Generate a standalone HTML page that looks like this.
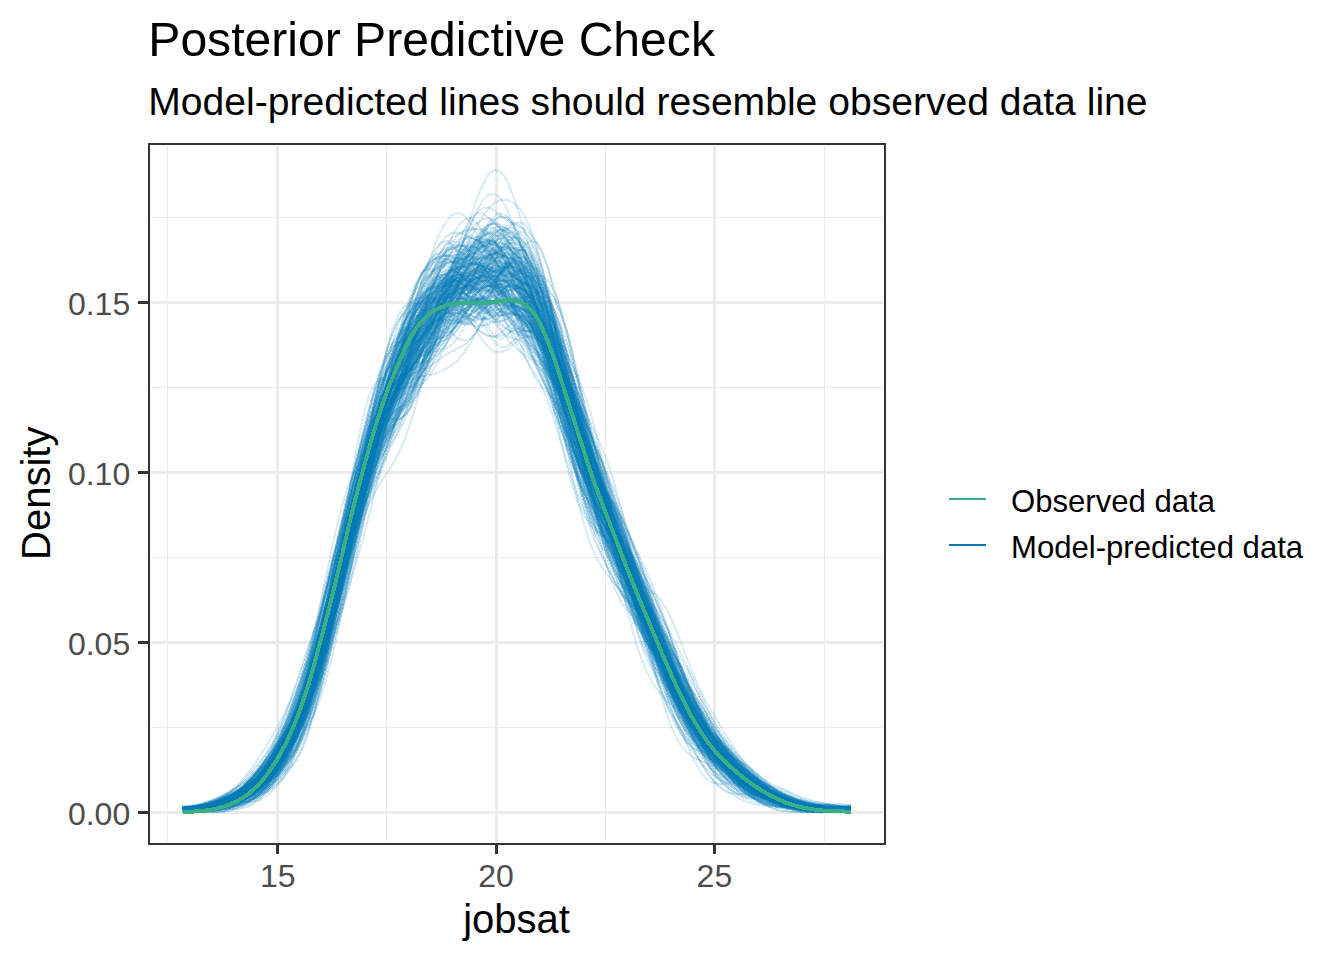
<!DOCTYPE html>
<html lang="en">
<head>
<meta charset="utf-8">
<title>Posterior Predictive Check</title>
<style>
html,body{margin:0;padding:0;background:#ffffff;}
body{width:1344px;height:960px;overflow:hidden;font-family:"Liberation Sans",sans-serif;}
svg{display:block;}
</style>
</head>
<body>
<svg width="1344" height="960" viewBox="0 0 1344 960">
<rect x="0" y="0" width="1344" height="960" fill="#ffffff"/>
<clipPath id="pc"><rect x="150" y="145" width="734" height="698"/></clipPath>
<g fill="#ebebeb" shape-rendering="crispEdges">
<rect x="167" y="146" width="1" height="696"/>
<rect x="386" y="146" width="1" height="696"/>
<rect x="605" y="146" width="1" height="696"/>
<rect x="824" y="146" width="1" height="696"/>
<rect x="151" y="217" width="732" height="1"/>
<rect x="151" y="387" width="732" height="1"/>
<rect x="151" y="557" width="732" height="1"/>
<rect x="151" y="727" width="732" height="1"/>
<rect x="276" y="146" width="3" height="696"/>
<rect x="495" y="146" width="3" height="696"/>
<rect x="713" y="146" width="3" height="696"/>
<rect x="151" y="301" width="732" height="3"/>
<rect x="151" y="471" width="732" height="3"/>
<rect x="151" y="641" width="732" height="3"/>
<rect x="151" y="811" width="732" height="3"/>
</g>
<g clip-path="url(#pc)" shape-rendering="crispEdges">
<g stroke="#0077b5" stroke-opacity="0.15" stroke-width="2" fill="none" stroke-linejoin="round" stroke-linecap="butt">
<path d="M182.5 810.6l6-.2 6-.4 6-.6 6-.8 6-1.2 6-1.5 6-2.1 6-2.6 6-3.3 6-4 6-4.8 6-5.7 6-6.7 6-7.6 6-8.4 6-9.2 6-9.9 6-10.6 6-11.3 6-12.5 6-14.5 6-17.5 6-20 6-22.3 6-25 6-27.8 6-30 6-30.9 6-29.8 6-26.4 6-21.2 6-15.5 6-10.6 6-8 6-8.4 6-10.7 6-13.2 6-14 6-13 6-10.5 6-8 6-6.2 6-5.1 6-4.6 6-4.2 6-3.4 6-1.8 6 .4 6 2.6 6 3.7 6 3.3 6 1.5 6-.6 6-1.6 6-.9 6 1.9 6 6.3 6 11.2 6 15.8 6 19 6 20.6 6 20.7 6 19.5 6 18 6 16.9 6 15.8 6 14.2 6 11.9 6 9.4 6 7.6 6 7 6 7.4 6 8.4 6 9.6 6 11.2 6 13.1 6 15.6 6 18.1 6 19.6 6 19.5 6 18 6 15.4 6 12.6 6 10.4 6 9 6 8.1 6 7.6 6 7.4 6 7.1 6 6.6 6 6 6 5.6 6 5.2 6 4.7 6 4.3 6 4 6 3.6 6 3.4 6 3.2 6 3 6 2.6 6 2.4 6 1.9 6 1.5 6 1.1 6 .8 6 .7 6 .6 6 .6 6 .5 6 .2 2.3 0"/>
<path d="M182.5 811.5l6-.2 6-.4 6-.7 6-1.1 6-1.5 6-2 6-2.2 6-2.4 6-2.4 6-2.8 6-3.5 6-4.7 6-6.3 6-7.8 6-9.2 6-10.2 6-11.5 6-12.9 6-14.8 6-17 6-19.1 6-20.9 6-21.2 6-19.9 6-18.6 6-18.6 6-20 6-22.5 6-25.7 6-28.2 6-29.3 6-28.7 6-26.5 6-23.7 6-21.3 6-20.2 6-19.4 6-17.8 6-14.6 6-9.6 6-3.5 6 2.8 6 8 6 11.2 6 11.8 6 9.3 6 4.6 6-.9 6-6 6-9.2 6-10.5 6-9.6 6-7.7 6-4.9 6-2 6 1.2 6 5 6 9.7 6 15 6 20.6 6 25.3 6 28.2 6 28.4 6 26 6 22.5 6 18.6 6 15.2 6 12.6 6 11.1 6 10.5 6 11.1 6 12.1 6 13 6 14.1 6 14.8 6 15.3 6 15.4 6 14.9 6 14 6 13 6 12.2 6 11.8 6 11.7 6 11.2 6 10.3 6 9.1 6 7.8 6 6.9 6 6.5 6 6.4 6 6.2 6 5.9 6 5.6 6 5.1 6 4.8 6 4.9 6 5.1 6 5.3 6 5.3 6 5 6 4.2 6 3.3 6 2.4 6 1.5 6 0 6 0 6 0 6 0 6 0 6 0 6 0 2.3 0"/>
<path d="M182.5 811.6l6 0 6 0 6-.4 6-.6 6-.4 6-.5 6-.8 6-1.2 6-1.8 6-2.5 6-3.3 6-4.3 6-5.5 6-6.5 6-7.6 6-8.1 6-8.6 6-9.4 6-11.1 6-13.4 6-16.3 6-19.4 6-22.6 6-24.3 6-24.7 6-24.9 6-25.7 6-26.7 6-27.4 6-27.5 6-26.4 6-23.3 6-18.8 6-13 6-7.7 6-4.9 6-5.4 6-8.7 6-12.9 6-16.3 6-17.7 6-17 6-14.5 6-10.9 6-7.2 6-4.2 6-2.3 6-1.3 6-.7 6-.5 6-.5 6-.9 6-1.8 6-3.5 6-5.6 6-7.2 6-7.4 6-4.5 6 1.2 6 9.5 6 18.2 6 25.3 6 29.2 6 29.5 6 27.8 6 25.3 6 23.4 6 22.3 6 21.9 6 22 6 21.7 6 20.4 6 18.2 6 15.9 6 14 6 13 6 12.8 6 12.6 6 12.3 6 11.8 6 11.3 6 11 6 10.8 6 10.6 6 10.4 6 10 6 9.6 6 9.2 6 8.9 6 8.3 6 7.9 6 7.5 6 7.1 6 6.5 6 5.9 6 5.3 6 4.6 6 4 6 3.6 6 3 6 2.4 6 2 6 1.5 6 .9 6 0 6 0 6-.2 6-.6 6-.7 6-.5 6-.3 2.3-.1"/>
<path d="M182.5 811.5l6 0 6-.5 6-.7 6-1 6-1.2 6-1.5 6-1.8 6-2.1 6-2.4 6-2.9 6-3.8 6-4.8 6-6.1 6-7.4 6-8.4 6-8.8 6-8.9 6-9 6-9.8 6-11.8 6-15.2 6-20.1 6-25 6-28.4 6-30.1 6-30.9 6-30.6 6-29.3 6-27.2 6-24.6 6-21.2 6-17.2 6-12.5 6-8 6-5.3 6-5.1 6-6.7 6-9.4 6-11.8 6-13.6 6-14.4 6-13.8 6-11.6 6-8.2 6-4.4 6-1.8 6-1.1 6-2.2 6-3.9 6-5.2 6-5.3 6-4.2 6-2.1 6 .1 6 1.5 6 2.2 6 2.6 6 3.2 6 4.7 6 7.1 6 9.8 6 12.2 6 14.2 6 15.9 6 18.2 6 21.4 6 24.7 6 27.3 6 28.3 6 27.5 6 25.1 6 21.7 6 18 6 15.4 6 14.6 6 15.6 6 17.6 6 19.5 6 20.2 6 19.4 6 17.6 6 15.2 6 13 6 10.9 6 9.1 6 7.4 6 6 6 4.8 6 4.1 6 4.1 6 4.3 6 4.4 6 4.4 6 4.1 6 3.8 6 3.3 6 3.2 6 2.9 6 2.5 6 2.2 6 1.7 6 1.2 6 .7 6 .4 6 .3 6 .1 6 .1 6 .2 6 .3 6 .3 6 .2 2.3 0"/>
<path d="M182.5 808.3l6-.7 6-.9 6-.8 6-.8 6-.6 6-.7 6-.9 6-1.4 6-2.1 6-3.3 6-4.8 6-6.5 6-8 6-9 6-9.4 6-9.1 6-8.2 6-7.6 6-7.7 6-9 6-11.5 6-15.5 6-19.7 6-22.8 6-24.7 6-26.2 6-26.6 6-26 6-24.5 6-22.7 6-21.2 6-20.3 6-19.9 6-20.1 6-20.3 6-20.3 6-19.4 6-16.7 6-13.3 6-9.9 6-8 6-7.4 6-7.9 6-8.4 6-8.6 6-8.5 6-8.1 6-6.8 6-4.6 6-1.5 6 1.7 6 4 6 5.3 6 5.4 6 5 6 4.7 6 5 6 6.2 6 8.1 6 10.9 6 14.5 6 18.3 6 21.6 6 23.8 6 24.4 6 23.4 6 20.9 6 17.6 6 14.6 6 13.3 6 13.7 6 15.6 6 17.5 6 19.1 6 19.4 6 18.8 6 17.6 6 15.8 6 13.8 6 11.9 6 10.6 6 9.7 6 9.5 6 9.5 6 9.5 6 9.5 6 9.2 6 9.1 6 9.1 6 9 6 8.9 6 8.7 6 8.3 6 7.4 6 6.3 6 5.1 6 3.9 6 2.7 6 1.8 6 1.2 6 .7 6 .5 6 .3 6 .3 6 .3 6 .4 6 .6 6 .7 6 .6 6 .5 6 .2 2.3 0"/>
<path d="M182.5 810.1l6-.8 6-1 6-1.3 6-1.7 6-2 6-2.3 6-2.5 6-2.9 6-3.6 6-4.6 6-5.7 6-7 6-8.2 6-8.7 6-9.4 6-10.2 6-11.6 6-13.4 6-15.9 6-18.7 6-21.2 6-22.7 6-23.4 6-24.4 6-25.6 6-26.3 6-26.2 6-25 6-22.6 6-19.2 6-14.9 6-9.9 6-5 6-1.6 6-.5 6-1.6 6-3.4 6-5.4 6-7.1 6-9 6-11.6 6-15 6-17.9 6-19.4 6-18.8 6-16.4 6-12.6 6-7.7 6-2.3 6 3.3 6 8.5 6 12.3 6 14.1 6 13.9 6 11.6 6 8.6 6 6.1 6 4.9 6 5.4 6 7.2 6 10.1 6 13.5 6 16.8 6 19.1 6 20.2 6 19.4 6 17.2 6 14 6 10.9 6 8.8 6 8.6 6 10.3 6 13.1 6 15.6 6 17.3 6 17.5 6 16.4 6 15.1 6 13.7 6 12.9 6 12 6 11.6 6 11.3 6 11.2 6 11.3 6 11.1 6 10.5 6 9.2 6 7.6 6 5.8 6 4.4 6 3.5 6 3.5 6 3.7 6 4.4 6 4.9 6 5.4 6 5.5 6 5.4 6 4.9 6 4 6 3.1 6 2.1 6 1.3 6 .9 6 .7 6 .6 6 .5 6 .4 6 .1 6 0 2.3 0"/>
<path d="M182.5 809.6l6 .4 6 .1 6-.3 6-.7 6-1.2 6-1.6 6-2 6-2.3 6-2.7 6-3.1 6-4 6-4.9 6-6.2 6-7.3 6-8.6 6-9.4 6-10.2 6-11.1 6-11.9 6-12.6 6-13.3 6-14.2 6-15.1 6-15.4 6-16.4 6-18.7 6-21.9 6-24.8 6-27.1 6-27.8 6-26.5 6-23.2 6-17.9 6-12 6-7.5 6-6 6-7.5 6-10.9 6-14.6 6-17.5 6-19.6 6-20.3 6-20.2 6-18.6 6-15.5 6-11.7 6-7.1 6-2.4 6 2.4 6 6.3 6 8.8 6 9 6 7.6 6 5 6 2.5 6 1 6 .8 6 2 6 4.1 6 7 6 10.2 6 13.6 6 16.9 6 19.5 6 21.4 6 22.1 6 21.3 6 19.5 6 17.3 6 16 6 16.6 6 18.5 6 20.4 6 21 6 19.7 6 17 6 14 6 11.9 6 11.3 6 12 6 13.3 6 14.5 6 15 6 14.7 6 13.5 6 11.9 6 9.9 6 7.9 6 5.6 6 3.9 6 2.6 6 2 6 2.2 6 3 6 4 6 4.7 6 5.1 6 4.9 6 4.4 6 3.6 6 2.8 6 2.1 6 1.5 6 1.1 6 .7 6 .4 6 .2 6 .2 6 .2 6 .2 6 .1 2.3 0"/>
<path d="M182.5 807.7l6-.8 6-1.1 6-1.5 6-1.7 6-2 6-2.1 6-1.9 6-1.6 6-1.3 6-1.3 6-1.5 6-2.2 6-3 6-4.1 6-5.2 6-6.3 6-8.1 6-10.8 6-13.7 6-16.7 6-19.8 6-22.3 6-23.4 6-23 6-22.9 6-23.7 6-24.9 6-26.5 6-27.8 6-28.4 6-27.6 6-25.5 6-21.9 6-17.5 6-13.5 6-10.4 6-8.3 6-6.8 6-6.1 6-6 6-6.5 6-7 6-7.3 6-7 6-6.4 6-6.4 6-7.2 6-8.1 6-8.5 6-7.9 6-5.8 6-3 6 .2 6 2.7 6 4 6 4.3 6 4.2 6 5 6 7.3 6 10.7 6 14.4 6 17.5 6 18.8 6 18.2 6 17 6 16 6 15.8 6 16.5 6 17.4 6 18.3 6 18.5 6 17.8 6 16.2 6 14.6 6 13.8 6 14.3 6 16.3 6 19.1 6 21.5 6 22.5 6 21.8 6 19.5 6 16.2 6 12.4 6 9 6 6.4 6 4.8 6 4.4 6 5.1 6 5.9 6 6.6 6 7.3 6 7.5 6 7.6 6 7.2 6 6.5 6 5.6 6 4.4 6 3.3 6 2.4 6 1.7 6 1.2 6 .9 6 .8 6 .8 6 .8 6 .7 6 .4 6 .2 6-.1 6-.3 2.3-.1"/>
<path d="M182.5 810.6l6-.2 6-.7 6-1.3 6-1.8 6-2.5 6-3.1 6-3.4 6-3.5 6-3.1 6-2.5 6-2.3 6-2.4 6-3.2 6-4.9 6-6.9 6-8.9 6-10.8 6-12.4 6-13.7 6-15 6-16.6 6-19.2 6-21.4 6-22.8 6-24 6-25.3 6-26.4 6-27 6-27 6-26.4 6-24.6 6-21.6 6-17.4 6-12.5 6-8.8 6-6.7 6-6.2 6-6.6 6-7.6 6-9 6-10.4 6-11.6 6-12.2 6-11.5 6-9.8 6-8 6-6.3 6-4.8 6-3.2 6-1.7 6-.3 6 .9 6 1.8 6 2.9 6 4.3 6 6.3 6 8.6 6 10.4 6 11.4 6 11.6 6 12 6 13 6 14.6 6 16.9 6 19 6 20.8 6 21.5 6 21.4 6 21 6 20.8 6 21 6 20.8 6 20.2 6 18.9 6 17 6 14.9 6 12.9 6 11.1 6 9.7 6 9.2 6 9.5 6 10.2 6 11 6 11.4 6 11.5 6 11 6 10.4 6 9.5 6 8.5 6 7.5 6 6.3 6 5.2 6 4.1 6 3.3 6 2.7 6 2.4 6 2.5 6 2.5 6 2.5 6 2.5 6 2.2 6 1.9 6 1.7 6 1.3 6 1 6 .7 6 .5 6 .2 6-.1 6-.3 6-.5 2.3-.2"/>
<path d="M182.5 809.9l6-.2 6-.3 6-.4 6-.6 6-1 6-1.6 6-2.4 6-3.2 6-3.8 6-4.5 6-5.3 6-6 6-7 6-8.3 6-9.7 6-10.9 6-11.9 6-11.8 6-11.7 6-11.8 6-12.9 6-15.6 6-18.7 6-21.2 6-23 6-24.1 6-24.2 6-23.8 6-23.7 6-24.3 6-25.2 6-25.7 6-24.8 6-22.4 6-18.9 6-15.4 6-12.3 6-9.9 6-8.6 6-8.7 6-9.6 6-10.5 6-10.5 6-8.7 6-5.5 6-1.4 6 2 6 3.9 6 4.1 6 2.6 6 .6 6-.7 6-.5 6 .8 6 3 6 6 6 9.6 6 14.1 6 19.1 6 23.2 6 25.4 6 25.4 6 23.1 6 19.7 6 16.7 6 14.5 6 13.3 6 12.4 6 11.3 6 10.5 6 10.1 6 9.9 6 10.1 6 10.7 6 11.6 6 12.9 6 14 6 15 6 15.2 6 14.8 6 13.8 6 12.8 6 11.6 6 10.5 6 9.4 6 8.3 6 7.4 6 7 6 7.2 6 7.4 6 7.8 6 7.9 6 7.6 6 6.9 6 5.8 6 4.6 6 3.6 6 2.7 6 2.3 6 1.9 6 1.9 6 1.9 6 1.8 6 1.7 6 1.4 6 1.1 6 .8 6 .5 6 .2 6 .1 6-.1 2.3-.1"/>
<path d="M182.5 811.2l6-.2 6-.4 6-.7 6-1.2 6-1.7 6-2.3 6-2.6 6-2.8 6-2.6 6-2.2 6-2 6-2.2 6-3.1 6-4.6 6-6.8 6-9 6-11 6-12.8 6-14.3 6-16 6-18.4 6-21.4 6-24.1 6-24.7 6-23.5 6-21.9 6-20.2 6-19.1 6-19.4 6-20.7 6-22.5 6-24 6-24.4 6-23.3 6-21.9 6-20.5 6-19.3 6-18.1 6-16.6 6-15.2 6-13.9 6-12.3 6-10.1 6-6.7 6-2.6 6 .6 6 1.9 6 .8 6-1.9 6-5 6-6.7 6-5.9 6-2.4 6 2.8 6 8.4 6 13.1 6 16.3 6 18.4 6 19.2 6 19.1 6 18.2 6 16.9 6 15.7 6 15.3 6 16.4 6 18.1 6 19.7 6 19.9 6 19 6 17.6 6 16.7 6 16.6 6 16.8 6 17.3 6 17.1 6 16.3 6 15.3 6 14 6 12.8 6 12 6 11.7 6 12 6 12.6 6 13.5 6 13.9 6 13.7 6 12.8 6 11 6 8.5 6 6.2 6 4.2 6 2.8 6 2.2 6 2.2 6 2.3 6 2.8 6 3.1 6 3 6 2.7 6 2.4 6 1.8 6 1.3 6 1.1 6 .8 6 .7 6 .7 6 .6 6 .6 6 .3 6 0 6-.4 2.3-.1"/>
<path d="M182.5 809.8l6-.7 6-.8 6-.9 6-1 6-1.2 6-1.6 6-2 6-2.7 6-3.5 6-4.4 6-5.4 6-6.5 6-7.6 6-8.5 6-8.9 6-9 6-8.8 6-8.7 6-9.5 6-11 6-13.7 6-17 6-19.7 6-21.1 6-22.3 6-23.5 6-24.4 6-24.7 6-24.8 6-24.3 6-23.7 6-22.8 6-21.6 6-20.2 6-19.2 6-18.4 6-17 6-14.8 6-11.6 6-8 6-4.7 6-2.3 6-1.1 6-.8 6-1.5 6-2.8 6-4.6 6-6.2 6-7.6 6-8.3 6-8.1 6-6.5 6-3.3 6 .9 6 5.7 6 9.7 6 12.7 6 14.5 6 15.6 6 16.2 6 16.8 6 17.5 6 17.8 6 17.8 6 18.1 6 18.7 6 19.3 6 19.4 6 18.6 6 17.3 6 15.9 6 14.3 6 13 6 12.1 6 11.6 6 11.6 6 12.1 6 13.3 6 14.6 6 16.1 6 17.4 6 17.7 6 17.2 6 15.3 6 12.8 6 10 6 7.6 6 5.8 6 4.6 6 4.4 6 4.4 6 4.6 6 4.7 6 4.8 6 4.4 6 4.1 6 3.8 6 3.4 6 2.9 6 2.4 6 1.8 6 1.4 6 1.1 6 1 6 .8 6 .6 6 .5 6 .3 6 .3 6 .3 6 .4 2.3 .2"/>
<path d="M182.5 809.5l6-.1 6-.4 6-.6 6-.8 6-1 6-1.4 6-1.7 6-2.1 6-2.5 6-2.7 6-3 6-3.4 6-4.1 6-5.2 6-6.7 6-8.3 6-10 6-11.7 6-13.7 6-15.9 6-18.4 6-21.6 6-24.4 6-25.8 6-26.2 6-26.8 6-27.3 6-27.1 6-26.3 6-24.7 6-22.6 6-20.7 6-18.8 6-16.6 6-14.3 6-11.7 6-8.8 6-5.9 6-4.4 6-5.3 6-8.8 6-13.4 6-17 6-17.5 6-14.7 6-10.2 6-6.4 6-4.1 6-3.8 6-4.3 6-4.6 6-3.8 6-1.5 6 1.5 6 4.9 6 8 6 10.4 6 12.1 6 13.6 6 15.1 6 16.8 6 18.8 6 20.8 6 22.5 6 23.6 6 23.9 6 23.5 6 22.1 6 20.3 6 19.2 6 18.8 6 18.5 6 17.9 6 16.4 6 14.4 6 12.8 6 12.1 6 12.8 6 14.1 6 15.4 6 16.1 6 15.8 6 14.8 6 13.1 6 11.4 6 9.7 6 7.9 6 6.3 6 5 6 4.3 6 4 6 4.3 6 4.7 6 5 6 4.9 6 4.4 6 3.8 6 3.2 6 2.6 6 2.2 6 2 6 1.9 6 1.9 6 1.7 6 1.4 6 1.1 6 .6 6 .1 6-.3 6-.6 6-.6 2.3-.1"/>
<path d="M182.5 811l6-.5 6-.4 6-.3 6-.3 6-.5 6-1 6-1.7 6-2.6 6-3.5 6-4.3 6-5.1 6-5.9 6-6.6 6-7.7 6-8.9 6-10.4 6-12.1 6-13.5 6-14.8 6-15.6 6-16 6-16.8 6-17.6 6-17.8 6-18 6-19.1 6-20.6 6-21.8 6-22.2 6-21.7 6-20.4 6-18.8 6-16.9 6-14.7 6-12.5 6-10.7 6-9.3 6-8.5 6-8.9 6-10.3 6-12.7 6-15.2 6-16.8 6-16.9 6-15.6 6-13.7 6-11.8 6-10 6-7.8 6-5.3 6-2.5 6 .2 6 2.5 6 4.3 6 5.6 6 6.5 6 7.5 6 8.7 6 10.6 6 13.6 6 17.2 6 21.3 6 24.3 6 26 6 26.1 6 25.1 6 23.3 6 20.6 6 17.6 6 15.1 6 13.4 6 13 6 13.3 6 13.9 6 14.6 6 15.1 6 15.8 6 16.7 6 17.6 6 17.8 6 17.1 6 15.5 6 13.1 6 10.5 6 8 6 5.8 6 4.4 6 3.2 6 2.8 6 3.1 6 3.9 6 4.9 6 5.7 6 6.2 6 5.8 6 5.1 6 4.2 6 3.2 6 2.5 6 1.9 6 1.7 6 1.5 6 1.4 6 1.5 6 1.4 6 1.2 6 1 6 .9 6 .8 6 .7 6 .6 2.3 .3"/>
<path d="M182.5 808.9l6-.3 6-.4 6-.5 6-.7 6-1 6-1.3 6-1.8 6-2.6 6-3.6 6-4.7 6-5.8 6-7 6-8 6-9 6-10 6-10.7 6-11.4 6-11.8 6-12.5 6-13.8 6-15.5 6-16.8 6-18.2 6-20.3 6-22.8 6-24.9 6-26.5 6-26.8 6-25.5 6-22.5 6-18.4 6-13.7 6-9.8 6-7.7 6-8.1 6-10.2 6-12.9 6-15.1 6-16.1 6-15.5 6-13.7 6-11.1 6-8.3 6-5.8 6-3.9 6-2.5 6-1.6 6-.7 6 .6 6 1.7 6 2.2 6 2 6 1.2 6 .6 6 1.1 6 3 6 6.2 6 10.1 6 13.4 6 15.6 6 15.8 6 14.5 6 12.2 6 9.6 6 7.9 6 7.3 6 8.1 6 9.5 6 10.9 6 12 6 13.2 6 14.7 6 16.6 6 18.3 6 19.8 6 20.4 6 20.4 6 19.5 6 18.3 6 17 6 15.5 6 13.9 6 12.4 6 11 6 10.1 6 9.4 6 8.7 6 8.1 6 7.4 6 6.8 6 6.3 6 6.1 6 5.9 6 5.8 6 5.3 6 4.8 6 4.3 6 3.7 6 3.4 6 3.2 6 3.1 6 3 6 2.7 6 2.3 6 1.7 6 1.3 6 .8 6 .7 6 .5 6 .5 6 .4 2.3 .2"/>
<path d="M182.5 809.2l6 .4 6 .4 6 .1 6-.2 6-.6 6-1.1 6-1.7 6-2.4 6-3.2 6-3.9 6-4.9 6-6 6-7.2 6-8.6 6-10.2 6-11.5 6-12.7 6-13.2 6-13.8 6-14.1 6-14.4 6-15 6-16.4 6-17.6 6-19.1 6-21.9 6-25.4 6-28.4 6-30.1 6-30 6-28.2 6-24.7 6-20.2 6-15.3 6-11.4 6-9.8 6-10.6 6-12.5 6-14.3 6-15 6-14.3 6-12.5 6-9.9 6-6.7 6-3.6 6-1 6 .6 6 1.3 6 1.9 6 2.7 6 3.7 6 4.7 6 4.9 6 3.6 6 .8 6-2.3 6-4.6 6-5 6-3.1 6 .4 6 5 6 10.4 6 15.9 6 21.3 6 26.2 6 29.2 6 29.3 6 26.7 6 23 6 20 6 19.1 6 20 6 22 6 23.8 6 24.5 6 24.1 6 22.2 6 19.5 6 16.4 6 13.4 6 11.2 6 9.7 6 8.8 6 8.1 6 7.3 6 6.9 6 6.9 6 7.1 6 7.6 6 7.8 6 7.5 6 6.9 6 5.7 6 4.7 6 3.8 6 3.1 6 2.5 6 1.8 6 1.2 6 .5 6 .2 6 0 6 .1 6 .3 6 .3 6 .5 6 .6 6 .5 6 .5 6 .4 6 .1 2.3 0"/>
<path d="M182.5 810l6 .4 6 0 6-.7 6-1.4 6-2.3 6-3 6-3.5 6-3.6 6-3.8 6-4.1 6-4.7 6-5.5 6-6.6 6-7.4 6-8 6-8.5 6-8.9 6-10.1 6-12 6-15.5 6-19.7 6-23.4 6-25.7 6-27.1 6-27.9 6-27.9 6-27.2 6-26.3 6-24.8 6-22.7 6-19.8 6-15.7 6-10.9 6-7 6-4.9 6-5.6 6-8.2 6-11.5 6-14 6-15.1 6-14.2 6-12.3 6-10.3 6-9.1 6-8.9 6-9.8 6-10.5 6-9.9 6-7.2 6-2.9 6 2.2 6 7.4 6 11.8 6 15.3 6 17.8 6 19.3 6 19.3 6 17.9 6 15.6 6 13.1 6 11.2 6 10.5 6 10.7 6 11.7 6 13.3 6 15.2 6 16.8 6 17.2 6 15.9 6 13.3 6 10.6 6 8.7 6 7.9 6 8.3 6 9.3 6 10.7 6 12.1 6 13.7 6 15 6 15.7 6 15.8 6 15.2 6 14.1 6 12.8 6 11.6 6 10.5 6 9.7 6 9 6 8.3 6 7.8 6 7.3 6 7 6 6.7 6 6.3 6 5.8 6 5.1 6 4.3 6 3.6 6 3.2 6 2.9 6 2.8 6 2.7 6 2.5 6 2.1 6 1.6 6 1 6 .4 6 0 6-.4 6-.6 6-.4 2.3 0"/>
<path d="M182.5 809.4l6-.3 6-.4 6-.5 6-.7 6-.9 6-1.3 6-1.9 6-2.5 6-3.3 6-4.1 6-4.8 6-5.6 6-6.2 6-7 6-7.7 6-8.7 6-9.9 6-11.4 6-13.2 6-15.3 6-17.9 6-20.6 6-21.8 6-21.5 6-20.7 6-20 6-19.4 6-19.5 6-20.5 6-22.1 6-23.6 6-24.7 6-24.8 6-24.3 6-24.1 6-24.4 6-24.2 6-22.7 6-19.5 6-14.7 6-9.2 6-4.3 6-.7 6 1.1 6 1.5 6 1.1 6 1.1 6 2.2 6 3.9 6 5.6 6 6.5 6 6.7 6 6.7 6 6.7 6 7.1 6 7.8 6 9.1 6 10.6 6 12.4 6 13.5 6 13.3 6 11.8 6 9.1 6 6.4 6 5 6 5.8 6 8.6 6 12.6 6 16.9 6 20.5 6 23.5 6 25 6 24.4 6 22.1 6 18.1 6 13.5 6 9.6 6 7.5 6 7.4 6 8.8 6 10.9 6 12.8 6 14.1 6 14.2 6 13.3 6 12 6 10.3 6 9.1 6 8.4 6 8.1 6 8.2 6 8.3 6 8.5 6 8.2 6 7.4 6 6.2 6 4.8 6 3.5 6 2.2 6 1.4 6 .8 6 .5 6 .3 6 .3 6 .4 6 .3 6 .4 6 .3 6 .2 6 .2 6 .3 2.3 .1"/>
<path d="M182.5 808.6l6 0 6 0 6-.2 6-.2 6-.6 6-.8 6-1.1 6-1.5 6-2.1 6-3.1 6-4.5 6-6.2 6-8 6-9.8 6-11.5 6-13 6-14.3 6-15.3 6-15.9 6-16.5 6-17.5 6-18.1 6-18 6-18.3 6-19.9 6-22.4 6-24.9 6-26.8 6-27.4 6-25.8 6-22.7 6-18.1 6-13.1 6-9.1 6-7.1 6-7.2 6-8.7 6-10.7 6-12.9 6-14.7 6-15.7 6-15.6 6-14.1 6-10.5 6-5.8 6-.9 6 3.4 6 6.4 6 7.9 6 8.4 6 7.9 6 7 6 5.9 6 4.3 6 2.2 6 .2 6-.8 6 .1 6 3.1 6 7.8 6 12.8 6 16.6 6 18.4 6 18 6 16.8 6 15.4 6 14.4 6 13.9 6 13.8 6 14.4 6 15.4 6 16.3 6 16.8 6 16.9 6 16.8 6 16.9 6 17.2 6 17.5 6 17.1 6 15.9 6 14.1 6 11.9 6 10.2 6 8.9 6 8.1 6 7.6 6 7.5 6 7.6 6 7.6 6 7.4 6 6.8 6 6.1 6 5.4 6 4.9 6 4.4 6 4.1 6 3.9 6 3.6 6 3.2 6 2.8 6 2.4 6 2.1 6 1.8 6 1.5 6 1.3 6 .9 6 .6 6 .2 6-.1 6-.2 6-.2 2.3 0"/>
<path d="M182.5 810.7l6 .5 6 .2 6-.1 6-.6 6-1.1 6-1.7 6-2.1 6-2.4 6-2.4 6-2.4 6-2.7 6-3.2 6-4.4 6-5.7 6-7.7 6-9.5 6-11.6 6-13.9 6-15.6 6-16.8 6-17 6-17.1 6-17.1 6-16.6 6-16.8 6-18.7 6-21.2 6-23.3 6-24.3 6-23.9 6-22.6 6-20.7 6-18.6 6-16.3 6-14.7 6-14.3 6-15.1 6-16.4 6-18 6-19.2 6-19.4 6-17.8 6-14.4 6-9.8 6-5 6-1.8 6-.8 6-1.2 6-2.2 6-2.8 6-2.6 6-2 6-1 6-.3 6 .5 6 2.1 6 4.8 6 9.2 6 15 6 20.7 6 25 6 26.8 6 25.4 6 21.5 6 16.8 6 12.7 6 10.2 6 9.5 6 10.4 6 12.5 6 14.9 6 16.5 6 16.7 6 16.1 6 15.2 6 14.9 6 15.7 6 17.5 6 19.1 6 20 6 19.8 6 18.3 6 15.8 6 12.7 6 9.4 6 6.2 6 4.1 6 3.1 6 3.8 6 5.2 6 6.9 6 8.3 6 8.7 6 8.3 6 7.5 6 6.4 6 5.4 6 4.6 6 3.8 6 2.9 6 2.1 6 1.4 6 .8 6 .3 6 .1 6-.1 6 .1 6 .1 6 .2 6 .1 6 0 2.3 0"/>
<path d="M182.5 811.5l6-.3 6-.7 6-1 6-1.2 6-1.2 6-1.4 6-1.4 6-1.7 6-2 6-2.7 6-3.6 6-4.6 6-5.6 6-6.5 6-7.2 6-7.4 6-7.5 6-8.1 6-9.3 6-11.1 6-13.5 6-16.6 6-19.4 6-21.1 6-22.5 6-25 6-27.9 6-30.5 6-32.3 6-32.4 6-30.6 6-27.4 6-23.3 6-19.2 6-16.1 6-14.1 6-12.6 6-10.3 6-7.5 6-4.6 6-3.1 6-3.6 6-6.4 6-9.7 6-12.6 6-13.9 6-12.8 6-9.6 6-5.3 6-1 6 1.8 6 2.9 6 2.5 6 1.8 6 1.8 6 3.5 6 7.2 6 12.3 6 18.3 6 23.8 6 27.9 6 29.8 6 29.6 6 27.6 6 24.6 6 21.7 6 18.4 6 14.7 6 10.5 6 6.8 6 4.6 6 3.8 6 4.5 6 5.9 6 7.7 6 9.2 6 10.9 6 12.5 6 14.1 6 15.3 6 16.3 6 17.1 6 17.4 6 17.4 6 16.6 6 15.1 6 12.9 6 10.3 6 7.8 6 5.9 6 4.9 6 4.9 6 5.7 6 6.5 6 6.8 6 6.6 6 5.7 6 4.5 6 3 6 2.1 6 1.2 6 .7 6 .5 6 .3 6 .2 6 0 6-.1 6-.1 6-.1 6-.1 6 .1 2.3 0"/>
<path d="M182.5 811.1l6-1.2 6-1.5 6-1.8 6-1.9 6-1.9 6-2.1 6-2.2 6-2.5 6-2.7 6-3 6-3.4 6-4.1 6-5.1 6-6.6 6-8.4 6-10.2 6-12 6-13.4 6-14.8 6-15.5 6-15.8 6-16.2 6-16.1 6-15.4 6-15.1 6-16.4 6-18.8 6-21.6 6-24 6-25.5 6-26.1 6-25.7 6-24.4 6-22.4 6-20.2 6-18.2 6-16.2 6-13.6 6-10.8 6-8.1 6-6 6-5.1 6-5.4 6-6 6-6.9 6-7.6 6-7.9 6-7.4 6-6.2 6-4.5 6-3 6-2.2 6-1.9 6-1.9 6-1 6 .9 6 4.3 6 8 6 11.5 6 14.2 6 16.1 6 17.4 6 18.3 6 18.9 6 19.7 6 20.7 6 21.4 6 21.6 6 21.1 6 20.3 6 19.3 6 18.2 6 16.7 6 15.3 6 14.2 6 13.8 6 14.4 6 15.6 6 16.9 6 17.3 6 16.6 6 14.9 6 12.8 6 10.8 6 9.4 6 8.8 6 8.7 6 8.7 6 8.4 6 7.5 6 6.4 6 5.3 6 4.4 6 3.8 6 3.7 6 3.5 6 3.7 6 3.6 6 3.5 6 3.4 6 3 6 2.8 6 2.3 6 1.8 6 1.3 6 .6 6 .1 6-.2 6-.3 6-.2 6 .1 2.3 .1"/>
<path d="M182.5 809.4l6-.1 6-.4 6-.4 6-.5 6-.6 6-.8 6-1.4 6-1.8 6-2.5 6-3.1 6-4.1 6-5 6-5.9 6-6.8 6-7.3 6-7.5 6-7.7 6-8.2 6-9.1 6-10.7 6-13 6-16.8 6-21 6-24.6 6-27.2 6-29.1 6-29.6 6-28.4 6-25.8 6-22.6 6-19.3 6-16.6 6-14.4 6-12.9 6-12 6-12.2 6-13 6-13.8 6-14.1 6-13.9 6-13.4 6-12.4 6-10.8 6-8.6 6-5.9 6-3.7 6-2.7 6-2.6 6-2.6 6-2 6 0 6 3.2 6 7.7 6 12.2 6 15.9 6 17.6 6 17.2 6 14.7 6 11 6 7.8 6 5.9 6 6.2 6 7.9 6 10.1 6 12.1 6 13.7 6 14.7 6 15.5 6 16.5 6 18.2 6 20.7 6 22.6 6 22.6 6 20.3 6 16 6 11.6 6 8.5 6 8.1 6 9.9 6 12.4 6 14.4 6 14.7 6 13.3 6 10.7 6 8.1 6 6.1 6 5.1 6 4.9 6 5.7 6 6.6 6 7.4 6 7.9 6 7.8 6 7.2 6 6.2 6 5.1 6 4.1 6 3.2 6 2.5 6 1.9 6 1.5 6 1.2 6 .9 6 .9 6 .6 6 .5 6 .4 6 .2 6 0 6 0 6 0 2.3 0"/>
<path d="M182.5 806.8l6-.5 6-.5 6-.4 6-.3 6-.4 6-.8 6-1.3 6-2 6-2.6 6-3.4 6-4.3 6-5.2 6-6 6-6.9 6-7.5 6-8.5 6-9.9 6-12.3 6-15.3 6-18.6 6-21.9 6-24.6 6-25.2 6-23.9 6-22.2 6-21.1 6-20.9 6-21.6 6-23.1 6-24.4 6-24.5 6-23 6-20 6-16.2 6-13.3 6-12.3 6-12.8 6-13.8 6-14.4 6-13.7 6-11.8 6-8.8 6-5.5 6-2 6 .7 6 2.1 6 1.6 6-.2 6-2.4 6-4.1 6-4.9 6-4 6-1.9 6 1.1 6 4.7 6 8 6 11.1 6 13.7 6 16.1 6 18.3 6 19.9 6 20.7 6 19.9 6 17.6 6 14.6 6 12.2 6 11 6 11.5 6 13.1 6 15.4 6 17.8 6 19.3 6 19 6 17.1 6 14.1 6 11.3 6 9.6 6 9.5 6 10.8 6 12.8 6 15.1 6 17 6 18 6 18.2 6 17.1 6 14.6 6 11.5 6 8.2 6 5.3 6 3.9 6 3.7 6 4.4 6 5.2 6 5.9 6 5.8 6 5.2 6 4.1 6 3.1 6 1.9 6 1 6 .4 6 .1 6-.1 6 0 6 .2 6 .2 6 .4 6 .5 6 .4 6 .5 6 .5 2.3 .1"/>
<path d="M182.5 809.3l6 .2 6-.1 6-.5 6-.9 6-1.6 6-2.2 6-2.7 6-3.2 6-4 6-5 6-6.1 6-7.3 6-8.8 6-9.9 6-10.7 6-11.7 6-12.6 6-13.2 6-14.1 6-15.4 6-17.1 6-18.9 6-19.8 6-20.6 6-21.7 6-22.7 6-23.1 6-23.1 6-22.7 6-21.9 6-20.3 6-18.1 6-14.8 6-11 6-7.8 6-5.6 6-4.4 6-4.7 6-6.2 6-9.1 6-13 6-17.1 6-19.7 6-19.6 6-16.5 6-10.7 6-4 6 2 6 5.5 6 5.5 6 2.5 6-1.7 6-5.1 6-6.3 6-4.8 6-1 6 4.1 6 9.8 6 15.2 6 20.6 6 25.3 6 29 6 30.9 6 30.6 6 28.6 6 25.6 6 22.5 6 19.7 6 17.4 6 15.4 6 13.6 6 11.8 6 9.8 6 8.1 6 6.5 6 5.5 6 5.2 6 5.7 6 6.7 6 7.8 6 8.7 6 9.5 6 10.5 6 11.5 6 12.6 6 13.4 6 13.7 6 13.1 6 12 6 10.3 6 8.6 6 7.2 6 6.2 6 5.4 6 4.6 6 4 6 3.4 6 3.1 6 2.8 6 2.4 6 2 6 1.5 6 1.1 6 .6 6 .5 6 .5 6 .3 6 .4 6 .4 6 .3 6 .3 2.3 .1"/>
<path d="M182.5 810.5l6 .4 6 .2 6-.1 6-.4 6-.9 6-1.5 6-2.3 6-3 6-3.8 6-4.8 6-5.7 6-6.6 6-7.5 6-8.2 6-8.6 6-8.7 6-8.8 6-8.8 6-9.7 6-11.5 6-14.8 6-19.2 6-23.3 6-26 6-27.1 6-27 6-25.5 6-22.8 6-19.9 6-17.1 6-14.6 6-12.3 6-10 6-7.9 6-7.4 6-8.7 6-11.5 6-14.8 6-18.1 6-20.6 6-22 6-21.4 6-18.6 6-13.4 6-6.2 6 .7 6 5.9 6 8.3 6 8 6 5.1 6 1.1 6-3.3 6-6.9 6-9.1 6-9.5 6-7.7 6-4 6 1.5 6 8 6 14.7 6 20.6 6 25.2 6 27.5 6 27.4 6 25.3 6 22 6 18.1 6 14.4 6 11 6 8.8 6 8.3 6 9.4 6 11.4 6 13.5 6 15.4 6 16.8 6 18.1 6 19.1 6 19.7 6 19.1 6 17 6 13.9 6 10.8 6 8.4 6 7.4 6 7.7 6 8.4 6 9.1 6 9.3 6 8.6 6 7.6 6 6.5 6 5.9 6 5.4 6 5.1 6 5 6 4.8 6 4.7 6 4.4 6 4.1 6 3.6 6 2.8 6 2.1 6 1.4 6 .8 6 .3 6-.1 6-.3 6-.4 6-.4 6-.2 2.3 0"/>
<path d="M182.5 809.5l6 0 6 0 6-.1 6-.2 6-.5 6-.9 6-1.2 6-1.6 6-2.2 6-3 6-4 6-5.3 6-6.9 6-8.6 6-10.4 6-12.4 6-14.3 6-16.3 6-17.6 6-18.7 6-19.7 6-19.5 6-18 6-16.4 6-15.9 6-16.3 6-17.9 6-20.3 6-22.9 6-25.3 6-26.6 6-26.3 6-24 6-20.3 6-15.6 6-11 6-6.6 6-3.3 6-1.6 6-1.6 6-2.8 6-4.4 6-5.8 6-6.5 6-6.7 6-7.2 6-7.7 6-8 6-7.8 6-7 6-5.6 6-3.8 6-1.7 6 .4 6 2.1 6 3.3 6 3.6 6 3.7 6 4.3 6 6.1 6 9.5 6 14.1 6 18.8 6 22.4 6 24.7 6 25.4 6 24.8 6 23 6 20.8 6 18.6 6 17.3 6 16.6 6 16.2 6 16 6 16.2 6 16.8 6 17.9 6 19.1 6 19.3 6 17.8 6 14.5 6 10.3 6 6.5 6 4.2 6 3.6 6 4.7 6 6.1 6 7.4 6 8.1 6 7.9 6 7.5 6 6.9 6 6.4 6 5.7 6 4.8 6 3.9 6 3 6 2.5 6 2.1 6 2 6 2.1 6 2 6 1.9 6 1.7 6 1.5 6 1.1 6 .8 6 .4 6 .1 6 .1 6 0 2.3 0"/>
<path d="M182.5 809.9l6 0 6-.3 6-.7 6-1.2 6-1.7 6-2.1 6-2.5 6-2.8 6-3.2 6-3.5 6-4.3 6-5.3 6-6.5 6-7.7 6-8.6 6-8.9 6-8.6 6-8.3 6-8.4 6-9.3 6-11 6-14 6-17.3 6-20.3 6-23.1 6-26.4 6-29.6 6-31.8 6-32.8 6-32.2 6-29.9 6-26.2 6-21.5 6-16.5 6-12.5 6-10.2 6-9.1 6-8.2 6-7.3 6-6 6-4.8 6-3.5 6-2.1 6-.3 6 1.2 6 1.6 6 .6 6-1.4 6-4.1 6-7 6-9.7 6-11.9 6-13 6-12.4 6-9.5 6-4.4 6 2.1 6 8.9 6 14.6 6 18.2 6 19.6 6 19.4 6 18.5 6 17.8 6 18.4 6 20.1 6 21.8 6 22.5 6 21.7 6 20.2 6 18.7 6 17.8 6 17.5 6 17.6 6 17.5 6 16.9 6 16.1 6 15.1 6 14.4 6 13.9 6 13.6 6 13.2 6 12.4 6 11.1 6 9.5 6 8.2 6 7 6 6.4 6 6.1 6 6 6 6.2 6 6.4 6 6.7 6 6.5 6 6.1 6 5.4 6 4.6 6 3.8 6 3.1 6 2.7 6 2.2 6 1.6 6 1.3 6 .8 6 .3 6-.1 6-.2 6-.4 6-.3 6-.1 6-.1 2.3 .1"/>
<path d="M182.5 810l6-.6 6-.6 6-.8 6-.8 6-1.1 6-1.6 6-2.3 6-2.8 6-3.2 6-3.6 6-3.7 6-3.9 6-4.3 6-4.8 6-5.4 6-6.2 6-7.2 6-9 6-10.9 6-13 6-15.9 6-19.3 6-22.6 6-25.1 6-27.4 6-29.5 6-30.1 6-28.8 6-25.9 6-22 6-18 6-14.6 6-12.3 6-10.9 6-11.4 6-13.3 6-15.9 6-18.2 6-19.6 6-20 6-19.7 6-18.8 6-17.3 6-14.6 6-11.2 6-7.6 6-4.2 6-1.6 6 .6 6 2.3 6 4.1 6 6.5 6 9 6 11.6 6 13.2 6 14.1 6 14 6 13.4 6 12.3 6 11 6 9.8 6 8.9 6 8.8 6 10 6 12.6 6 15.7 6 18.4 6 19.5 6 19.7 6 19.1 6 18.5 6 17.3 6 15.8 6 14.2 6 12.8 6 12.3 6 13.1 6 14.8 6 16.8 6 18.3 6 18.8 6 18.3 6 16.7 6 14.7 6 12.4 6 10.2 6 8.4 6 7.5 6 7.5 6 7.7 6 7.9 6 7.8 6 7 6 5.6 6 4.3 6 3.2 6 2.5 6 2.1 6 1.9 6 1.9 6 1.8 6 1.6 6 1.3 6 1 6 .6 6 .5 6 .4 6 .4 6 .3 6 .1 6 0 2.3-.1"/>
<path d="M182.5 810.3l6 0 6 0 6-.1 6-.5 6-.9 6-1.5 6-2.1 6-2.6 6-3.1 6-3.8 6-4.5 6-5.1 6-6 6-6.6 6-7.1 6-7.6 6-8 6-9.2 6-11 6-13.5 6-17 6-20.7 6-23.1 6-24.2 6-24.9 6-25.4 6-25.3 6-24.4 6-22.7 6-20 6-16.7 6-13.2 6-10.2 6-9 6-10.3 6-13.5 6-17.1 6-19.8 6-20.6 6-20 6-18.4 6-15.9 6-12.5 6-7.8 6-2.6 6 1.4 6 3.3 6 2.5 6-.1 6-3.2 6-5.5 6-6 6-4.8 6-2.1 6 1.3 6 5.3 6 8.9 6 12.2 6 15 6 17.5 6 19.7 6 21.6 6 22.6 6 22.9 6 22.3 6 20.9 6 18.7 6 15.7 6 12.6 6 10.5 6 9.7 6 10.1 6 11.1 6 12.5 6 13.8 6 15 6 15.8 6 16.3 6 16.1 6 15.1 6 13.7 6 12.6 6 11.7 6 11.5 6 11.2 6 10.9 6 10.2 6 9.1 6 7.8 6 6.4 6 5.6 6 5.2 6 5.4 6 5.8 6 6 6 5.8 6 5.4 6 4.4 6 3.4 6 2.5 6 1.8 6 1.2 6 .8 6 .5 6 .1 6-.1 6-.4 6-.6 6-.5 6-.4 6-.1 2.3 0"/>
<path d="M182.5 809.5l6 .1 6-.4 6-.8 6-1.2 6-1.6 6-1.9 6-2 6-2.1 6-2.4 6-2.7 6-3.5 6-4.2 6-5.1 6-5.7 6-6.3 6-6.9 6-8 6-9.7 6-11.6 6-13.6 6-15.8 6-18.2 6-20 6-21.1 6-22.6 6-24.7 6-26.2 6-26.6 6-25.8 6-24 6-21.7 6-19.9 6-18.7 6-18 6-17.9 6-17.3 6-15.7 6-13.1 6-9.9 6-7.3 6-5.9 6-5.6 6-5.6 6-4.9 6-3.1 6-.5 6 2 6 3.4 6 3.1 6 .7 6-3.4 6-7.8 6-10.8 6-11.4 6-9.3 6-5 6 .3 6 5.7 6 10.3 6 14.4 6 18.4 6 22 6 25 6 26.5 6 26.2 6 24.1 6 20.8 6 16.9 6 13.5 6 11.6 6 11.4 6 12.1 6 12.9 6 13.5 6 13.5 6 13.8 6 14.4 6 15.5 6 16.9 6 17.7 6 17.8 6 17.1 6 15.5 6 13.3 6 11 6 8.9 6 7.4 6 6.6 6 6.3 6 6.2 6 5.9 6 5.6 6 5 6 4.5 6 4 6 3.8 6 3.8 6 3.9 6 3.8 6 3.6 6 3 6 2.4 6 1.5 6 .8 6 .2 6-.2 6-.4 6-.4 6-.3 6-.1 6-.1 2.3-.1"/>
<path d="M182.5 808.6l6 .1 6-.2 6-.5 6-.7 6-1.2 6-1.7 6-2.4 6-3.1 6-3.9 6-4.5 6-5.5 6-6.6 6-7.9 6-9.3 6-10.7 6-11.7 6-12.3 6-12.4 6-12.6 6-13.2 6-14.3 6-16.3 6-18.1 6-18.8 6-19.2 6-19.6 6-19.9 6-19.8 6-19.3 6-18.9 6-18.5 6-18.1 6-17.6 6-17.2 6-17.4 6-18.4 6-19.3 6-19.5 6-18.6 6-16.6 6-14.1 6-11.2 6-8 6-4.8 6-2.2 6-1.2 6-1 6-1.5 6-1.7 6-.9 6 .8 6 3.5 6 6.8 6 9.5 6 10.7 6 9.3 6 5.9 6 1.9 6-.7 6-.7 6 2.8 6 8.7 6 15.4 6 21.6 6 25.9 6 27.4 6 26 6 21.9 6 17.2 6 13.4 6 11.8 6 11.9 6 13.5 6 15.5 6 17 6 18.1 6 19 6 19.3 6 19.3 6 18.5 6 17.1 6 15.3 6 13.2 6 11.1 6 9.5 6 8.1 6 7.1 6 6.2 6 5.4 6 5 6 4.6 6 4.6 6 4.6 6 4.4 6 4.1 6 3.7 6 3 6 2.3 6 1.7 6 1.3 6 1 6 1 6 1.1 6 1.2 6 1.2 6 1.1 6 1.1 6 .9 6 .8 6 .6 6 .3 2.3 .1"/>
<path d="M182.5 810.7l6-.6 6-.9 6-1.2 6-1.5 6-1.9 6-2.4 6-2.8 6-3.2 6-3.8 6-4.6 6-5.8 6-6.9 6-7.8 6-8.3 6-8.5 6-8.6 6-9.1 6-9.9 6-11.4 6-13.9 6-16.9 6-19.7 6-21.6 6-23.1 6-24.2 6-24.4 6-23.6 6-21.8 6-20.1 6-18.4 6-17.3 6-16.4 6-15.5 6-14.5 6-13.9 6-13.4 6-12.4 6-11.1 6-9.5 6-8.3 6-7.9 6-7.8 6-7.6 6-6.7 6-5.5 6-4.2 6-3.4 6-3.1 6-3.1 6-2.7 6-2.2 6-1.9 6-1.8 6-2.4 6-3.2 6-3.2 6-1.9 6 1.3 6 5.5 6 10.2 6 14.3 6 17.7 6 20.5 6 22.6 6 24 6 24.5 6 23.5 6 21.4 6 18.3 6 15.2 6 13 6 12.1 6 12.2 6 12.6 6 13.1 6 13.3 6 13.3 6 13.6 6 14.1 6 14.4 6 14.4 6 14.1 6 13.7 6 13.5 6 13.5 6 13.6 6 13.4 6 12.5 6 10.7 6 8.4 6 6 6 4.2 6 3.1 6 2.9 6 3.2 6 3.5 6 3.6 6 3.4 6 3 6 2.4 6 1.8 6 1.1 6 .8 6 .6 6 .6 6 .9 6 1 6 1.2 6 1.1 6 .8 6 .6 2.3 .2"/>
<path d="M182.5 809l6 .5 6 .8 6 .8 6 .5 6 0 6 0 6 0 6-.8 6-1.7 6-2 6-2.4 6-3.1 6-4.3 6-6 6-8 6-10.3 6-12.4 6-14.6 6-16.5 6-17.8 6-18.8 6-19.9 6-21.4 6-22.1 6-21.9 6-21.8 6-21.9 6-21.9 6-21.7 6-21.4 6-21 6-20.4 6-19.6 6-18.6 6-18.1 6-18.6 6-18.8 6-17.9 6-14.9 6-10.5 6-5.7 6-2 6-.2 6 .1 6-.8 6-2.9 6-6 6-9.2 6-11.4 6-12 6-10.6 6-7.6 6-3.7 6-.2 6 3 6 6.1 6 9.3 6 13.2 6 17 6 20.5 6 22.6 6 23.3 6 22.1 6 19.6 6 16.8 6 14.9 6 14.4 6 15.3 6 17.6 6 20.8 6 23.7 6 25 6 24.1 6 21.3 6 17.2 6 12.9 6 9.5 6 7.6 6 7.1 6 7.8 6 9.5 6 11.5 6 13.1 6 14 6 13.5 6 12 6 9.4 6 6.7 6 4.6 6 3.4 6 3.3 6 3.7 6 4.2 6 4.6 6 4.8 6 4.9 6 4.8 6 4.5 6 4.1 6 3.6 6 2.9 6 2.3 6 1.9 6 1.5 6 1 6 .7 6 .1 6 0 6 0 6 0 6-.7 2.3-.3"/>
<path d="M182.5 810.4l6 .2 6 .1 6 0 6 0 6-.2 6-.5 6-.9 6-1.8 6-2.6 6-3.3 6-3.8 6-4.2 6-4.8 6-5.6 6-7.2 6-9.6 6-12.5 6-15.3 6-17.9 6-19.4 6-20 6-20.3 6-21.1 6-21.7 6-21.6 6-21.5 6-22.4 6-23.7 6-25.9 6-28.7 6-31.4 6-32.8 6-31.8 6-27.6 6-21.3 6-14.6 6-8.6 6-3.3 6 1.4 6 5.3 6 7.6 6 7.8 6 5.8 6 2.3 6-2.1 6-6.4 6-10.5 6-13 6-13.8 6-12.8 6-10.9 6-8.6 6-6.6 6-4.2 6-1.3 6 2.1 6 5.9 6 9.1 6 11.8 6 14.2 6 16.8 6 19.9 6 22.8 6 24.9 6 25.3 6 23.2 6 19.2 6 14.3 6 10.6 6 9.7 6 11.5 6 14.9 6 18.6 6 21.2 6 22 6 21 6 19 6 16.5 6 14.4 6 13.3 6 13 6 13.3 6 13.7 6 13.9 6 13.6 6 12.8 6 11.7 6 10.4 6 9.1 6 7.7 6 6.6 6 5.6 6 4.7 6 4 6 3.6 6 3.4 6 3.2 6 2.8 6 2.3 6 1.8 6 1.4 6 1.2 6 .9 6 .9 6 .7 6 .8 6 .7 6 .6 6 .5 6 .3 6 .2 2.3 0"/>
<path d="M182.5 808l6-.2 6-.1 6-.1 6-.2 6-.6 6-1 6-1.8 6-2.5 6-3.3 6-4.2 6-5.2 6-6.3 6-7.5 6-8.7 6-9.6 6-10 6-10.2 6-9.7 6-9.6 6-9.8 6-11 6-13.5 6-16 6-18.2 6-20.9 6-24.2 6-27.6 6-30.5 6-32.4 6-32.6 6-30.4 6-26.3 6-20.6 6-14.8 6-9.9 6-6.7 6-4.6 6-2.7 6-1.3 6-.7 6-1.3 6-3.4 6-6 6-7.9 6-8.3 6-7.6 6-6.5 6-5.7 6-5.6 6-6.2 6-6.8 6-7.5 6-7.5 6-6.8 6-4.8 6-1.6 6 2.6 6 7.4 6 11.8 6 15.5 6 17.9 6 19.6 6 20.7 6 21.6 6 22.8 6 24.3 6 25.4 6 25.1 6 22.9 6 19.2 6 15.3 6 12.2 6 10.7 6 10.5 6 11.8 6 13.2 6 14.6 6 15.5 6 15.3 6 14.2 6 12.4 6 10.7 6 9.4 6 8.6 6 8.5 6 8.5 6 8.7 6 8.7 6 8.6 6 8.1 6 7.5 6 7 6 6.6 6 6.1 6 5.6 6 5 6 4.3 6 3.6 6 2.8 6 2.2 6 1.7 6 1.3 6 1 6 .7 6 .6 6 .2 6 .1 6-.2 6-.2 6-.2 6-.1 2.3 0"/>
<path d="M182.5 811l6 .3 6 .3 6 0 6 0 6 0 6 0 6 0 6-1.4 6-2.2 6-2.9 6-3.4 6-4 6-4.6 6-5.2 6-6.2 6-7.3 6-8.3 6-9.6 6-10.7 6-11.6 6-13 6-15.1 6-18.6 6-22.6 6-25.9 6-28.6 6-30.7 6-31.3 6-29.7 6-27 6-23.6 6-20.4 6-18.1 6-16.4 6-15.4 6-15.4 6-15.9 6-16.8 6-17.3 6-17.6 6-17.5 6-16.4 6-14.1 6-10.1 6-5 6-.4 6 2.4 6 3.2 6 2.2 6 .5 6-.8 6-1.1 6 .2 6 2.7 6 5.5 6 8.2 6 10.3 6 11.6 6 12.5 6 13 6 13.6 6 14.2 6 14.9 6 15.6 6 16.5 6 17.5 6 18.3 6 18.5 6 18.6 6 19.3 6 20.2 6 21.1 6 20.8 6 19.6 6 17.8 6 16.3 6 15.9 6 16.4 6 16.8 6 16.5 6 15 6 12.7 6 10.2 6 8 6 6.8 6 6.4 6 6.7 6 7.1 6 7.4 6 7.3 6 6.9 6 6.1 6 5.4 6 4.6 6 4.1 6 3.7 6 3.4 6 3.3 6 3 6 2.8 6 2.5 6 2.1 6 1.6 6 1 6 .4 6-.2 6-.6 6-.7 6-.8 6-.7 6-.3 2.3 0"/>
<path d="M182.5 808.4l6-1 6-1.3 6-1.5 6-1.4 6-1.5 6-1.6 6-1.9 6-2.3 6-2.8 6-3.3 6-4 6-4.7 6-5.3 6-6.2 6-6.9 6-7.6 6-8.4 6-9.5 6-11 6-12.8 6-15.2 6-17.8 6-19.4 6-19.6 6-19.8 6-20.5 6-21.2 6-22.3 6-23.6 6-24.8 6-25.7 6-26.2 6-25.6 6-24 6-21.9 6-19.2 6-15.9 6-12.7 6-10.3 6-9 6-9 6-9.3 6-8.9 6-7.2 6-4.4 6-1.8 6 .1 6 .6 6-.1 6-2.1 6-4.4 6-6.3 6-7 6-6.2 6-3.7 6 .7 6 6.6 6 13.3 6 19.1 6 22.9 6 23.9 6 22.5 6 19.8 6 17.9 6 17.6 6 18.6 6 20.1 6 21 6 21.2 6 21 6 20 6 18.3 6 15.7 6 13 6 10.7 6 9.5 6 9.7 6 10.7 6 11.9 6 13.1 6 13.8 6 14.1 6 14 6 13.5 6 12.5 6 11.3 6 9.9 6 8.6 6 7.5 6 6.6 6 5.8 6 5 6 4.3 6 3.7 6 3.6 6 3.7 6 4.2 6 4.5 6 4.3 6 3.8 6 2.9 6 2 6 1 6 .5 6 .2 6 0 6 0 6 .1 6 .2 6 .1 6 .2 2.3 0"/>
<path d="M182.5 809.9l6-.3 6-.6 6-.8 6-.9 6-1.1 6-1.3 6-1.6 6-1.8 6-2.2 6-2.6 6-3.2 6-4 6-4.9 6-6.4 6-7.9 6-9.6 6-11 6-12.4 6-13.4 6-14.5 6-16.9 6-20.2 6-23.4 6-25.8 6-27.5 6-28.5 6-28.3 6-26.8 6-24.7 6-22.2 6-19.7 6-17.7 6-16.1 6-15.6 6-16.6 6-18.2 6-19 6-17.7 6-14 6-8.6 6-3.3 6 .2 6 1.5 6 .9 6-1.1 6-3.6 6-5.9 6-6.9 6-6.2 6-3.7 6-.1 6 4.2 6 8.1 6 10.7 6 11.9 6 11.5 6 10.7 6 10.1 6 10 6 10.7 6 11.3 6 11.8 6 11.7 6 11.6 6 12.3 6 13.7 6 15.6 6 16.8 6 17 6 16.7 6 16 6 15.4 6 14.8 6 14.2 6 13.4 6 12.7 6 12.5 6 12.8 6 13.4 6 14.2 6 14.8 6 15.2 6 15 6 14.6 6 13.7 6 12.2 6 10.6 6 9 6 7.6 6 6.6 6 6.1 6 6 6 5.9 6 5.5 6 4.9 6 4.1 6 3.5 6 2.8 6 2.3 6 1.9 6 1.7 6 1.3 6 1 6 .9 6 .7 6 .7 6 .5 6 .6 6 .5 6 .4 6 .3 2.3 0"/>
<path d="M182.5 807.9l6 .1 6-.1 6-.1 6-.2 6-.6 6-1.2 6-1.9 6-2.7 6-3.7 6-4.5 6-5.5 6-6.4 6-7.5 6-8.9 6-10.4 6-12.1 6-13.8 6-14.7 6-15.4 6-15.8 6-16.5 6-17.7 6-18.2 6-18.1 6-18 6-18.7 6-19.6 6-20.6 6-21.8 6-22.4 6-22.1 6-20.9 6-18.6 6-15.7 6-13.5 6-12.2 6-11.5 6-10.5 6-9.1 6-7.2 6-5.2 6-3.3 6-2.6 6-2.9 6-4.7 6-7.2 6-9.1 6-8.7 6-5.7 6-1.2 6 2.9 6 5 6 4.3 6 1.7 6-.7 6-1.6 6-.3 6 2.9 6 6.8 6 10.3 6 12.6 6 13.4 6 12.7 6 11.3 6 10.5 6 11.4 6 13.8 6 17 6 19.8 6 22 6 23.5 6 24.6 6 24.9 6 24.3 6 22.8 6 20.2 6 17.3 6 14.8 6 12.9 6 11.9 6 11.7 6 11.9 6 12.1 6 11.9 6 11.4 6 10.3 6 9 6 7.4 6 5.6 6 4.3 6 3.3 6 2.7 6 2.5 6 2.7 6 3 6 3.5 6 4 6 4.1 6 4 6 3.5 6 2.8 6 2.2 6 1.6 6 1.1 6 .9 6 .5 6 .3 6 .2 6 .2 6 .2 6 .1 2.3 .1"/>
<path d="M182.5 809.8l6-.6 6-1 6-1.1 6-1.3 6-1.6 6-1.9 6-2.2 6-2.6 6-3.1 6-3.6 6-4.5 6-5.6 6-7.1 6-8.6 6-9.8 6-10.4 6-10.9 6-10.9 6-11.9 6-13.4 6-15.9 6-18.8 6-20.9 6-21 6-20.1 6-19.1 6-18.3 6-17.6 6-17.4 6-18.1 6-19.2 6-20.7 6-21.6 6-21 6-19.8 6-17.9 6-16 6-13.9 6-12.6 6-12.1 6-12.5 6-13.2 6-13.8 6-13.7 6-12.7 6-11 6-8.1 6-4 6 .9 6 5.7 6 9.2 6 11.2 6 11.1 6 10 6 8.2 6 7.2 6 7.2 6 8.3 6 10.2 6 12.1 6 13.4 6 14 6 14.2 6 14.6 6 15.7 6 17.3 6 18.9 6 19.7 6 19.5 6 18.7 6 17.7 6 16.2 6 14.7 6 13.4 6 12.8 6 12.8 6 13.8 6 14.9 6 15.6 6 15.6 6 14.7 6 13.2 6 11.2 6 9 6 7.2 6 5.8 6 5.2 6 5.3 6 5.9 6 6.3 6 6.6 6 6.5 6 6.2 6 5.8 6 5.4 6 4.9 6 4.7 6 4.6 6 4.2 6 4 6 3.5 6 2.9 6 2.5 6 2 6 1.4 6 1 6 .1 6 0 6 0 6 0 6-.3 2.3-.2"/>
<path d="M182.5 808.7l6-.6 6-.8 6-1.1 6-1.2 6-1.4 6-1.7 6-2 6-2.4 6-2.7 6-3.2 6-4 6-5.1 6-6.3 6-7.9 6-9.3 6-10.6 6-12.2 6-13.4 6-15.1 6-16.5 6-17.8 6-18.9 6-19.4 6-18.6 6-17.5 6-17.4 6-18 6-19.2 6-20.8 6-22.2 6-22.3 6-21.1 6-18.2 6-14.8 6-12.3 6-11.8 6-12.2 6-12.6 6-11.6 6-9.6 6-7.3 6-5.5 6-5 6-5.4 6-6.4 6-7.7 6-9 6-9.6 6-9.3 6-8.1 6-6.2 6-3.9 6-1.7 6 .5 6 2.9 6 5.7 6 9 6 12.7 6 16.4 6 20.2 6 23.8 6 27 6 29.1 6 29.9 6 29.2 6 26.9 6 23.1 6 18.2 6 13.6 6 10.1 6 8.3 6 7.6 6 7.4 6 7.4 6 7.5 6 7.7 6 8.4 6 9.2 6 9.9 6 10.4 6 10.6 6 10.4 6 10.3 6 10 6 10 6 10.1 6 10.1 6 10.2 6 10.2 6 9.8 6 9.1 6 8.3 6 7.1 6 5.8 6 4.5 6 3.3 6 2.5 6 2 6 1.5 6 1.4 6 1.2 6 1.2 6 1.2 6 1.3 6 1.3 6 1 6 .9 6 .5 6 .2 6 .1 6-.1 2.3-.1"/>
<path d="M182.5 809.1l6-.2 6-.4 6-.4 6-.6 6-1 6-1.3 6-1.6 6-2 6-2.4 6-3.1 6-4.2 6-5.6 6-7.3 6-9 6-10.4 6-11.3 6-11.8 6-11.7 6-11.8 6-12.8 6-15.1 6-17.5 6-19.3 6-20.8 6-22 6-22.5 6-22.2 6-21.5 6-20.4 6-19.2 6-18 6-16.9 6-16.2 6-16.3 6-17.9 6-20.2 6-22.4 6-23.3 6-22.4 6-19.1 6-14.3 6-8.6 6-2.9 6 1.6 6 4.1 6 4.4 6 3.2 6 1.9 6 1.4 6 1.6 6 2.6 6 3.5 6 4.3 6 5.3 6 6.5 6 8.2 6 10.2 6 11.9 6 13.1 6 13.3 6 13.1 6 13 6 13.4 6 14.4 6 15.8 6 17.1 6 17.3 6 16 6 13.6 6 11.3 6 10.2 6 10.6 6 12.1 6 13.7 6 14.7 6 15 6 14.9 6 14.8 6 14.8 6 14.8 6 14.7 6 14.3 6 13.7 6 13.2 6 12.5 6 11.4 6 9.8 6 8 6 5.7 6 4.1 6 3 6 2.5 6 2.5 6 2.9 6 3.3 6 3.6 6 4 6 4.1 6 4.1 6 3.6 6 3 6 2.2 6 1.4 6 .8 6 .4 6 .2 6 .2 6 .1 6 .2 6 .2 6 .1 2.3 0"/>
<path d="M182.5 808.7l6-.4 6-.8 6-1.1 6-1.6 6-2 6-2.4 6-2.4 6-2.3 6-1.9 6-1.6 6-1.7 6-2 6-3.2 6-4.4 6-5.8 6-7.5 6-9.2 6-11.5 6-13.3 6-15.1 6-17 6-18.2 6-18.3 6-17.9 6-18.2 6-18.9 6-20.3 6-21.8 6-23.5 6-24.8 6-25.4 6-24.5 6-21.5 6-16.9 6-11.8 6-7.4 6-4.6 6-4.6 6-7.4 6-12 6-17 6-20.6 6-22 6-20.5 6-17.5 6-13.6 6-9.2 6-4.3 6 1.1 6 6.8 6 11.6 6 14.9 6 15.9 6 15.1 6 13 6 10.7 6 9.2 6 9 6 10 6 12.2 6 14.9 6 17.7 6 19.5 6 20.2 6 19.3 6 17.3 6 14.3 6 10.8 6 7.4 6 4.7 6 3.6 6 3.9 6 5.3 6 7.3 6 9.8 6 12.2 6 14.8 6 17.3 6 19.3 6 20.3 6 20.3 6 19.3 6 17.6 6 15.7 6 13.9 6 12.5 6 11.2 6 9.6 6 7.1 6 5.1 6 3.2 6 1.7 6 1.3 6 1.5 6 2 6 2.6 6 2.8 6 3 6 2.6 6 2.3 6 1.9 6 1.4 6 1.1 6 .9 6 .7 6 .5 6 .3 6 .2 6-.1 6-.1 6 0 2.3-.1"/>
<path d="M182.5 808.7l6-.6 6-.8 6-.8 6-.8 6-.7 6-.8 6-.9 6-1 6-1.4 6-2.2 6-3.4 6-4.8 6-6.5 6-8.1 6-9.6 6-10.8 6-11.5 6-11.8 6-11.8 6-12 6-12.8 6-15 6-17.4 6-19.7 6-22.4 6-25.1 6-27.2 6-28.5 6-29.2 6-28.9 6-27.2 6-24.1 6-19.2 6-14 6-10 6-8.4 6-9.1 6-10.6 6-11.8 6-12.3 6-11.8 6-10.6 6-9.2 6-7.3 6-4.9 6-1.7 6 2 6 6.3 6 10.1 6 12.3 6 12.1 6 9.2 6 4.8 6-.3 6-4.6 6-7.1 6-7.2 6-4.3 6 .9 6 7.5 6 13.7 6 18.3 6 20.2 6 19.6 6 18.1 6 16.9 6 16.9 6 17.8 6 18.6 6 18.5 6 17.9 6 17.1 6 15.9 6 14.7 6 13.8 6 13 6 12.4 6 12.1 6 12 6 11.6 6 11.1 6 10.5 6 9.9 6 9.4 6 9.2 6 9 6 9 6 8.8 6 8.7 6 8.5 6 8.3 6 8.3 6 7.9 6 7.3 6 6.1 6 4.8 6 3.6 6 2.8 6 2.5 6 2.4 6 2.6 6 2.6 6 2.3 6 1.8 6 1.4 6 .8 6 .4 6 .1 6-.2 6-.2 6-.3 2.3 0"/>
<path d="M182.5 811.6l6-.4 6-.5 6-.9 6-1.2 6-1.6 6-2.2 6-2.5 6-2.9 6-3.2 6-3.6 6-4.2 6-5.5 6-7.1 6-9.4 6-11.7 6-14 6-15.7 6-16.4 6-16.4 6-16.6 6-17 6-17.3 6-17.6 6-18.9 6-21.6 6-24.6 6-26.6 6-27 6-25.1 6-21.1 6-16.5 6-12 6-8.8 6-7 6-6.7 6-6.9 6-7.5 6-8.3 6-9.8 6-11.7 6-13.3 6-13.7 6-11.8 6-8.2 6-3.6 6 .6 6 3.5 6 5.1 6 5.7 6 4.9 6 3.1 6 .2 6-2.9 6-5.2 6-5.7 6-3.9 6 .2 6 5.4 6 10.3 6 13.4 6 14.8 6 14.4 6 13.2 6 12.1 6 11.9 6 13.4 6 16.1 6 18.8 6 20 6 19 6 16.4 6 13.6 6 11.9 6 11.5 6 12.4 6 13.5 6 13.9 6 13.4 6 12.5 6 11.7 6 11.4 6 11.7 6 12.4 6 13.1 6 13.8 6 13.9 6 13.1 6 11.9 6 10 6 7.8 6 6.1 6 4.6 6 4 6 3.9 6 4.1 6 4.4 6 4.5 6 4.3 6 3.9 6 3.6 6 3.3 6 3 6 2.6 6 1.9 6 1.2 6 .7 6 .2 6 0 6-.1 6 0 6 0 2.3 0"/>
<path d="M182.5 810.9l6 .2 6 .3 6 .2 6 0 6 0 6 0 6-.8 6-2.2 6-3.3 6-3.9 6-4.3 6-4.3 6-4.1 6-4.2 6-5 6-6.2 6-8.1 6-11.1 6-13.8 6-16.5 6-19 6-22 6-24.5 6-25.6 6-25.6 6-25.7 6-25.8 6-25.7 6-25.3 6-24.6 6-23.3 6-21.3 6-18.3 6-14 6-9.6 6-6.3 6-4.7 6-4.9 6-6.8 6-9.6 6-12.6 6-14.6 6-15 6-13.8 6-11.6 6-9.8 6-9.2 6-9.2 6-9.5 6-8.7 6-7 6-4.1 6-.3 6 3.6 6 7.4 6 10.8 6 13.5 6 15.2 6 16.1 6 16.2 6 16.3 6 16.6 6 16.7 6 16.4 6 15.9 6 15.1 6 14.6 6 14.8 6 16.5 6 19.5 6 22.6 6 24.6 6 24.7 6 23.1 6 20.3 6 17.4 6 15.2 6 13.9 6 13.1 6 12.7 6 12.4 6 12.1 6 11.8 6 11 6 10.1 6 9 6 8 6 6.9 6 6.2 6 5.7 6 5.4 6 5.2 6 5 6 4.7 6 4.4 6 3.9 6 3.5 6 2.9 6 2.5 6 2 6 1.5 6 1.4 6 1.1 6 .9 6 .7 6 .5 6 .3 6 .1 6 0 6-.2 6-.3 2.3 0"/>
<path d="M182.5 811.3l6-.7 6-1.1 6-1.6 6-1.9 6-2.3 6-2.5 6-2.5 6-2.4 6-2.4 6-2.7 6-3.4 6-4.5 6-5.6 6-6.6 6-7.6 6-8.7 6-10.5 6-13.5 6-17 6-21 6-24.8 6-26.6 6-25.8 6-23.5 6-20.8 6-18.4 6-16.7 6-16.3 6-16.8 6-17.8 6-18.8 6-18.7 6-17.5 6-15.8 6-14.5 6-13.7 6-13.4 6-13.1 6-12.8 6-12.4 6-12.2 6-12 6-11.9 6-11.1 6-9.9 6-7.9 6-5.2 6-2 6 1.3 6 3.8 6 4.8 6 4.2 6 2.9 6 2.1 6 2.8 6 5.6 6 9.4 6 12.9 6 14.6 6 14.4 6 12.5 6 10.9 6 10.3 6 11.1 6 13.5 6 16.2 6 18.3 6 18.8 6 17.9 6 16.3 6 15.4 6 15.2 6 15.7 6 16.6 6 17.6 6 18.4 6 19.2 6 19.9 6 20.3 6 19.6 6 17.8 6 14.7 6 11 6 7.6 6 4.8 6 3.4 6 3.4 6 4.6 6 6.3 6 7.9 6 8.5 6 8.5 6 7.7 6 6.6 6 5.4 6 4.2 6 3.4 6 2.8 6 2.4 6 2.1 6 1.9 6 1.8 6 1.7 6 1.5 6 1.2 6 .8 6 .4 6 0 6-.1 6 0 6 .2 2.3 .1"/>
<path d="M182.5 808.4l6-.1 6 0 6 .1 6-.1 6-.2 6-.6 6-.9 6-1.7 6-2.5 6-3.4 6-4.5 6-5.5 6-6.8 6-8.1 6-9.4 6-10.6 6-11.4 6-11.1 6-10.9 6-10.2 6-9.7 6-9.8 6-11.6 6-14.7 6-17.9 6-21.2 6-25.2 6-28.4 6-30.4 6-30.8 6-29.7 6-27.5 6-24.3 6-20.2 6-15.7 6-12.2 6-10 6-9.5 6-9.7 6-10.8 6-12.5 6-14.6 6-16.6 6-18 6-18.2 6-17.3 6-14.9 6-10.8 6-5.3 6 .3 6 4.2 6 5.6 6 5 6 3.8 6 3.4 6 4.6 6 6.7 6 9.1 6 11.3 6 13.7 6 16.4 6 19.4 6 22 6 23.8 6 24.9 6 25 6 24.2 6 22.7 6 21.2 6 20 6 18.8 6 17.5 6 16 6 14.9 6 14.5 6 15.2 6 16.3 6 16.8 6 16.7 6 15.7 6 14.7 6 13.9 6 13.8 6 14 6 14 6 13.4 6 11.9 6 10 6 7.9 6 6.3 6 5.2 6 4.5 6 3.6 6 3 6 2.3 6 1.7 6 1.2 6 .9 6 .7 6 .7 6 .9 6 1 6 1.1 6 1.1 6 .9 6 .2 6 0 6 0 6 0 6 0 6 0 2.3 0"/>
<path d="M182.5 807.8l6-.3 6-.3 6-.6 6-1 6-1.5 6-1.8 6-2.1 6-2.1 6-1.8 6-1.8 6-2.1 6-2.9 6-4.6 6-7 6-9.5 6-11.9 6-13.6 6-14.3 6-14.4 6-14.4 6-15.3 6-17 6-18.9 6-20.9 6-23.6 6-26.3 6-28.1 6-28.5 6-27.3 6-24.3 6-20.2 6-16.2 6-13.1 6-11.9 6-12.3 6-13.5 6-14 6-13 6-11 6-9 6-7.5 6-6.4 6-5.2 6-3.3 6-.7 6 1.5 6 2.8 6 2.6 6 1.1 6-.7 6-2.4 6-3.3 6-3.1 6-2.5 6-1.3 6 .4 6 2.5 6 5.5 6 8.7 6 11.4 6 13.2 6 13.9 6 13.7 6 13.4 6 13.8 6 15.6 6 17.9 6 20.3 6 21.7 6 22.2 6 22.1 6 21.7 6 20.8 6 19 6 16.4 6 12.8 6 9.1 6 6.6 6 5.5 6 6.1 6 8 6 10.2 6 12.3 6 13.4 6 13.7 6 13.3 6 12.6 6 11.7 6 10.6 6 9.3 6 8 6 6.8 6 5.6 6 4.9 6 4.4 6 3.9 6 3.6 6 3.1 6 2.6 6 2.1 6 1.5 6 1.2 6 .8 6 .8 6 .7 6 .9 6 .9 6 .7 6 .5 6 .3 6 0 2.3-.1"/>
<path d="M182.5 811.1l6-.6 6-.9 6-1.2 6-1.6 6-1.8 6-2 6-2.2 6-2.2 6-2.4 6-2.7 6-3.6 6-4.9 6-6.7 6-8.6 6-10.3 6-11.3 6-11.9 6-12.1 6-12.9 6-14.4 6-16.6 6-19.4 6-21.8 6-22.9 6-22.9 6-22.7 6-22.5 6-21.4 6-19.9 6-17.8 6-15.9 6-14.5 6-14.1 6-14.7 6-16.3 6-19.1 6-22 6-23.6 6-23.7 6-21.8 6-18.7 6-14.1 6-8.6 6-2.4 6 3.2 6 7 6 8.3 6 7.2 6 4.9 6 2.5 6 .8 6 .1 6 .9 6 2.6 6 4.6 6 6.1 6 6.8 6 7.2 6 7.6 6 9 6 11.2 6 14 6 16.2 6 17.5 6 18 6 18.4 6 18.2 6 17.7 6 16.4 6 14.8 6 13.5 6 12.8 6 12.7 6 13.4 6 14.1 6 14.6 6 14.6 6 14.4 6 14.1 6 13.8 6 14 6 14.5 6 15.2 6 15.7 6 15.3 6 14.1 6 11.8 6 9.2 6 6.5 6 4.8 6 3.8 6 3.9 6 4.4 6 4.9 6 5.2 6 5.2 6 4.9 6 4.1 6 3.4 6 2.5 6 1.8 6 1 6 .8 6 .5 6 .6 6 .7 6 .6 6 .6 6 .4 6 .4 6 .1 2.3 0"/>
<path d="M182.5 809.5l6-.4 6-.3 6-.4 6-.4 6-.8 6-1.1 6-1.7 6-2.4 6-3.4 6-4.5 6-5.5 6-6.4 6-7.2 6-7.5 6-7.7 6-8.2 6-9 6-10.7 6-13 6-16 6-19.5 6-22 6-23.2 6-23.5 6-23.8 6-23.7 6-23.4 6-23.2 6-23.1 6-23.2 6-23.5 6-23.4 6-22.3 6-20.5 6-18.1 6-15.2 6-12.4 6-9.9 6-8.7 6-8.8 6-9.6 6-10.1 6-9.3 6-7 6-4.5 6-3.1 6-3.5 6-5.2 6-6.8 6-7 6-4.4 6 .9 6 7.6 6 13.6 6 17.2 6 17.6 6 15.8 6 13.4 6 12.5 6 13.8 6 17.1 6 20.9 6 23.8 6 24.4 6 23.2 6 20.4 6 16.9 6 13.5 6 10.5 6 8.7 6 8.6 6 9.6 6 11.4 6 12.8 6 13.4 6 12.6 6 10.9 6 9.1 6 7.7 6 7.4 6 8.2 6 9.8 6 11.6 6 13.2 6 14.4 6 14.8 6 14.3 6 13.4 6 12.1 6 10.6 6 9.3 6 8.3 6 7.6 6 6.6 6 5.4 6 4.2 6 2.9 6 1.9 6 1.2 6 .6 6 .2 6-.1 6-.4 6-.5 6-.6 6-.6 6-.4 6-.3 6 0 6 .4 6 .6 2.3 .2"/>
<path d="M182.5 811.6l6-.2 6-.9 6-1.2 6-1.4 6-1.9 6-2.2 6-2.4 6-2.6 6-2.5 6-2.7 6-3.1 6-3.6 6-4.6 6-5.4 6-6.1 6-6.8 6-7.8 6-9.7 6-11.6 6-13.9 6-16.5 6-19 6-20.5 6-21.3 6-22.6 6-24.7 6-27.2 6-29.8 6-32.1 6-33.2 6-32.3 6-28.9 6-23.1 6-16.3 6-10.6 6-6.8 6-5.4 6-6.1 6-8.3 6-10.9 6-13.2 6-14.1 6-13.3 6-10.6 6-7.5 6-4.9 6-3.5 6-3.3 6-3.6 6-3.6 6-3.1 6-1.6 6 .3 6 2.5 6 5.1 6 8.3 6 12.4 6 16.8 6 20.3 6 22.2 6 22.1 6 20.7 6 18.5 6 17.4 6 17.7 6 19.1 6 20.5 6 20.9 6 20.3 6 19.6 6 19 6 18.6 6 17.9 6 16.4 6 14.4 6 11.9 6 9.7 6 8.1 6 7.2 6 6.9 6 7.6 6 9 6 10.8 6 12.2 6 12.8 6 11.9 6 10.2 6 8 6 6.3 6 5.3 6 5.3 6 5.6 6 6.1 6 5.9 6 5.4 6 4.7 6 4.1 6 3.7 6 3.7 6 3.6 6 3.5 6 2.8 6 2.2 6 1.4 6 .8 6 .1 6-.1 6-.2 6-.2 6-.1 6 0 2.3 0"/>
<path d="M182.5 811.2l6-.1 6-.1 6-.2 6-.4 6-.6 6-.9 6-1.3 6-1.7 6-2.4 6-3.5 6-4.9 6-6.2 6-7.5 6-8.2 6-8.5 6-8.6 6-8.8 6-9.7 6-11.6 6-14.3 6-17.8 6-21.6 6-24.6 6-25.9 6-26.9 6-27.1 6-26.1 6-24 6-21.2 6-18.2 6-16.1 6-15 6-14.7 6-15.3 6-16.6 6-17.9 6-18.6 6-18.2 6-17.3 6-16.1 6-15.7 6-15.7 6-16.1 6-15.4 6-13.7 6-10.6 6-6.2 6-.8 6 4.2 6 8.3 6 10.5 6 11 6 9.9 6 8 6 6 6 4.2 6 3.4 6 3.7 6 5.3 6 8 6 10.9 6 13.3 6 14.2 6 13.7 6 12.8 6 13.1 6 15 6 18.5 6 22.6 6 26.5 6 29 6 29.6 6 28.6 6 26.7 6 24.4 6 21.8 6 19.2 6 16.3 6 13.1 6 10 6 7.6 6 6.4 6 6 6 6.4 6 6.9 6 7.3 6 7.3 6 7 6 6.7 6 6.1 6 5.8 6 5.8 6 6 6 6.2 6 6.3 6 6.1 6 5.8 6 5.3 6 4.5 6 3.6 6 2.7 6 1.8 6 1.1 6 .4 6 0 6-.2 6-.3 6-.3 6-.3 6-.3 6-.3 2.3 0"/>
<path d="M182.5 810.2l6-.4 6-.8 6-1.1 6-1.1 6-1.3 6-1.2 6-1.3 6-1.1 6-1.2 6-1.4 6-2.2 6-3.6 6-5.7 6-8.2 6-10.8 6-12.8 6-14.4 6-15.1 6-15.2 6-15.4 6-16.4 6-17.8 6-18.8 6-19.4 6-20.4 6-22.2 6-24.4 6-26.8 6-29.4 6-31 6-30.6 6-28 6-22.7 6-16.6 6-11.6 6-9.2 6-8.7 6-9.2 6-9.4 6-8.4 6-5.8 6-2.5 6 1.2 6 4.2 6 5.8 6 5 6 2.2 6-1.9 6-6.4 6-10.1 6-12 6-11.7 6-9.5 6-6.4 6-3.6 6-1.5 6 .3 6 2.8 6 6.9 6 12.6 6 19.2 6 25.5 6 29.7 6 31.2 6 29.8 6 26.2 6 21.3 6 16.3 6 12.4 6 10.3 6 10.3 6 11.5 6 12.9 6 14 6 14.6 6 14.4 6 13.8 6 13 6 12.4 6 12.2 6 12.7 6 13.9 6 15.2 6 16.2 6 15.9 6 14.5 6 12 6 8.9 6 6.4 6 4.7 6 4.1 6 4.3 6 4.7 6 5.2 6 5.2 6 5.1 6 4.9 6 4.5 6 4 6 3.5 6 2.9 6 2.3 6 1.7 6 1.3 6 .8 6 .4 6 .2 6 0 6-.1 6-.1 6-.1 2.3-.1"/>
<path d="M182.5 808.9l6-1 6-1.3 6-1.6 6-1.9 6-2.1 6-2.5 6-3.1 6-4 6-5.2 6-6.4 6-7.5 6-8.3 6-9 6-9.3 6-10 6-10.7 6-11.8 6-13.1 6-15.1 6-17.4 6-18.9 6-19.2 6-19.4 6-19.8 6-20.4 6-20.7 6-20.5 6-19.5 6-17.7 6-15.9 6-14.8 6-14.4 6-15.2 6-16.7 6-17.8 6-17.4 6-15.3 6-12.3 6-9.5 6-8.2 6-8.4 6-9.4 6-10 6-9 6-6.7 6-3.3 6 .2 6 3.2 6 5 6 5.3 6 4.7 6 3.3 6 2.3 6 1.7 6 1.3 6 .9 6 .6 6 .7 6 1.9 6 4.8 6 8.9 6 13.6 6 17.8 6 20.3 6 21.3 6 20.8 6 19.4 6 17.6 6 15.6 6 14.1 6 13.3 6 13.4 6 13.5 6 13.3 6 12.8 6 12.3 6 12.3 6 12.9 6 13.8 6 14.7 6 14.8 6 14.2 6 13 6 12 6 11.2 6 10.6 6 10 6 9.5 6 8.9 6 8 6 7.3 6 6.8 6 6.5 6 6.5 6 6.3 6 6.1 6 5.5 6 4.8 6 3.9 6 3.3 6 2.7 6 2.2 6 1.9 6 1.8 6 1.6 6 1.4 6 1.3 6 1.1 6 .9 6 .6 6 .5 2.3 .1"/>
<path d="M182.5 809.4l6-.8 6-1 6-1.1 6-1.3 6-1.4 6-1.8 6-2 6-2.5 6-2.9 6-3.6 6-4.3 6-5.1 6-5.8 6-6.5 6-6.9 6-7.3 6-7.8 6-9.2 6-11.6 6-15 6-19.5 6-24.7 6-28.4 6-29.7 6-28.6 6-26.4 6-23.4 6-20.2 6-17.7 6-16 6-14.9 6-14.3 6-13.7 6-12.9 6-12.4 6-12.2 6-12.3 6-12.2 6-11.6 6-11 6-9.8 6-8.4 6-6.4 6-4 6-1.3 6 .9 6 2.1 6 2.1 6 1.5 6 .3 6-1.5 6-3.2 6-4.9 6-6 6-6.3 6-5.2 6-2.6 6 1.3 6 5.8 6 10.4 6 14.3 6 17.9 6 20.6 6 22.4 6 23.7 6 24.4 6 24 6 22.6 6 19.7 6 16.2 6 13.4 6 11.9 6 11.6 6 12.4 6 13.6 6 14.6 6 15.3 6 15.6 6 15.8 6 15.7 6 15.5 6 14.9 6 14.2 6 13 6 11.6 6 10.1 6 8.6 6 7.2 6 5.8 6 4.9 6 4.1 6 3.7 6 3.4 6 3.4 6 3.4 6 3.4 6 3.2 6 3.2 6 3 6 2.8 6 2.6 6 2.4 6 2 6 1.8 6 1.4 6 1.1 6 .7 6 .3 6 0 6-.1 6-.4 2.3-.2"/>
<path d="M182.5 811.2l6 0 6-.6 6-1.1 6-1.5 6-1.8 6-2.1 6-2.2 6-2.5 6-2.5 6-2.6 6-2.9 6-3.5 6-4.2 6-4.9 6-5.8 6-6.6 6-7.6 6-9 6-10.7 6-12.7 6-15 6-18.3 6-21.8 6-24.7 6-27.3 6-30.1 6-32.7 6-33.6 6-33 6-30.5 6-26.8 6-23.1 6-19.5 6-16.6 6-15 6-14 6-13.2 6-11.6 6-10 6-9 6-8.9 6-9.8 6-10.9 6-10.8 6-9.4 6-7.2 6-4.3 6-1.2 6 1.8 6 4.4 6 6.7 6 8.7 6 10.3 6 11 6 10.4 6 9 6 7.3 6 6.2 6 6.4 6 7.9 6 10.3 6 13.1 6 15.9 6 18.7 6 21.5 6 23.1 6 23.2 6 21.3 6 18.5 6 16 6 14 6 13 6 13.2 6 14.2 6 15.9 6 18.2 6 20.3 6 21.8 6 22.1 6 21.1 6 19 6 15.9 6 12.5 6 9.4 6 6.6 6 4.8 6 3.8 6 3.8 6 4.4 6 5.2 6 5.7 6 5.6 6 5 6 4.2 6 3.3 6 2.5 6 1.9 6 1.7 6 1.6 6 1.8 6 2 6 2 6 1.9 6 1.6 6 1.1 6 .6 6 0 6-.3 6-.5 6-.7 6-.6 2.3-.2"/>
<path d="M182.5 807.4l6 .5 6 .6 6 .6 6 .4 6 .2 6-.3 6-1 6-1.7 6-2.5 6-3.5 6-4.5 6-5.6 6-6.7 6-7.9 6-9.2 6-10.5 6-12.3 6-13.9 6-15.4 6-16.5 6-17.2 6-18.2 6-18.9 6-18.6 6-18.8 6-19.9 6-21.3 6-22.2 6-22.2 6-21.3 6-19.9 6-18.7 6-18.1 6-18.6 6-20.7 6-23.4 6-25.3 6-25.3 6-23.3 6-19.9 6-15.7 6-11.4 6-7.3 6-3.6 6-1.1 6-.6 6-1.3 6-2.4 6-2.7 6-1.7 6 .5 6 3.2 6 6.1 6 8.4 6 9.8 6 10.4 6 10.5 6 10.8 6 11.6 6 13.4 6 15.4 6 17.3 6 18.3 6 18.9 6 19.4 6 19.9 6 19.9 6 19.5 6 18.8 6 18.1 6 17.3 6 16.4 6 15.5 6 14.9 6 14.8 6 15.5 6 17.1 6 18.9 6 20.1 6 20.8 6 20 6 17.7 6 14.3 6 10 6 5.9 6 2.8 6 1.5 6 1.8 6 3.5 6 5.6 6 7.3 6 8.1 6 7.7 6 6.4 6 5 6 3.5 6 2.4 6 1.8 6 1.3 6 1.2 6 1 6 1 6 .8 6 .6 6 .2 6 .1 6 0 6 0 6 0 6 0 6-.1 2.3-.1"/>
<path d="M182.5 808.7l6-.1 6-.3 6-.7 6-1.1 6-1.7 6-2.4 6-3 6-3.6 6-3.9 6-4.1 6-3.9 6-3.5 6-3.5 6-3.6 6-4.5 6-6.4 6-9.3 6-13 6-16.2 6-18.7 6-20.7 6-21.4 6-20.5 6-18.8 6-17.6 6-17.3 6-17.4 6-18.3 6-19.3 6-20.2 6-20.5 6-20 6-18.3 6-16.1 6-14.4 6-13.3 6-12.5 6-11.6 6-10.6 6-9.5 6-8.5 6-8.3 6-8.7 6-9.9 6-12 6-14.9 6-17.6 6-19.2 6-18.5 6-14.8 6-9.1 6-1.9 6 4.9 6 10.3 6 13.3 6 14.3 6 14.2 6 13.4 6 12.5 6 11.8 6 11.5 6 11.6 6 12.8 6 14.9 6 18.6 6 22.5 6 25.7 6 26.8 6 25.4 6 22.6 6 19.9 6 17.8 6 16.7 6 16.3 6 15.9 6 15.2 6 14.4 6 13.5 6 12.9 6 12.4 6 12 6 11.8 6 11.9 6 11.8 6 11.6 6 10.9 6 9.7 6 8.1 6 6.3 6 5.1 6 4.4 6 4.1 6 4 6 4 6 3.6 6 3.3 6 3 6 2.7 6 2.3 6 2 6 1.6 6 1.2 6 .9 6 .7 6 .7 6 .6 6 .8 6 .8 6 .8 6 .7 6 .6 2.3 .3"/>
<path d="M182.5 810.1l6-.1 6-.3 6-.3 6-.6 6-.8 6-1.3 6-1.7 6-2.1 6-2.4 6-2.8 6-3.6 6-4.9 6-6.5 6-8.4 6-9.9 6-11 6-12.1 6-13.1 6-14.7 6-16.6 6-19 6-21.2 6-21.8 6-20.8 6-19.3 6-18.6 6-18.9 6-19.8 6-20.9 6-21.7 6-21.7 6-20.9 6-19.1 6-16.9 6-15.6 6-15.4 6-15.7 6-15.7 6-14.4 6-12.2 6-9.8 6-7.8 6-6.5 6-5.6 6-4.6 6-3.7 6-2.8 6-1.7 6-.8 6-.5 6-.6 6-1 6-1 6-.5 6 .8 6 3 6 5.7 6 8.7 6 11.6 6 13.7 6 15.1 6 15.5 6 15.2 6 15 6 15.7 6 17.7 6 20.1 6 22 6 22.9 6 23.1 6 23 6 22.6 6 22.3 6 21.7 6 20.3 6 18 6 15 6 11.7 6 9 6 7.2 6 6.7 6 7.3 6 8.4 6 9.3 6 9.6 6 9.5 6 8.8 6 8.2 6 7.7 6 7.4 6 7.3 6 7.2 6 6.7 6 5.9 6 4.7 6 3.6 6 2.5 6 1.8 6 1.4 6 1.3 6 1.3 6 1.3 6 1.4 6 1.3 6 .9 6 .7 6 .3 6 .1 6 0 6-.1 6-.1 2.3 0"/>
<path d="M182.5 809.5l6 .2 6 .1 6-.1 6-.2 6-.6 6-1.1 6-1.8 6-2.9 6-3.9 6-4.8 6-5.7 6-6.4 6-7.1 6-7.9 6-8.7 6-9.5 6-10.5 6-10.9 6-11.6 6-12.1 6-12.6 6-14.1 6-16.9 6-19.7 6-22.4 6-25.4 6-28.5 6-30.5 6-31.3 6-30.6 6-28.3 6-24.7 6-20 6-14.6 6-10.3 6-7.9 6-8 6-9.8 6-12.7 6-15.3 6-17 6-17.5 6-16.3 6-13.5 6-9.9 6-6.2 6-2.8 6 .1 6 2.9 6 5.5 6 7.5 6 8.6 6 8.4 6 6.8 6 4.1 6 1.6 6 .6 6 1.7 6 4.9 6 9 6 13.1 6 15.9 6 17.2 6 17.7 6 18.5 6 19.9 6 21.5 6 22.3 6 22.1 6 21.3 6 20 6 18.9 6 18.1 6 18 6 18.3 6 18.8 6 19.4 6 19.7 6 19.5 6 18.6 6 17 6 15 6 12.4 6 9.8 6 7.4 6 5.4 6 4 6 3.4 6 3.5 6 4.2 6 5.2 6 6 6 6.5 6 6.1 6 5.4 6 4.3 6 3.4 6 2.7 6 2.5 6 2.3 6 2.3 6 2.1 6 1.6 6 1 6 .4 6 0 6-.3 6-.2 6 0 6 0 6 .1 2.3 .1"/>
<path d="M182.5 809.5l6-.5 6-.8 6-1 6-1.2 6-1.2 6-.9 6-.7 6-.5 6-.5 6-.7 6-1.1 6-1.7 6-2.4 6-3.2 6-4.3 6-5.7 6-7.3 6-9.8 6-12.7 6-15.7 6-18.7 6-21.7 6-24.6 6-26.8 6-27.2 6-27.3 6-27.6 6-28.4 6-28.9 6-29 6-28.1 6-25.9 6-22.4 6-17.5 6-13.1 6-10.7 6-11.1 6-13.6 6-16.4 6-17.9 6-17.9 6-16.1 6-13.3 6-9.8 6-6.2 6-3.4 6-2.2 6-1.7 6-1.4 6 .2 6 3.2 6 7.4 6 11.8 6 14.9 6 15.7 6 14.4 6 12.4 6 10.7 6 10.5 6 12 6 14.7 6 17.3 6 18.8 6 18.9 6 17.6 6 15.9 6 14.4 6 13.8 6 14.3 6 16.3 6 18.6 6 20 6 20.2 6 18.9 6 16.6 6 14.2 6 12.2 6 10.3 6 9.1 6 8.4 6 8.8 6 10 6 11.9 6 13.3 6 13.9 6 13 6 11 6 8.6 6 6.6 6 5.3 6 4.7 6 4.6 6 4.6 6 4.5 6 4.3 6 4.2 6 4.1 6 4.3 6 4.3 6 4.3 6 3.9 6 3.4 6 2.6 6 1.7 6 .9 6 .3 6-.1 6-.2 6-.2 6 0 6 .1 2.3 0"/>
<path d="M182.5 809.6l6 .1 6-.1 6-.4 6-1 6-1.5 6-2.1 6-2.7 6-3.4 6-3.7 6-4.3 6-4.6 6-5.1 6-5.2 6-5.2 6-5 6-4.9 6-5.5 6-7.6 6-10.7 6-14.3 6-17.9 6-21 6-23.4 6-24.2 6-24.5 6-25.3 6-26.8 6-27.6 6-27.6 6-26.1 6-23.2 6-19.2 6-15 6-10.8 6-8.1 6-7.4 6-8.7 6-10.7 6-12.1 6-12.1 6-10.4 6-7.7 6-5.1 6-3.5 6-3.5 6-5 6-6.9 6-8 6-7.4 6-5.3 6-2.6 6 .1 6 2.2 6 3.6 6 4.3 6 4.8 6 5.7 6 7.3 6 9.4 6 12 6 14.5 6 16.8 6 18.4 6 19.1 6 19 6 18.1 6 17 6 15.5 6 14.2 6 13.7 6 14.5 6 15.7 6 16.5 6 16.4 6 15.5 6 14 6 13 6 12.8 6 13.1 6 13.7 6 14 6 13.9 6 13.4 6 12.9 6 12.3 6 11.8 6 11.1 6 10.1 6 8.5 6 6.8 6 5.4 6 4.3 6 4.1 6 4.3 6 4.3 6 4.2 6 3.9 6 3.3 6 2.9 6 2.6 6 2.3 6 2.1 6 1.8 6 1.5 6 1.1 6 .7 6 .4 6 0 6-.1 6-.3 6-.3 2.3-.1"/>
<path d="M182.5 807.9l6-.3 6-.3 6-.3 6-.5 6-.8 6-1.2 6-1.9 6-2.4 6-3.2 6-3.8 6-4.4 6-4.8 6-5.1 6-5.5 6-6.1 6-7.3 6-9.1 6-11.6 6-13.8 6-16.1 6-18.4 6-20.4 6-21.8 6-23.7 6-26.4 6-29 6-31 6-31.9 6-31 6-28.1 6-23.3 6-17.4 6-10.9 6-6.1 6-4 6-4.5 6-6 6-7.5 6-8 6-8.1 6-8.4 6-9.6 6-11.2 6-11.7 6-10.4 6-7.7 6-4.5 6-2 6-.8 6-.6 6 0 6 1.3 6 3.8 6 6.4 6 7.9 6 7.8 6 6.3 6 4.8 6 4.3 6 5.9 6 9.2 6 13.8 6 18.3 6 21.5 6 23 6 22.6 6 20.8 6 17.9 6 14.7 6 12.1 6 10.9 6 11 6 11.8 6 12.7 6 13.7 6 14.6 6 15.9 6 17.1 6 18.1 6 18 6 16.8 6 14.7 6 12.6 6 10.8 6 10 6 9.6 6 9.4 6 9.2 6 8.5 6 7.5 6 6.5 6 5.5 6 4.7 6 4.1 6 3.4 6 3.1 6 2.7 6 2.8 6 2.8 6 2.8 6 2.5 6 2.2 6 1.8 6 1.3 6 .9 6 .6 6 .4 6 .1 6-.1 6-.2 6-.2 2.3-.1"/>
<path d="M182.5 810.3l6 .1 6 0 6 0 6-.1 6-.1 6-.2 6-.3 6-.6 6-1.3 6-2.1 6-3.1 6-4.1 6-5.3 6-6.5 6-7.4 6-8.4 6-9.3 6-10.5 6-12.4 6-15 6-18.1 6-21.4 6-24.8 6-26.7 6-26.2 6-24.6 6-23.4 6-22.3 6-21.6 6-21 6-20.4 6-19.9 6-18.8 6-17 6-15.1 6-13.4 6-12.2 6-11 6-9.7 6-8.4 6-8 6-8.5 6-10.1 6-11.6 6-12.4 6-12.2 6-11.1 6-9.1 6-7.1 6-5.3 6-4.7 6-4.9 6-5.7 6-6.3 6-5.7 6-3 6 1.8 6 8.6 6 16 6 22.3 6 26.8 6 28.3 6 27.6 6 25.8 6 24 6 22.2 6 20.5 6 19.1 6 18.8 6 20.3 6 22.9 6 25.7 6 27.2 6 26.6 6 24 6 20.3 6 16.1 6 12.3 6 9.4 6 7.5 6 6.2 6 5.3 6 4.6 6 4.3 6 4.5 6 5.2 6 6.5 6 8 6 9.4 6 9.9 6 9.7 6 8.8 6 7.3 6 5.7 6 4.2 6 2.8 6 2.1 6 1.8 6 1.6 6 1.6 6 1.5 6 1.2 6 .9 6 .5 6 .4 6 .3 6 .2 6 .1 6 0 6-.1 6-.1 2.3-.1"/>
<path d="M182.5 810.7l6 .6 6 .3 6 0 6 0 6-.6 6-1.3 6-1.9 6-2.4 6-2.6 6-2.7 6-2.9 6-3.1 6-3.7 6-5 6-6.6 6-8.7 6-11 6-13.6 6-15.6 6-17.5 6-19.6 6-21.9 6-22.8 6-22.3 6-21.1 6-19.9 6-18.7 6-17.5 6-16.8 6-16.2 6-16.1 6-16.2 6-16.8 6-18.1 6-20.4 6-23.4 6-25.2 6-25.1 6-22.3 6-17.9 6-13.2 6-9.4 6-6.6 6-4.1 6-1.4 6 1.6 6 4.5 6 6.6 6 7.5 6 6.3 6 3.7 6 .7 6-1.5 6-2.4 6-1.4 6 .8 6 4.2 6 7.7 6 10.5 6 12.3 6 12.8 6 12.8 6 13 6 14.1 6 16.1 6 18.6 6 20.4 6 20.6 6 19.1 6 16.5 6 13.8 6 11.8 6 10.4 6 9.7 6 9.8 6 10.4 6 11.4 6 12.8 6 14.3 6 15.2 6 15.9 6 16 6 15.9 6 15.6 6 15 6 14.2 6 13 6 11.3 6 9.5 6 7.7 6 6.1 6 5.1 6 4.4 6 4 6 3.5 6 3.2 6 3 6 3 6 2.9 6 3 6 2.9 6 2.7 6 2.3 6 1.9 6 1.4 6 .8 6 .5 6 .1 6 0 6 0 6 .1 2.3 0"/>
<path d="M182.5 810.9l6-.2 6-.3 6-.5 6-.9 6-1.5 6-2.3 6-3.1 6-4.1 6-4.9 6-5.8 6-6.6 6-7.1 6-7.8 6-8.1 6-8.2 6-8.1 6-8.3 6-8.7 6-10.5 6-13.6 6-18 6-22.1 6-24.6 6-25.3 6-24.6 6-22.4 6-19.4 6-16.7 6-14.9 6-14.4 6-14.7 6-15.1 6-14.8 6-13.8 6-12.8 6-12 6-11.8 6-12.2 6-13.2 6-14.7 6-16.5 6-18 6-18.8 6-18.6 6-17 6-14.5 6-11.1 6-6.7 6-1.8 6 3.1 6 7.3 6 10.5 6 12.8 6 14.3 6 15 6 14.8 6 13.7 6 12.3 6 11 6 10.5 6 10.7 6 11.6 6 12.8 6 13.7 6 14.5 6 15.1 6 15.3 6 14.9 6 13.5 6 11.5 6 10.1 6 9.9 6 10.9 6 12.6 6 14.3 6 15.5 6 15.9 6 15.8 6 15.7 6 15.5 6 15.1 6 14.3 6 13.1 6 11.3 6 9.7 6 8.3 6 7.6 6 7.8 6 8.2 6 8.4 6 8.3 6 8.1 6 7.6 6 7 6 6.4 6 5.6 6 4.6 6 3.5 6 2.9 6 2.4 6 2.2 6 2.2 6 2 6 1.8 6 1.2 6 1 6 .6 6 .4 6 .3 6 .4 6 .3 2.3 .1"/>
<path d="M182.5 810.7l6 0 6-.4 6-.6 6-.9 6-1.1 6-1.6 6-1.9 6-2.3 6-2.8 6-3.7 6-4.8 6-6.1 6-7.4 6-8.8 6-9.6 6-10.4 6-11.2 6-12.2 6-13.9 6-16.2 6-18.9 6-21.6 6-23 6-22.8 6-22 6-20.8 6-18.7 6-16 6-13.4 6-11.2 6-10.5 6-11.3 6-13.7 6-17.1 6-21.2 6-24.6 6-26.1 6-25.1 6-21.8 6-17.6 6-13.6 6-10.7 6-8.9 6-7.5 6-5.9 6-4.1 6-2.2 6-.4 6 1 6 1.8 6 1.7 6 .9 6-.4 6-1.3 6-.8 6 1.9 6 6.6 6 12.1 6 17.2 6 20.7 6 22.1 6 22.4 6 22 6 21.8 6 21.7 6 21.6 6 20.4 6 18.1 6 14.7 6 11.7 6 10.5 6 11.1 6 13.1 6 15.2 6 16.2 6 16 6 14.7 6 13.4 6 12.7 6 12.6 6 13.1 6 13.5 6 13.5 6 13.1 6 12.3 6 11.2 6 10.1 6 8.7 6 7 6 5.7 6 4.5 6 3.7 6 3.2 6 3 6 2.9 6 2.9 6 3 6 3.2 6 3.2 6 3 6 2.6 6 2.1 6 1.5 6 .9 6 .6 6 .5 6 .4 6 .5 6 .5 6 .6 6 .5 2.3 .2"/>
<path d="M182.5 809.3l6-.4 6-.6 6-.7 6-.9 6-1.1 6-1.3 6-1.7 6-1.8 6-2 6-2.2 6-2.5 6-3 6-3.7 6-4.7 6-6.1 6-7.4 6-9.1 6-11 6-12.5 6-13.7 6-15.4 6-17.6 6-19.8 6-21.7 6-23.8 6-26.5 6-28.7 6-29.6 6-29.2 6-27.4 6-24.4 6-20.8 6-17 6-13.5 6-11.8 6-12.2 6-14.1 6-16.6 6-18.5 6-19.2 6-18.3 6-15.5 6-11.4 6-6.5 6-1.7 6 1.7 6 3.4 6 3.7 6 3.1 6 2.6 6 2.5 6 2.8 6 2.9 6 2.3 6 1 6 .1 6 .7 6 3.6 6 8.9 6 15.6 6 21.7 6 25.9 6 27.7 6 27.2 6 26 6 24.1 6 21.7 6 18.6 6 14.8 6 11.9 6 10.5 6 10.9 6 12.5 6 14.4 6 15.4 6 15.7 6 15.2 6 14.4 6 13.3 6 11.7 6 10 6 8.5 6 7.3 6 7.1 6 7.2 6 7.6 6 7.9 6 8.1 6 8 6 7.8 6 7.6 6 7.5 6 7.2 6 6.6 6 5.7 6 4.7 6 3.9 6 3.2 6 2.7 6 2.2 6 1.7 6 1.2 6 .9 6 .6 6 .4 6 .2 6 .2 6 .1 6 .3 6 .4 6 .5 2.3 .2"/>
<path d="M182.5 811.1l6 .1 6-.1 6-.4 6-.6 6-.9 6-1.2 6-1.6 6-2.2 6-2.8 6-3.6 6-4.7 6-5.7 6-6.7 6-7.2 6-7.4 6-7.2 6-6.5 6-5.9 6-6.2 6-7 6-8.5 6-11.2 6-15.4 6-19.9 6-23.5 6-26.7 6-29.3 6-30.3 6-29.8 6-28.8 6-27.4 6-26.1 6-25 6-22.8 6-19.6 6-15.5 6-11.1 6-7 6-4.1 6-3.8 6-6 6-10.2 6-14.8 6-18.4 6-20.1 6-20.6 6-20.3 6-19.4 6-17.7 6-14.8 6-10.6 6-4.9 6 1.7 6 8.5 6 14.2 6 18.2 6 19.8 6 19.4 6 18.2 6 17.7 6 19.1 6 22.4 6 26.1 6 29 6 29.6 6 27.6 6 23.4 6 17.9 6 13.1 6 10.3 6 9.9 6 11.3 6 13.7 6 16.1 6 17.5 6 18.3 6 18.8 6 19.3 6 19.7 6 19.8 6 19.1 6 17.4 6 14.4 6 10.9 6 7.8 6 5.4 6 4.2 6 4.2 6 5 6 6 6 6.8 6 7 6 6.4 6 5.2 6 4 6 2.8 6 2.2 6 1.7 6 1.6 6 1.5 6 1.4 6 1.2 6 1.2 6 .9 6 .6 6 .4 6 .3 6 .1 6 .1 6 .2 6 .1 2.3 .1"/>
<path d="M182.5 810.8l6-.7 6-1 6-1.4 6-1.8 6-2.1 6-2.6 6-2.8 6-2.9 6-3 6-3.2 6-3.6 6-4.1 6-5 6-6.1 6-7.4 6-9.2 6-11.6 6-14.2 6-16.4 6-18.3 6-19.9 6-20.7 6-20.4 6-20.4 6-21.8 6-24.3 6-27.3 6-29.2 6-28.9 6-25.9 6-20.6 6-14.4 6-9 6-6.2 6-6.6 6-8.5 6-10.5 6-11.2 6-10.9 6-10.7 6-11.7 6-13.8 6-16.7 6-18.5 6-18.5 6-16.1 6-11.1 6-4.5 6 2.2 6 7.5 6 10.3 6 10.4 6 8.9 6 7 6 5.8 6 6.3 6 8.4 6 11.4 6 14.4 6 16.7 6 17.9 6 18.5 6 18.6 6 19.1 6 20.4 6 22.1 6 23.4 6 23.6 6 22.8 6 21.2 6 19.3 6 16.5 6 13 6 9 6 5.4 6 3.3 6 3.5 6 5.6 6 8.7 6 11.3 6 12.8 6 12.9 6 12.2 6 11.1 6 10.3 6 10 6 10.1 6 10.3 6 10.4 6 10.2 6 9.5 6 8.6 6 7.4 6 5.8 6 4.3 6 3.1 6 2.3 6 2 6 2 6 2 6 1.9 6 1.7 6 1.3 6 .9 6 .5 6 0 6-.3 6-.5 6-.5 6-.5 6-.5 2.3-.1"/>
<path d="M182.5 809.1l6-.3 6-.7 6-1 6-1.3 6-1.6 6-2 6-2 6-2.1 6-2.1 6-2.1 6-2.5 6-3 6-3.8 6-4.7 6-6 6-7.6 6-9.8 6-12.6 6-14.8 6-16.8 6-18.2 6-18.7 6-18.2 6-17.8 6-18.5 6-20.2 6-21.6 6-22.6 6-22.5 6-21.3 6-19.3 6-17.2 6-15 6-13.2 6-12.4 6-12.4 6-12.6 6-12.7 6-12.4 6-11.6 6-10.5 6-9.4 6-8.2 6-7.6 6-7.6 6-8.5 6-9.6 6-9.9 6-8.7 6-6 6-2.3 6 1 6 3.1 6 3.9 6 3.8 6 3.6 6 3.8 6 5.1 6 7.2 6 10.2 6 13.6 6 16.4 6 17.7 6 17.3 6 15.9 6 14.3 6 13.7 6 13.9 6 14.9 6 15.9 6 17.1 6 18.1 6 18.9 6 19.2 6 19.2 6 19.1 6 18.7 6 18.4 6 17.6 6 16.4 6 14.8 6 12.9 6 11.3 6 9.7 6 8.1 6 6.7 6 5.5 6 4.6 6 4.7 6 5.2 6 6 6 6.8 6 7.3 6 7.3 6 6.9 6 6.1 6 5.1 6 4.1 6 3.3 6 2.7 6 2 6 1.6 6 1.1 6 .7 6 .3 6 .2 6 .1 6 0 6-.1 6 0 6 .2 2.3 .1"/>
<path d="M182.5 809.7l6 0 6-.1 6-.5 6-.6 6-.9 6-1.1 6-1.2 6-1.5 6-1.7 6-2 6-2.9 6-4 6-5.4 6-7.1 6-8.6 6-10 6-11.5 6-13.6 6-16.1 6-18.9 6-21.6 6-23.8 6-24.3 6-22.7 6-20.3 6-18.8 6-18.4 6-18.9 6-20.1 6-21.1 6-21.1 6-19.7 6-17.3 6-14.3 6-12.5 6-12.8 6-14.3 6-16.1 6-17.1 6-16.5 6-14.5 6-11.4 6-7.9 6-4.4 6-1.9 6-1.3 6-2.4 6-4.1 6-5.5 6-5.5 6-4 6-1.7 6 1 6 3.3 6 5.1 6 6.5 6 7.8 6 9.1 6 10.7 6 12.7 6 15 6 17.4 6 18.9 6 19.8 6 20 6 20.3 6 20.4 6 20 6 19.1 6 17.8 6 16.5 6 15.3 6 14.4 6 13.9 6 13.5 6 13.4 6 13.2 6 13.1 6 12.5 6 11.7 6 10.6 6 9.9 6 9.9 6 10.7 6 11.9 6 13.1 6 13.5 6 12.9 6 11.4 6 9.3 6 7.4 6 5.9 6 5 6 4.4 6 4.1 6 4.1 6 4.1 6 3.8 6 3.3 6 2.6 6 1.8 6 1.1 6 .6 6 .3 6 .3 6 .3 6 .4 6 .4 6 .4 6 0 6 0 2.3 0"/>
<path d="M182.5 810.9l6-.4 6-.7 6-.9 6-1 6-1.3 6-1.5 6-1.9 6-2.3 6-2.8 6-3.4 6-3.9 6-4.5 6-5 6-5.7 6-6.5 6-7.8 6-9.6 6-12 6-14.6 6-17.1 6-19.6 6-22.3 6-24.6 6-25.5 6-25.9 6-26.3 6-26.8 6-26.7 6-26.3 6-25.3 6-23.4 6-21 6-17.4 6-13.5 6-9.9 6-8.2 6-8.3 6-9.8 6-11.9 6-13.9 6-14.9 6-14.2 6-11.7 6-7.5 6-2.3 6 2.1 6 4.4 6 4.3 6 2.1 6-1.4 6-4.6 6-6.5 6-6 6-3.1 6 1.4 6 6.6 6 11 6 14.2 6 15.9 6 16.6 6 16.6 6 16.5 6 16.7 6 17.8 6 19.9 6 22.4 6 24.6 6 24.7 6 22.9 6 19.7 6 16.6 6 14.1 6 12.6 6 12.3 6 12.3 6 12.7 6 12.9 6 13 6 12.6 6 12 6 11.3 6 10.6 6 10.1 6 9.7 6 9.4 6 9.1 6 8.9 6 8.8 6 9.2 6 9.3 6 9.5 6 9.3 6 8.7 6 7.5 6 5.8 6 4.1 6 2.6 6 1.4 6 .7 6 .4 6 .3 6 .2 6 .2 6 .2 6 .2 6 .1 6 .2 6 .3 6 .5 6 .6 6 .7 2.3 .3"/>
<path d="M182.5 808.7l6-.5 6-.8 6-1.1 6-1.5 6-2.1 6-2.6 6-3 6-3.3 6-3.3 6-3.6 6-3.8 6-4.2 6-5.1 6-5.9 6-7 6-8 6-9.3 6-10.5 6-11.7 6-13.2 6-15.3 6-17.1 6-18 6-18.9 6-20.2 6-21.4 6-22.2 6-22.8 6-23.1 6-23.2 6-22.9 6-22.3 6-21.3 6-20.4 6-19.6 6-18.4 6-15.8 6-12.1 6-8.5 6-5.9 6-5.3 6-6.6 6-8.6 6-10.4 6-10.9 6-10.2 6-7.8 6-4.2 6-.3 6 3.1 6 5.3 6 6.4 6 6.4 6 5.7 6 4.8 6 4.3 6 4.7 6 6.6 6 10.2 6 14.6 6 19.1 6 22 6 22.3 6 20.1 6 17 6 13.7 6 11.5 6 10 6 9.5 6 9.5 6 10.6 6 12.1 6 14.5 6 16.9 6 19.4 6 21.2 6 21.9 6 21.4 6 19.4 6 16.3 6 12.7 6 9.5 6 7.2 6 6.1 6 5.7 6 6 6 6.5 6 6.9 6 7.4 6 7.3 6 7 6 6.7 6 6.3 6 5.7 6 5.1 6 4.3 6 3.6 6 2.9 6 2.5 6 2.3 6 2.1 6 1.8 6 1.6 6 1.3 6 1.2 6 1 6 .9 6 .8 6 .7 6 .6 6 .4 2.3 .1"/>
<path d="M182.5 807.9l6-.6 6-.8 6-1 6-1.2 6-1.5 6-1.9 6-2.2 6-2.7 6-3.2 6-4 6-5.1 6-6.6 6-8.5 6-10.5 6-12.3 6-13.7 6-14.4 6-14 6-13.6 6-13.9 6-15.1 6-16.6 6-17.5 6-18.4 6-19.8 6-21.1 6-21.8 6-21.4 6-20.4 6-18.4 6-16.3 6-14.5 6-13 6-12.5 6-13.2 6-14.6 6-15.9 6-16.6 6-16.3 6-15.6 6-14.4 6-12.7 6-10 6-5.9 6-1.3 6 3 6 5.7 6 6.7 6 5.9 6 3.9 6 .8 6-2.6 6-5.7 6-8.3 6-9.5 6-9.1 6-6.3 6-1.4 6 5.9 6 14.5 6 23.1 6 30.1 6 34.3 6 34.6 6 32.1 6 27.6 6 22.3 6 17.4 6 13.2 6 10.2 6 8.9 6 9 6 10 6 11.5 6 13.1 6 14.2 6 14.3 6 13.9 6 12.8 6 11.4 6 10.3 6 9.7 6 9.9 6 10.5 6 11.4 6 11.8 6 12 6 11.3 6 10.4 6 9.2 6 8.2 6 7.3 6 6.3 6 5.3 6 4.2 6 2.8 6 1.7 6 .8 6 .4 6 .5 6 .6 6 1 6 1.2 6 1.2 6 1 6 .7 6 .3 6 0 6-.2 6-.3 6-.2 2.3 0"/>
<path d="M182.5 810.7l6 .4 6 .3 6 .2 6-.4 6-.9 6-1.7 6-2.5 6-3.1 6-3.8 6-4.3 6-4.8 6-5 6-5.1 6-5.2 6-5.4 6-6 6-7 6-8.7 6-10.2 6-11.9 6-14.3 6-17.3 6-20.1 6-23 6-25.7 6-27.8 6-28.3 6-27.7 6-26.3 6-24.6 6-22.8 6-20.8 6-18.2 6-15.6 6-13.3 6-11.8 6-10.6 6-9.1 6-7.2 6-5 6-3 6-1.7 6-1.3 6-2 6-4 6-6.9 6-10 6-12.1 6-12.6 6-11.4 6-9 6-6.3 6-3.4 6-.5 6 2.4 6 5.2 6 7.2 6 8.5 6 8.8 6 9.2 6 10.4 6 13.2 6 17.4 6 22.3 6 26.6 6 29.3 6 29.6 6 27.5 6 23.4 6 18.6 6 14.3 6 11.3 6 9.5 6 8.6 6 8.3 6 8.3 6 8.4 6 8.6 6 9.1 6 10 6 11.3 6 12.6 6 14 6 14.9 6 14.8 6 13.9 6 12.3 6 10.2 6 8.4 6 7 6 6.2 6 5.9 6 5.9 6 6 6 5.8 6 5.2 6 4.4 6 3.7 6 3.1 6 2.6 6 2.4 6 2.1 6 2 6 1.9 6 1.7 6 1.7 6 1.5 6 1.3 6 .9 6 0 6 0 2.3 0"/>
<path d="M182.5 810.1l6-.1 6-.3 6-.5 6-.8 6-1.1 6-1.6 6-2.1 6-2.7 6-3.4 6-4.2 6-5.1 6-6 6-7 6-7.9 6-9 6-10.1 6-11.5 6-12.8 6-14.1 6-15.5 6-17.2 6-19.3 6-20.7 6-21.7 6-23 6-24.3 6-25.2 6-25.2 6-24.3 6-22.8 6-20.9 6-18.9 6-16.4 6-13.4 6-10.8 6-8.9 6-8 6-8.5 6-10.4 6-13 6-15.1 6-15.6 6-13.4 6-8.7 6-3.1 6 2 6 5.3 6 6.7 6 6.4 6 5.1 6 3 6 1.1 6-.1 6-.7 6-.1 6 1.1 6 3.5 6 6.8 6 11.2 6 15.8 6 19.7 6 22 6 21.9 6 19.5 6 15.8 6 12 6 8.6 6 6.5 6 5.4 6 5.7 6 7.5 6 10.4 6 13.7 6 16.6 6 18.6 6 19.3 6 18.6 6 17.4 6 16 6 14.7 6 14 6 14 6 14.3 6 14.6 6 14.5 6 13.6 6 12.1 6 10 6 7.8 6 6.1 6 5.2 6 4.7 6 4.6 6 4.6 6 4.2 6 3.8 6 3.1 6 2.6 6 2 6 1.6 6 1.4 6 1.1 6 1.1 6 .9 6 .9 6 .9 6 .6 6 .6 6 .4 6 .3 6 .1 2.3 .1"/>
<path d="M182.5 809.3l6-.7 6-1.2 6-1.5 6-1.9 6-2.2 6-2.4 6-2.6 6-2.7 6-2.9 6-2.9 6-3.3 6-3.8 6-4.5 6-5.7 6-7 6-8.7 6-10.7 6-12.8 6-14.5 6-15.6 6-16.2 6-17 6-17.9 6-18.4 6-19 6-20.4 6-21.8 6-22.6 6-23.3 6-24 6-25 6-26 6-26.7 6-26.6 6-25.8 6-24.7 6-23 6-20.2 6-16.7 6-12.7 6-9.1 6-5.7 6-2.9 6-.5 6 1.4 6 2.1 6 2.2 6 1.8 6 1.5 6 1.8 6 2.2 6 2.5 6 2.1 6 1 6-1.1 6-2.8 6-3.3 6-1.5 6 3.1 6 9.7 6 17.6 6 24.9 6 30.1 6 32.2 6 31.5 6 28.6 6 24.3 6 19.8 6 15.6 6 12.8 6 11.1 6 10.3 6 10 6 10.7 6 12.2 6 14.4 6 17.1 6 19.1 6 19.7 6 19 6 17.1 6 15 6 13.1 6 11.7 6 10.8 6 10 6 9.1 6 7.9 6 6.7 6 5.6 6 4.9 6 4.6 6 4.4 6 4.3 6 4.2 6 4 6 3.6 6 3.2 6 2.8 6 2.4 6 2 6 1.6 6 1.3 6 .8 6 .3 6-.1 6-.5 6-.5 6-.4 6-.3 6-.1 2.3 0"/>
<path d="M182.5 808.2l6-.8 6-.9 6-1 6-1.1 6-1.1 6-1 6-.9 6-.8 6-.6 6-.7 6-1.2 6-2.2 6-3.4 6-5 6-6.8 6-8.4 6-10.3 6-13.1 6-15.8 6-18.9 6-21.8 6-24.5 6-26 6-25.4 6-24 6-23.5 6-24 6-25 6-26 6-26 6-24.5 6-21.3 6-17.4 6-13.6 6-11.8 6-12.2 6-14 6-15.1 6-13.8 6-9.5 6-3.7 6 2 6 6 6 7.6 6 7.1 6 5.1 6 1.8 6-2.2 6-6.3 6-9.5 6-11.4 6-11.1 6-8.7 6-5.1 6-1.4 6 2 6 4.6 6 6.5 6 8.1 6 10 6 12.8 6 16.6 6 21.1 6 25 6 27.7 6 28.2 6 26.4 6 22.7 6 18.2 6 14.7 6 13.3 6 13.6 6 14.9 6 16.3 6 16.9 6 16.7 6 15.9 6 14.7 6 13 6 11.3 6 9.6 6 8.5 6 8.2 6 8.2 6 8.5 6 8.5 6 8.4 6 8.3 6 8.2 6 8.2 6 7.9 6 7.4 6 6.6 6 5.6 6 4.5 6 3.4 6 2.7 6 2.1 6 1.6 6 1.2 6 .9 6 .5 6 .4 6 .4 6 .3 6 .4 6 .4 6 .5 6 .6 6 .5 6 .5 2.3 .1"/>
<path d="M182.5 807.6l6 0 6 0 6 .1 6 .2 6 .1 6 0 6-.5 6-1.3 6-2.3 6-3.4 6-4.6 6-5.9 6-7.2 6-8.4 6-9.6 6-10.5 6-10.9 6-10.6 6-10.2 6-9.8 6-9.9 6-11 6-13.9 6-17.1 6-20.1 6-23.2 6-26.1 6-28.5 6-29.7 6-30.3 6-30 6-28.6 6-26 6-22.4 6-18.5 6-15.5 6-13.5 6-12 6-10.1 6-7.8 6-5.5 6-4 6-3.9 6-4.4 6-5.4 6-6.4 6-7.6 6-8.3 6-7.9 6-6.3 6-3.6 6-1 6 1 6 1.7 6 1.8 6 2.3 6 4.3 6 8.5 6 14.3 6 20.3 6 24.9 6 27.3 6 27.1 6 25.3 6 23.3 6 21.9 6 21.2 6 20.1 6 17.9 6 14.5 6 10.8 6 8 6 6.6 6 7.1 6 9.4 6 12 6 14.7 6 16.2 6 16.6 6 15.8 6 14.8 6 14 6 13.8 6 13.9 6 13.9 6 13.4 6 12 6 9.8 6 7.2 6 5.1 6 3.8 6 3.4 6 3.5 6 3.6 6 3.7 6 3.7 6 3.6 6 3.4 6 3.1 6 2.9 6 2.2 6 1.6 6 1.1 6 .5 6 .3 6 .2 6 .4 6 .4 6 .5 6 .5 6 .3 2.3 0"/>
<path d="M182.5 811l6-.6 6-.9 6-1.3 6-1.5 6-1.5 6-1.7 6-1.7 6-1.8 6-1.8 6-2 6-2.3 6-2.8 6-3.7 6-4.4 6-5.4 6-6.2 6-7.2 6-9.2 6-11.8 6-15.2 6-19.1 6-23.8 6-28.2 6-30.9 6-30.9 6-29.1 6-26.4 6-22.8 6-19.8 6-17.7 6-16.6 6-16 6-15.4 6-14.5 6-13.7 6-13.7 6-13.5 6-12.9 6-11.6 6-10.4 6-10 6-10.1 6-10.3 6-9.3 6-7.1 6-4.4 6-2.5 6-2.2 6-3.4 6-5.3 6-6.3 6-5.2 6-1.3 6 3.9 6 8.6 6 11.4 6 11.7 6 10.3 6 8.6 6 7.6 6 8.2 6 10.2 6 13.2 6 17 6 20.6 6 23.1 6 23.3 6 21.1 6 17.6 6 14.5 6 12.5 6 11.9 6 12.6 6 13.8 6 15.1 6 16.7 6 17.9 6 18.7 6 19 6 18.6 6 18 6 16.8 6 15.6 6 14.1 6 12.7 6 11.5 6 10.4 6 9.4 6 8.4 6 7.4 6 6.1 6 4.7 6 3.4 6 2.4 6 1.8 6 1.8 6 2 6 2.3 6 2.5 6 2.5 6 2.2 6 1.9 6 1.6 6 .8 6 0 6 0 6 0 6 0 6 0 6 0 6 0 2.3-.2"/>
<path d="M182.5 808.8l6-.2 6-.2 6-.4 6-.5 6-1 6-1.8 6-2.9 6-4 6-4.9 6-5.6 6-5.7 6-5.6 6-5.2 6-5.1 6-5.3 6-6.1 6-7.8 6-10.4 6-13.6 6-16.8 6-19.8 6-22.5 6-23.7 6-23.4 6-23.1 6-23.7 6-25.1 6-27 6-29.1 6-30 6-29.2 6-25.8 6-20.8 6-15.5 6-12.2 6-11.7 6-13.1 6-15.1 6-16.8 6-17.7 6-17.7 6-16.7 6-14.3 6-10.7 6-6.2 6-1.8 6 2.8 6 7 6 10.7 6 12.8 6 13.1 6 11.4 6 8.3 6 4.8 6 2.4 6 1.7 6 2.9 6 5.6 6 9.3 6 13 6 15.9 6 17.8 6 18.8 6 19.5 6 20.1 6 20.7 6 20.7 6 20.1 6 20.1 6 20.6 6 21.2 6 21.5 6 20.8 6 18.9 6 16.5 6 14.7 6 14 6 13.9 6 14 6 14.1 6 13.5 6 12.9 6 12.6 6 12.6 6 12.5 6 11.8 6 10.4 6 8.5 6 6 6 4.7 6 4 6 3.7 6 3.3 6 2.6 6 1.9 6 1.3 6 .9 6 .8 6 .8 6 .8 6 .7 6 .5 6 .2 6-.2 6-.5 6-.6 6-.6 6-.5 6-.3 6-.2 6-.1 2.3 .1"/>
<path d="M182.5 808.7l6 0 6-.2 6-.5 6-.9 6-1.4 6-2.1 6-2.5 6-2.8 6-3 6-3 6-3 6-3.1 6-3.8 6-4.8 6-6.3 6-8.4 6-11 6-14.3 6-17.2 6-20.1 6-22.9 6-25.3 6-26.1 6-26.2 6-26.2 6-26.2 6-25.6 6-24.8 6-23.7 6-22.3 6-20.3 6-17.5 6-13.5 6-9.2 6-5.9 6-4.5 6-5 6-6.7 6-8.8 6-10.3 6-10.7 6-10.2 6-8.9 6-7.4 6-6 6-5.2 6-4.5 6-3.9 6-3 6-2 6-.6 6 1.5 6 3.8 6 6 6 7.6 6 8.3 6 8 6 7.4 6 6.9 6 6.9 6 7.9 6 9.6 6 12 6 14.3 6 16.6 6 18.1 6 19 6 19.4 6 19.7 6 20.2 6 21.2 6 21.9 6 21.7 6 20.7 6 18.7 6 15.9 6 12.9 6 10.4 6 8.5 6 7.9 6 8.4 6 9.8 6 11.7 6 13.3 6 14 6 13.7 6 12.4 6 10.4 6 8.2 6 6.5 6 5.1 6 4.4 6 4.1 6 4 6 4 6 3.7 6 3.4 6 2.9 6 2.2 6 1.8 6 1.4 6 1.1 6 .8 6 .8 6 .7 6 .6 6 .5 6 .4 6 .2 6 .2 6 0 2.3-.1"/>
<path d="M182.5 811.2l6-.8 6-.7 6-.8 6-.7 6-.8 6-1 6-1.4 6-1.7 6-2.1 6-2.6 6-3.2 6-4.1 6-5.2 6-6.3 6-7.4 6-8.2 6-9.2 6-10.6 6-12.4 6-14.8 6-17.6 6-21.3 6-24.5 6-25.9 6-25.9 6-24.9 6-23.5 6-21.7 6-20.3 6-19.5 6-19.4 6-19.3 6-18.3 6-16.3 6-13.7 6-11.9 6-11.3 6-11.4 6-11.8 6-11.8 6-11.3 6-10.3 6-9.5 6-8.7 6-8 6-7.1 6-5.9 6-4.3 6-2.5 6-1.2 6-.7 6-1.2 6-1.4 6-1.1 6 .1 6 1.7 6 3.3 6 4.8 6 6.5 6 8.7 6 11.2 6 14 6 16.4 6 17.6 6 17.8 6 17.1 6 15.6 6 14.1 6 13.1 6 13.4 6 15.6 6 19 6 22.2 6 24.1 6 24.2 6 22.8 6 21 6 19.4 6 18.5 6 18 6 17.4 6 16.1 6 14.4 6 12.4 6 10.4 6 9.2 6 8.5 6 8.4 6 8.1 6 7.6 6 6.6 6 5.3 6 3.9 6 2.6 6 1.8 6 1.5 6 1.8 6 2.3 6 2.9 6 3.2 6 3.1 6 2.5 6 1.9 6 1.2 6 .7 6 .4 6 .2 6 .4 6 .5 6 .6 6 .6 2.3 .2"/>
<path d="M182.5 809.1l6-1.2 6-1.4 6-1.6 6-1.8 6-2.3 6-2.5 6-2.6 6-2.5 6-2.6 6-2.8 6-3.5 6-4.5 6-6 6-7.6 6-9.3 6-10.7 6-12.2 6-13.3 6-14.5 6-15.9 6-18 6-19.9 6-20.9 6-21.3 6-21.9 6-22.1 6-21.8 6-20.8 6-20.1 6-19.6 6-19.8 6-20.1 6-20.4 6-20.1 6-19.8 6-19.2 6-17.8 6-15.5 6-12.5 6-9.2 6-6.2 6-3.8 6-2.2 6-.8 6 .2 6 .8 6 .9 6 .8 6 .7 6 .5 6 .8 6 1.5 6 2.6 6 3.6 6 3.8 6 3.1 6 1.4 6-.1 6 .1 6 2.9 6 8.3 6 15 6 20.5 6 23.8 6 24.3 6 23.2 6 21.5 6 19.9 6 19.2 6 19.2 6 19.7 6 19.7 6 18.3 6 15.7 6 12.5 6 10 6 9.1 6 10.3 6 12.6 6 14.6 6 15.6 6 15 6 13.2 6 10.9 6 8.9 6 7.5 6 6.8 6 6.8 6 7 6 7 6 6.9 6 6.8 6 6.4 6 6 6 5.3 6 4.5 6 3.6 6 2.9 6 2.3 6 1.9 6 1.5 6 1.1 6 .9 6 .7 6 .7 6 .5 6 .4 6 .2 6 0 6 0 6 .1 2.3 .1"/>
<path d="M182.5 809.6l6-.1 6-.2 6-.5 6-.9 6-1.2 6-1.6 6-2.1 6-2.6 6-2.9 6-3.3 6-3.7 6-4.2 6-4.7 6-5.6 6-7 6-8.6 6-10.9 6-13.6 6-16.1 6-18.4 6-20 6-21.5 6-22.4 6-22.3 6-21.5 6-21.2 6-21.3 6-21 6-20.8 6-20.7 6-20.7 6-21.2 6-21.7 6-22 6-21.8 6-21.4 6-19.9 6-16.8 6-12.8 6-8.7 6-5.4 6-3.7 6-3.4 6-3.6 6-4.2 6-5 6-5.7 6-6.1 6-6.4 6-6.6 6-6.9 6-6.7 6-5.6 6-3.6 6-.6 6 2.9 6 6.6 6 10 6 12.9 6 15.2 6 17 6 18.3 6 19.3 6 20.4 6 22 6 23.4 6 24.3 6 24 6 23 6 21.5 6 20.2 6 18.6 6 17 6 15.4 6 14.1 6 13.7 6 14.3 6 15.4 6 16.2 6 16.4 6 16 6 15.1 6 14.5 6 14 6 13.8 6 13.6 6 12.8 6 11.1 6 8.7 6 6.2 6 4.1 6 2.8 6 2.2 6 2.1 6 2.4 6 2.8 6 2.7 6 2.5 6 1.8 6 1.3 6 .8 6 .5 6 .7 6 .8 6 1.1 6 1.1 6 1.1 6 .9 6 .7 6 .5 6 .3 2.3 .1"/>
<path d="M182.5 809.6l6-.1 6-.4 6-.7 6-1.1 6-1.5 6-2.1 6-2.9 6-3.7 6-4.6 6-5.5 6-6.2 6-6.6 6-6.8 6-6.8 6-6.5 6-6.6 6-7.4 6-9.2 6-11.8 6-14.5 6-17.4 6-19.7 6-20.6 6-20.3 6-20.3 6-21.1 6-22.5 6-24.2 6-25.5 6-25.7 6-24.3 6-21.3 6-17.3 6-13.5 6-11.4 6-11.4 6-12.8 6-14.2 6-15.4 6-15.8 6-15.3 6-13.9 6-11.5 6-8.2 6-4.5 6-1.7 6 .2 6 1.1 6 1.4 6 2 6 2.6 6 3.9 6 5.2 6 6.7 6 7.5 6 8.1 6 8.2 6 8.5 6 9.5 6 11.2 6 12.9 6 14.3 6 14.4 6 13.6 6 12.8 6 12.9 6 14.1 6 16.1 6 18.5 6 20.4 6 21.6 6 21.4 6 19.7 6 17.1 6 14.3 6 12.1 6 10.9 6 10.6 6 11 6 11.6 6 12.4 6 12.7 6 12.6 6 11.9 6 10.8 6 9.8 6 9 6 8.6 6 8.7 6 8.7 6 8.4 6 7.9 6 7.1 6 6 6 4.7 6 3.9 6 3.3 6 2.9 6 2.5 6 2 6 1.6 6 1 6 .7 6 .6 6 .4 6 .4 6 .3 6 .1 6 .1 6 0 6-.1 2.3 0"/>
<path d="M182.5 807.3l6-1.2 6-1.3 6-1.5 6-1.8 6-2 6-2.5 6-2.9 6-3.4 6-3.9 6-4.2 6-4.7 6-4.9 6-5.2 6-5.4 6-5.7 6-6.1 6-6.7 6-7.7 6-8.9 6-11 6-14.1 6-18.4 6-22.7 6-26.4 6-30.1 6-32.8 6-34.2 6-33.9 6-32.8 6-30.7 6-27.8 6-24.1 6-19.5 6-14.6 6-10.3 6-7.5 6-6 6-5.5 6-5.9 6-6.7 6-7.9 6-8.9 6-9.7 6-9.1 6-7.6 6-5.2 6-2.2 6 .8 6 3.8 6 6.2 6 7.5 6 7.8 6 7 6 5.6 6 3.9 6 3 6 3.2 6 4.4 6 6.5 6 8.6 6 10.8 6 12.7 6 14.1 6 15.5 6 17.1 6 18.5 6 19.4 6 19.3 6 18.4 6 17.4 6 17.2 6 17.5 6 18 6 18.2 6 18 6 17.4 6 16.5 6 15.7 6 14.8 6 13.9 6 13.1 6 12.5 6 12.4 6 12.5 6 12.5 6 12.3 6 11.3 6 9.8 6 7.9 6 6.2 6 4.7 6 3.7 6 3.1 6 2.9 6 2.8 6 2.8 6 2.9 6 2.8 6 2.7 6 2.4 6 2 6 1.6 6 1.1 6 .9 6 .6 6 .4 6 .3 6 .4 6 .3 6 .3 6 .1 2.3 0"/>
<path d="M182.5 811.4l6 .1 6-.3 6-.5 6-.7 6-.8 6-.8 6-.9 6-1.1 6-1.5 6-1.9 6-2.7 6-3.8 6-4.9 6-6.4 6-7.8 6-9 6-10 6-10.5 6-11.1 6-11.7 6-13.2 6-15.7 6-19.6 6-23 6-24.9 6-26.3 6-27.2 6-27.5 6-27.2 6-26.5 6-25.5 6-24 6-22.2 6-20.2 6-19 6-19.1 6-19.7 6-19.5 6-17.6 6-14.1 6-9.7 6-5.7 6-2.3 6 .1 6 1.7 6 2.3 6 1.5 6-.2 6-2.3 6-4 6-4.6 6-3.7 6-1.1 6 2.2 6 5.6 6 8.3 6 10.1 6 11.3 6 12.7 6 14.2 6 16.5 6 18.7 6 20.3 6 20.7 6 19.6 6 17.1 6 13.3 6 9.7 6 7.9 6 8.7 6 11.7 6 15.6 6 19.2 6 21.9 6 24.1 6 25.7 6 26.7 6 26.7 6 25.2 6 22.3 6 18.5 6 14.5 6 10.6 6 7.3 6 4.7 6 3.1 6 2.4 6 2.6 6 3.2 6 4 6 4.7 6 4.8 6 4.4 6 4 6 3.5 6 2.8 6 2.3 6 1.9 6 1.6 6 1.3 6 1.4 6 1.4 6 1.5 6 1.2 6 .8 6 .2 6-.3 6-.8 6-1 6-.9 6-.7 2.3-.2"/>
<path d="M182.5 808.5l6 .1 6 .1 6 .2 6 0 6-.2 6-.6 6-1.4 6-2.4 6-3.6 6-4.9 6-6 6-6.8 6-7.5 6-8.2 6-8.8 6-9.6 6-10.5 6-11.2 6-13.3 6-16.3 6-19.6 6-22.8 6-25.7 6-27.9 6-27.8 6-26.5 6-25.5 6-25.3 6-25.3 6-25.2 6-24.3 6-21.6 6-17.1 6-11.3 6-5.9 6-2.8 6-3.4 6-6 6-9.1 6-11.2 6-11.6 6-10.3 6-7.8 6-4.8 6-2.3 6-1.7 6-3.1 6-5.6 6-8.5 6-10.4 6-11.6 6-11.6 6-10.3 6-7.4 6-3.5 6 1.5 6 6.3 6 10.8 6 14.8 6 18.6 6 22.6 6 26 6 28 6 28.1 6 26.8 6 24.1 6 21 6 18.1 6 16.9 6 17 6 18 6 18.9 6 19.2 6 18.8 6 17.7 6 16.7 6 15.6 6 14.2 6 13.1 6 12.6 6 13 6 13.9 6 14.9 6 15.2 6 14.3 6 12.3 6 9.7 6 7.1 6 5 6 3.9 6 3.3 6 3 6 2.7 6 2.6 6 2.6 6 2.5 6 2.4 6 2.1 6 1.9 6 1.5 6 1.4 6 1.2 6 1.1 6 .8 6 .6 6 .6 6 .5 6 .5 6 .7 6 .8 6 .8 2.3 .3"/>
<path d="M182.5 808.1l6 .5 6 .6 6 .6 6 .6 6 .4 6 .1 6-.5 6-1 6-1.8 6-2.4 6-3.2 6-4.3 6-5.3 6-6.6 6-8.1 6-9.6 6-11.3 6-13.1 6-14.9 6-16.6 6-18.1 6-19.5 6-20.9 6-21.3 6-21.5 6-22.9 6-25.3 6-28.1 6-29.7 6-29.9 6-28.3 6-25.5 6-22.3 6-18.6 6-15.5 6-13 6-10.9 6-8.8 6-6.6 6-4.8 6-4.3 6-4.9 6-6 6-6.3 6-4.6 6-1.9 6 1 6 3 6 3.5 6 2.4 6 .3 6-2 6-3.8 6-4.2 6-3.2 6-1.3 6 1.2 6 3.6 6 5.5 6 7.3 6 9.2 6 11.6 6 14.2 6 16.6 6 18.7 6 20.4 6 21.2 6 21.1 6 20.6 6 20.1 6 20.2 6 20 6 19.6 6 18.7 6 17.7 6 16.9 6 16.9 6 17.2 6 17.3 6 16.4 6 14.8 6 12.7 6 10.8 6 9.6 6 9.3 6 9.4 6 9.4 6 9.2 6 8.4 6 7.4 6 6.5 6 6.1 6 5.7 6 5.3 6 4.7 6 4 6 3.4 6 2.6 6 2.3 6 1.9 6 1.8 6 1.5 6 1.4 6 1.2 6 .9 6 .6 6 .1 6 0 6 0 6-.1 6-.5 2.3-.1"/>
<path d="M182.5 809.1l6-.1 6-.2 6-.5 6-.7 6-1.1 6-1.7 6-2.2 6-2.9 6-3.6 6-4.5 6-5.6 6-6.8 6-7.8 6-8.6 6-8.9 6-8.8 6-9.1 6-9.7 6-11.6 6-14.4 6-17.5 6-20.9 6-23 6-23.3 6-22.9 6-23.2 6-24 6-25.6 6-27.6 6-29.5 6-30.7 6-30.3 6-27.8 6-23.4 6-18.1 6-12.5 6-6.8 6-1.2 6 3.7 6 7 6 7.8 6 5.9 6 1.9 6-3 6-7.6 6-11.7 6-14.7 6-15.8 6-15.1 6-12 6-7.2 6-1.3 6 4.9 6 10.1 6 13.7 6 15.3 6 15.3 6 14 6 12.2 6 10.7 6 10.2 6 11.1 6 13 6 16 6 19.6 6 22.9 6 25 6 25.2 6 23.6 6 21.4 6 18.7 6 16.1 6 13.7 6 11.5 6 9.8 6 8.3 6 7.6 6 7.6 6 8.1 6 9.4 6 11.1 6 12.9 6 14.5 6 15.2 6 14.9 6 13.5 6 11.5 6 9.2 6 7.3 6 6.1 6 5.8 6 5.8 6 6 6 5.8 6 5.3 6 4.5 6 3.8 6 2.9 6 2.1 6 1.4 6 .7 6 .4 6 .3 6 .4 6 .5 6 .7 6 .7 6 .7 6 .4 6 .3 6-.1 2.3-.1"/>
<path d="M182.5 809.6l6 .3 6 .3 6 0 6-.3 6-.8 6-1.5 6-2.1 6-2.8 6-3.3 6-3.9 6-4.6 6-5 6-5.7 6-6.4 6-7 6-8.2 6-9.9 6-12.4 6-14.8 6-17.4 6-20.3 6-22.8 6-24.3 6-25 6-25.6 6-25.9 6-25.6 6-24.5 6-23.1 6-21.9 6-20.9 6-20.3 6-19.3 6-18.5 6-17.9 6-17.7 6-17 6-15.5 6-12.9 6-9.7 6-6 6-2.9 6-.8 6 .1 6 0 6-.8 6-1.7 6-1.6 6-.7 6 .8 6 2.5 6 3.9 6 4.6 6 4.9 6 5 6 5.3 6 6.3 6 8 6 10.6 6 14.1 6 18 6 21.6 6 23.6 6 23.5 6 21.8 6 18.7 6 14.8 6 10.8 6 7.6 6 6 6 6.4 6 8.1 6 10.4 6 12.7 6 14.4 6 15.6 6 16.6 6 17.1 6 17.2 6 16.6 6 15.3 6 13.6 6 11.8 6 10.3 6 9.3 6 8.9 6 9.1 6 9.3 6 9.5 6 9.2 6 8.5 6 7.4 6 6.3 6 5.2 6 4.1 6 3.4 6 3.1 6 2.9 6 2.7 6 2.5 6 2.2 6 1.7 6 1.2 6 .8 6 .5 6 .4 6 .3 6 .2 6 .1 6 .2 6 0 2.3 0"/>
<path d="M182.5 809.3l6 .1 6 .1 6 0 6-.1 6-.4 6-.7 6-1 6-1.3 6-1.5 6-1.5 6-1.7 6-2.2 6-3.2 6-5.1 6-7.5 6-10.1 6-12.3 6-14.1 6-14.9 6-14.8 6-14.5 6-15 6-15.7 6-16 6-16 6-16.9 6-18.8 6-21.7 6-25.7 6-30.2 6-34.3 6-36.6 6-36.1 6-32.5 6-27.1 6-21.2 6-16.4 6-12.3 6-9.3 6-6.7 6-4.3 6-2.2 6-1 6-.4 6-.4 6-.9 6-1.1 6-.7 6 .3 6 2 6 3.8 6 5.2 6 6 6 6.3 6 6.2 6 6 6 6.4 6 7.3 6 8.8 6 10.7 6 12.8 6 15.2 6 17.3 6 18.9 6 19.8 6 19.6 6 18.3 6 16.1 6 13.4 6 11.7 6 11.5 6 12.8 6 14.6 6 16.4 6 17.3 6 17.3 6 16.9 6 16.1 6 15.3 6 14.4 6 13.7 6 12.9 6 12.1 6 11.2 6 9.9 6 8.3 6 6.8 6 5.5 6 4.7 6 4.3 6 4.2 6 4.3 6 4.3 6 4.5 6 4.4 6 4.6 6 4.6 6 4.5 6 4.5 6 4 6 3.3 6 2.5 6 1.6 6 .9 6 .1 6-.4 6-.7 6-.7 6-.6 6-.3 6 0 2.3 .1"/>
<path d="M182.5 810.4l6-.9 6-1 6-1.1 6-1 6-.9 6-.5 6-.2 6-.2 6-.4 6-1.1 6-1.8 6-2.6 6-3.2 6-3.7 6-4.2 6-5.3 6-7.2 6-10.3 6-14.4 6-18.6 6-22.5 6-25.9 6-29 6-30.8 6-30.4 6-29 6-27.3 6-25.5 6-23.8 6-22.8 6-22.7 6-23.1 6-23.5 6-22.3 6-19.7 6-16.5 6-13.4 6-10.6 6-8.7 6-8 6-8.2 6-8.8 6-8.8 6-7.3 6-4.2 6-.9 6 1.1 6 2.2 6 2.3 6 2.3 6 2.8 6 3.6 6 4.7 6 5.6 6 6 6 6 6 6.2 6 6.6 6 7.9 6 9.4 6 11.1 6 12.7 6 13.6 6 14.9 6 16.6 6 18.7 6 20.3 6 20.8 6 20.4 6 20 6 19.7 6 19.9 6 20.2 6 20.2 6 19.9 6 19 6 17.9 6 16.5 6 14.9 6 13.6 6 12.4 6 11.6 6 11 6 10.5 6 10.1 6 9.6 6 9.3 6 8.7 6 8 6 7.2 6 6.1 6 5 6 3.8 6 3 6 2.4 6 2.3 6 2.3 6 2.3 6 2.4 6 2.3 6 2.2 6 2.1 6 1.3 6 0 6 0 6 0 6 0 6 0 6 0 6 0 6 0 2.3 0"/>
<path d="M182.5 810.1l6 0 6-.4 6-.7 6-1.1 6-1.7 6-2.1 6-2.4 6-2.7 6-3 6-3.5 6-3.9 6-4.8 6-5.8 6-6.9 6-8 6-9.2 6-10.4 6-12 6-13.5 6-15.2 6-17.5 6-19.3 6-20.5 6-21.8 6-23.6 6-25.5 6-26.8 6-27.4 6-27 6-25.7 6-23.5 6-20.6 6-17.1 6-14.1 6-11.9 6-10 6-7.9 6-5.1 6-2.6 6-1.1 6-1.7 6-4 6-6.9 6-9.3 6-10.1 6-9.5 6-7.4 6-4.3 6-.7 6 2.9 6 5.7 6 7.2 6 7.2 6 5.9 6 3.9 6 1.9 6 .8 6 .8 6 1.9 6 3.9 6 6.5 6 9.6 6 13.1 6 16.3 6 19 6 21.4 6 23.1 6 24.1 6 23.7 6 22 6 19.5 6 16.6 6 13.9 6 12.2 6 11.4 6 11.8 6 12.9 6 14.8 6 16.5 6 17.3 6 16.9 6 15 6 12.3 6 9.3 6 6.8 6 4.9 6 4.2 6 4.1 6 4.4 6 5.1 6 5.4 6 5.7 6 5.5 6 5.1 6 4.6 6 3.8 6 3.2 6 2.8 6 2.6 6 2.5 6 2.7 6 2.8 6 2.7 6 2.6 6 2.1 6 1.8 6 1.4 6 1 6 .7 6 .7 6 .6 2.3 .3"/>
<path d="M182.5 810.1l6 .4 6 .3 6 .1 6-.3 6-1 6-1.9 6-3.2 6-4.4 6-5.5 6-6.1 6-6.7 6-7.1 6-7.5 6-7.9 6-8.6 6-9.1 6-10 6-10.8 6-12.4 6-14.4 6-16.4 6-18.5 6-20.4 6-21.2 6-20.9 6-21.1 6-21.4 6-21.4 6-20.5 6-19 6-16.8 6-15 6-13.6 6-13.1 6-13.8 6-15.3 6-16.5 6-16.5 6-15.6 6-14.7 6-14.9 6-15.6 6-16.2 6-15.2 6-12.1 6-7.8 6-3.6 6-.5 6 .9 6 .6 6-.9 6-2.6 6-3.4 6-3 6-.8 6 2.5 6 6.7 6 11.2 6 15.7 6 20.3 6 24 6 26.3 6 26.4 6 25.2 6 23.6 6 22.2 6 21.2 6 20 6 18.7 6 17.5 6 16.5 6 15.8 6 15.6 6 15.9 6 16.6 6 17.4 6 18.1 6 18 6 17 6 15.3 6 13.2 6 11.4 6 10.1 6 9.3 6 9.4 6 9.7 6 10 6 9.3 6 7.4 6 5.2 6 2.8 6 1 6 0 6-.2 6 .4 6 1.2 6 1.7 6 1.8 6 1.6 6 1.2 6 .9 6 .6 6 .7 6 .8 6 .9 6 1.1 6 1 6 1.1 6 .9 6 .7 6 .5 2.3 .2"/>
<path d="M182.5 810.1l6 .1 6 0 6 0 6-.4 6-.8 6-1.6 6-2.1 6-2.6 6-2.8 6-3 6-3.1 6-3.4 6-4.1 6-5.2 6-6.5 6-8.1 6-10.1 6-12.2 6-14.1 6-15.9 6-18.1 6-20.5 6-21.8 6-21.8 6-21.6 6-21.3 6-21.1 6-20.9 6-21.5 6-22.3 6-23.2 6-23.4 6-21.9 6-19.2 6-15.8 6-12.5 6-9.8 6-8.3 6-7.8 6-8.4 6-9.8 6-11.2 6-12.3 6-12.9 6-13 6-13.1 6-12.5 6-10.7 6-7.5 6-3.2 6 1.6 6 5.9 6 9.3 6 10.9 6 10.7 6 8 6 4 6-.4 6-3.1 6-2.9 6 .7 6 6.6 6 13.5 6 19.4 6 24.2 6 27.3 6 29 6 29.2 6 28.2 6 26.4 6 24.1 6 21.6 6 18.6 6 15.6 6 13.1 6 11.3 6 10.7 6 11.2 6 11.9 6 12.4 6 12.6 6 12.3 6 11.9 6 11.6 6 11.4 6 10.8 6 10.2 6 9.1 6 8 6 6.7 6 5.7 6 5.1 6 4.7 6 4.8 6 4.9 6 5 6 5 6 4.6 6 4.1 6 3.3 6 2.5 6 1.7 6 1.2 6 1 6 .9 6 .8 6 .8 6 .8 6 .6 6 .6 6 .4 2.3 .2"/>
<path d="M182.5 808.9l6-.4 6-.5 6-.6 6-.5 6-.6 6-.6 6-.9 6-1.5 6-2.1 6-2.7 6-3.3 6-3.9 6-4.5 6-5 6-5.7 6-6.1 6-6.4 6-7 6-7.9 6-9.6 6-12.2 6-15.8 6-19.9 6-22.9 6-23.9 6-23.9 6-23.7 6-23.1 6-22.9 6-23.2 6-24.5 6-26.3 6-27.7 6-27.7 6-25.9 6-22.8 6-18.6 6-14.1 6-9.9 6-7.2 6-6.4 6-7.3 6-9.2 6-11 6-12.1 6-12.8 6-13 6-12.6 6-11.6 6-10.1 6-8.2 6-5.7 6-3 6-.2 6 2.4 6 5.2 6 8.5 6 12.8 6 17.5 6 22.2 6 26.2 6 28.6 6 29.4 6 29.3 6 28.5 6 26.9 6 24.1 6 20.3 6 16.3 6 13.8 6 13 6 14 6 16.1 6 18.2 6 19.7 6 20.4 6 20.2 6 18.9 6 16.7 6 13.8 6 10.9 6 8 6 6.1 6 4.9 6 5 6 5.8 6 7.2 6 8.4 6 9.2 6 9.1 6 8.3 6 7 6 5.7 6 4.5 6 3.8 6 3.5 6 3.6 6 3.6 6 3.4 6 3 6 2.4 6 1.7 6 1.1 6 .6 6 .1 6 0 6-.1 6-.2 6-.2 6-.3 6-.1 2.3-.1"/>
<path d="M182.5 809.7l6-.3 6-.5 6-.7 6-1 6-1.5 6-1.8 6-2.2 6-2.7 6-3.2 6-3.9 6-4.5 6-5.2 6-6.1 6-7 6-8.2 6-9.9 6-11.7 6-13.7 6-15.7 6-18 6-21 6-23.5 6-25.3 6-26.5 6-27.1 6-26.6 6-25.2 6-23 6-20.6 6-17.8 6-15.1 6-12.1 6-9.3 6-7 6-6.1 6-7 6-8.9 6-11.2 6-13.4 6-14.6 6-14.3 6-12.1 6-8.2 6-3.5 6 .9 6 3 6 2.4 6-.2 6-3.2 6-5.3 6-5.3 6-3.3 6 0 6 3.7 6 7.2 6 9.4 6 10.5 6 10.2 6 8.9 6 7.5 6 6.9 6 7.9 6 10.7 6 14.3 6 17.8 6 19.9 6 20.5 6 19.3 6 17.2 6 14.5 6 12 6 10.4 6 9.3 6 9.5 6 11 6 13.5 6 16.6 6 18.8 6 19.7 6 18.7 6 16 6 12.7 6 9.5 6 7.5 6 6.7 6 7.1 6 8.2 6 9.2 6 9.8 6 9.6 6 8.7 6 7.4 6 6.2 6 5.3 6 4.7 6 4.4 6 4.1 6 3.6 6 3.3 6 2.8 6 2.3 6 2 6 1.7 6 1.5 6 1.5 6 1.4 6 1.3 6 1.1 6 1 6 .7 6 .6 2.3 .2"/>
<path d="M182.5 810l6 0 6-.4 6-.6 6-1 6-1.3 6-1.5 6-1.6 6-1.7 6-1.8 6-2 6-2.3 6-2.9 6-3.9 6-5 6-6.5 6-8.4 6-10.3 6-12.6 6-14.9 6-16.7 6-18.3 6-19.7 6-21.3 6-22.1 6-22.6 6-23.9 6-26.4 6-28.8 6-30.1 6-29.6 6-26.9 6-22.6 6-17.5 6-12.1 6-7.7 6-5.2 6-4.9 6-6.1 6-7.9 6-9.3 6-10.2 6-10.5 6-10.7 6-10.8 6-11.2 6-12 6-12.8 6-13.4 6-13.1 6-11.7 6-9.6 6-6.5 6-2.7 6 1.9 6 7.1 6 13 6 18.8 6 24.1 6 28.1 6 30 6 29.3 6 26 6 20.9 6 15.2 6 10.8 6 8.7 6 9.3 6 11.4 6 14.2 6 16.9 6 19.3 6 20.6 6 20.5 6 19.5 6 17.5 6 15 6 12.7 6 10.8 6 9.7 6 9.3 6 9.6 6 10.2 6 11 6 11.7 6 12 6 11.9 6 11.4 6 10.2 6 8.4 6 6.6 6 5.4 6 4.7 6 4.7 6 5 6 5 6 4.9 6 4.5 6 3.9 6 3.2 6 2.5 6 1.9 6 1.4 6 1 6 .7 6 .4 6 .3 6 .2 6 .1 6 0 6-.2 6-.2 2.3-.1"/>
<path d="M182.5 808.8l6-.6 6-.9 6-1 6-1.2 6-1.4 6-1.7 6-2.1 6-2.3 6-2.9 6-3.7 6-4.6 6-5.5 6-6.1 6-6.6 6-6.7 6-7 6-8 6-9.8 6-12.5 6-15.4 6-18.4 6-20.6 6-21.1 6-20.2 6-19.5 6-19.9 6-20.8 6-22 6-22.7 6-22.7 6-21.6 6-19.8 6-17.7 6-16.1 6-15.9 6-17 6-18.7 6-19.5 6-18.9 6-16.6 6-13.4 6-10.2 6-7.4 6-4.8 6-2.2 6 0 6 2 6 3.1 6 3.1 6 1.7 6-.4 6-2.5 6-3.2 6-1.7 6 1.4 6 5.8 6 10 6 13.5 6 15.8 6 17.3 6 18.2 6 18.5 6 18.2 6 17.4 6 16.7 6 16.5 6 17 6 17.4 6 17.3 6 16.8 6 16.4 6 15.9 6 15.4 6 14.4 6 13 6 11.3 6 9.7 6 9 6 8.8 6 9 6 9.2 6 9.1 6 9.4 6 10 6 11.1 6 12.3 6 13.3 6 13.5 6 13 6 11.5 6 9.7 6 7.9 6 6.1 6 4.8 6 3.8 6 3.3 6 3 6 3 6 3 6 2.8 6 2.6 6 2.1 6 1.7 6 1 6 .5 6 0 6 0 6 0 6-.1 6-.1 6 0 2.3 0"/>
<path d="M182.5 810.6l6-.2 6-.3 6-.5 6-.5 6-.8 6-1.1 6-1.3 6-1.5 6-1.6 6-1.4 6-1.6 6-2.3 6-3.5 6-5.3 6-7.2 6-8.8 6-10 6-11.3 6-12.6 6-13.9 6-16.1 6-19 6-21.4 6-22.4 6-22.4 6-22.6 6-23.1 6-23.8 6-25.1 6-26.4 6-27.4 6-27.9 6-27.5 6-26.6 6-25.6 6-24.7 6-23.1 6-20.1 6-15.8 6-11.1 6-6.7 6-3.3 6-1.1 6 .2 6 .1 6-1.5 6-4.4 6-7.5 6-9.2 6-8.7 6-5.9 6-1 6 4.9 6 10.5 6 14.8 6 17.7 6 19.3 6 20.2 6 21.2 6 22.3 6 23.3 6 23.9 6 23.2 6 21.5 6 19 6 15.9 6 12.7 6 9.7 6 7.5 6 6.9 6 7.5 6 9 6 10.5 6 11.9 6 13.3 6 14.7 6 16.7 6 18.9 6 20.5 6 21.2 6 20.4 6 18.5 6 15.7 6 12.7 6 9.8 6 7.7 6 6.2 6 5.7 6 5.4 6 5.6 6 5.7 6 5.6 6 4.9 6 4.1 6 3.2 6 2.4 6 2.1 6 1.7 6 1.7 6 1.5 6 1.3 6 1.1 6 1 6 .8 6 .6 6 .7 6 .7 6 .6 6 .6 6 .5 6 .3 2.3 0"/>
<path d="M182.5 810.9l6 0 6 0 6-.1 6-.3 6-.4 6-.9 6-1.1 6-1.5 6-1.9 6-2.5 6-3.4 6-4.8 6-6.3 6-8.1 6-9.7 6-10.9 6-11.8 6-12.3 6-12.5 6-13.1 6-14.5 6-17.1 6-19.7 6-21.5 6-23.4 6-24.9 6-25.9 6-26 6-25.5 6-24.5 6-23 6-21.5 6-19.6 6-17.4 6-15.8 6-14.6 6-14 6-13.2 6-12 6-10.5 6-9.2 6-8.3 6-8.2 6-8.1 6-7.9 6-7.1 6-5.9 6-4 6-1.8 6 .6 6 2.7 6 3.8 6 3.6 6 2.1 6-.2 6-2.1 6-2.1 6 0 6 4.3 6 10.1 6 16.4 6 22.3 6 27.2 6 30.3 6 31.7 6 31.5 6 29.2 6 24.3 6 17.7 6 10.4 6 5 6 2.6 6 3.8 6 7.7 6 12.9 6 17.1 6 19.4 6 19.3 6 17.5 6 14.9 6 12.3 6 10.7 6 10 6 10.1 6 10.5 6 11.3 6 11.9 6 12 6 11.5 6 10.5 6 9.1 6 7.7 6 6.2 6 4.9 6 3.6 6 2.6 6 2 6 1.8 6 1.8 6 2.1 6 2.1 6 2 6 1.6 6 1 6 .6 6 .1 6-.1 6-.1 6-.2 6-.1 6 .1 2.3 0"/>
<path d="M182.5 810.4l6-.7 6-.7 6-.8 6-1 6-1.3 6-1.9 6-2.3 6-2.7 6-3.1 6-3.4 6-3.9 6-4.6 6-5.7 6-6.8 6-7.9 6-9.2 6-10.8 6-13.1 6-15.4 6-18 6-20.6 6-22.2 6-22 6-21.2 6-20.8 6-21 6-21.3 6-21.6 6-21.9 6-21.8 6-21.7 6-21.2 6-20.5 6-20.1 6-20.1 6-20.5 6-20.2 6-18.5 6-15.5 6-10.9 6-5.7 6-.9 6 2.7 6 4.5 6 3.8 6 1.1 6-2.5 6-5.3 6-5.8 6-3.9 6-.3 6 3.6 6 6.5 6 8.1 6 8.3 6 8.2 6 8 6 8.1 6 8.7 6 9.5 6 10.8 6 12.2 6 13 6 13.2 6 13 6 13 6 13.2 6 13.8 6 14.4 6 15.5 6 16.7 6 18 6 18.9 6 19.3 6 18.9 6 18.3 6 17.5 6 17.2 6 16.9 6 16.5 6 15.6 6 14.2 6 12.4 6 10.4 6 8.7 6 7.3 6 6.6 6 6.5 6 6.7 6 6.9 6 7 6 6.9 6 6.6 6 6.1 6 5.4 6 4.5 6 3.8 6 3 6 2.5 6 2 6 1.6 6 1.2 6 .8 6 .5 6 .3 6 .3 6 .2 6 .3 6 .4 6 .5 6 .5 2.3 .2"/>
<path d="M182.5 808.7l6-.6 6-.5 6-.5 6-.6 6-.7 6-.9 6-1.3 6-2.1 6-3.1 6-4.3 6-5.4 6-6.4 6-7.3 6-8 6-8.8 6-10.1 6-11.9 6-13.8 6-15.4 6-16.4 6-16.6 6-15.8 6-14.3 6-14.5 6-16.8 6-20.5 6-24.2 6-27 6-27.4 6-25.3 6-21.2 6-15.9 6-10.7 6-7.6 6-7.2 6-9.6 6-13.3 6-17.1 6-19.6 6-20.2 6-19.2 6-17.1 6-14.4 6-11.8 6-9.8 6-8.1 6-6.4 6-4.2 6-1.4 6 1.4 6 3.4 6 4.4 6 4.4 6 3.8 6 3.4 6 3.2 6 3.5 6 4.8 6 7.3 6 11 6 15.9 6 21.2 6 25.5 6 27.6 6 26.8 6 23.3 6 18.4 6 13.2 6 9.3 6 7.5 6 8.2 6 10.4 6 13 6 14.8 6 15.9 6 16 6 15.8 6 15.8 6 16 6 16.4 6 16.6 6 16.1 6 15.1 6 13.7 6 12.2 6 10.9 6 9.8 6 9.3 6 8.6 6 8.2 6 7.4 6 6.6 6 5.5 6 4.6 6 3.7 6 3 6 2.5 6 2.4 6 2.4 6 2.6 6 2.5 6 2.3 6 1.9 6 1.4 6 1 6 .9 6 .9 6 1 6 1 6 1 6 .9 2.3 .3"/>
<path d="M182.5 807.7l6-.1 6-.4 6-.7 6-1.1 6-1.4 6-1.7 6-2.2 6-2.6 6-2.9 6-3.2 6-3.6 6-3.9 6-4.5 6-5.5 6-6.9 6-8.6 6-10.8 6-13.1 6-15.2 6-16.8 6-18.3 6-19.8 6-21.4 6-22.2 6-23.1 6-24.5 6-25.6 6-25.6 6-24.5 6-22.2 6-18.7 6-14.8 6-11 6-7.8 6-5.9 6-5.7 6-6.7 6-8.7 6-11.3 6-14.5 6-18 6-20.6 6-21.4 6-19.8 6-16.2 6-12.2 6-8.8 6-6.4 6-5.2 6-4.6 6-4 6-2.9 6-.5 6 2.8 6 6.7 6 10.2 6 12.9 6 14.8 6 16.3 6 17.5 6 18.3 6 18.7 6 17.8 6 15.8 6 13.6 6 12.2 6 12 6 13.2 6 15.2 6 17.6 6 20 6 21.8 6 22.2 6 21.7 6 20.8 6 20 6 19.5 6 19.3 6 18.4 6 16.5 6 13.5 6 10.4 6 7.6 6 6.1 6 5.8 6 6.4 6 7.4 6 8.3 6 8.8 6 8.7 6 8.1 6 7.5 6 7 6 6.4 6 5.9 6 5.2 6 4.6 6 3.7 6 3 6 2.4 6 2 6 1.7 6 1.4 6 1.2 6 1 6 .5 6 .2 6 .1 6-.1 6 0 6 0 2.3 0"/>
<path d="M182.5 809.7l6 .2 6 .1 6 0 6-.3 6-.7 6-1 6-1.3 6-1.7 6-2.2 6-2.6 6-2.9 6-3.3 6-3.9 6-4.6 6-5.5 6-7 6-8.9 6-11.2 6-14.4 6-18 6-21.4 6-24 6-25.7 6-26.1 6-24.3 6-21.2 6-19 6-18.8 6-19.7 6-21.9 6-23.9 6-25.3 6-25.5 6-24.4 6-22.5 6-20.8 6-19.6 6-17.6 6-14.2 6-9.8 6-5.6 6-3.2 6-3.5 6-6 6-9.3 6-12.6 6-14.6 6-15 6-13.5 6-10.4 6-6.2 6-1.2 6 4.5 6 10 6 14.2 6 16.6 6 16.9 6 15.4 6 14 6 13.2 6 14 6 15.8 6 17.8 6 19.6 6 21 6 21.6 6 21.5 6 20.9 6 20.7 6 21.1 6 21.3 6 20.7 6 19.6 6 18.3 6 17.3 6 17.1 6 17.2 6 17.1 6 16.6 6 15.8 6 14.8 6 13.8 6 12.6 6 11.5 6 10.2 6 8.8 6 7.3 6 6 6 4.6 6 3.6 6 2.9 6 2.7 6 3 6 3.7 6 4.4 6 4.9 6 4.9 6 4.5 6 3.6 6 2.8 6 1.8 6 1.1 6 .6 6 .1 6 .1 6 .1 6 .1 6 0 6 0 6-.1 6-.1 2.3 0"/>
<path d="M182.5 811.6l6 0 6 0 6 0 6-.2 6-1 6-1.3 6-1.7 6-2.1 6-2.4 6-2.7 6-2.7 6-2.9 6-3.1 6-3.7 6-4.7 6-6 6-7.7 6-10.2 6-13.1 6-16.1 6-19 6-21.8 6-24.7 6-26.8 6-27.3 6-27.5 6-27.5 6-26.7 6-24.7 6-22.6 6-20.4 6-19.2 6-19 6-19.3 6-20.2 6-21.2 6-21.8 6-20.7 6-17.7 6-13.9 6-10 6-7 6-5 6-3.1 6-.9 6 1.2 6 3.1 6 4.6 6 5.7 6 6.6 6 7.4 6 8.1 6 8.4 6 8 6 6.5 6 4.6 6 3.2 6 3.2 6 5.2 6 8.6 6 12.6 6 16 6 18.1 6 19.2 6 19.7 6 20.1 6 19.7 6 18.2 6 16.5 6 15.2 6 14.6 6 14.8 6 15.3 6 15.6 6 15.4 6 14.8 6 14.2 6 13.7 6 13.4 6 13.5 6 14 6 14.5 6 14.7 6 14.3 6 13.1 6 10.9 6 8.4 6 6 6 4 6 3 6 3 6 3.4 6 4 6 4.4 6 4.5 6 4.1 6 3.4 6 2.6 6 1.7 6 1.1 6 .8 6 .8 6 .7 6 .8 6 .9 6 .7 6 .7 6 .5 6 .2 6 .1 6 .1 2.3 0"/>
<path d="M182.5 808.1l6-.3 6-.7 6-1.2 6-1.6 6-1.9 6-2.3 6-2.5 6-2.7 6-2.7 6-3.1 6-3.6 6-4.4 6-5.6 6-6.8 6-8.2 6-9.3 6-10.7 6-12.2 6-13.7 6-15.5 6-17.7 6-20.1 6-21.4 6-21.5 6-21.4 6-21 6-20.2 6-19.3 6-19.5 6-20.9 6-23.7 6-26.7 6-28.6 6-28.6 6-26.1 6-20.8 6-13.1 6-4.6 6 2.5 6 6.2 6 5.6 6 1.2 6-4.6 6-9.7 6-12.8 6-13.6 6-12.4 6-9.5 6-5.5 6-1.4 6 2.2 6 5 6 6.7 6 7.8 6 8.6 6 9.4 6 10.5 6 11.3 6 12.1 6 12.6 6 13.2 6 14 6 14.9 6 15.8 6 16.9 6 17.3 6 16.7 6 15.1 6 12.9 6 11.6 6 11.7 6 13.4 6 15.8 6 18.1 6 19.5 6 19.9 6 19.6 6 18.9 6 17.6 6 15.9 6 13.9 6 11.7 6 9.8 6 8.3 6 7.4 6 7 6 7.2 6 7.3 6 7.4 6 7.2 6 6.8 6 6.1 6 5.5 6 4.9 6 4.4 6 3.8 6 3.4 6 3 6 2.4 6 2 6 1.5 6 .9 6 .5 6 .1 6-.1 6-.1 6 0 6 .2 6 .5 6 .8 6 .7 2.3 .2"/>
<path d="M182.5 810.1l6-.4 6-.6 6-.6 6-.7 6-.9 6-1.2 6-1.6 6-1.8 6-2.3 6-2.8 6-3.7 6-4.9 6-6.5 6-8 6-9.3 6-10.2 6-10.4 6-10.6 6-11 6-12.4 6-15.3 6-18.9 6-21.8 6-23.9 6-25.5 6-25.7 6-24.5 6-22.5 6-20.1 6-17.6 6-15.1 6-12.6 6-9.8 6-7.9 6-7.6 6-9 6-11.7 6-15.1 6-18.6 6-21.4 6-22.7 6-21.5 6-17.5 6-11.4 6-5 6-.1 6 2.1 6 2.1 6 .4 6-1.7 6-3.8 6-5.4 6-6.2 6-5.5 6-3 6 1.2 6 7.1 6 13.5 6 19.8 6 24.7 6 28.1 6 29 6 27.6 6 24.5 6 20.8 6 17 6 13.9 6 11.3 6 9.4 6 8.4 6 8.1 6 8.2 6 8.3 6 8.6 6 9 6 9.9 6 11.3 6 13.1 6 14.8 6 16 6 16.4 6 16.2 6 15.2 6 13.8 6 12.4 6 11.2 6 10.3 6 9.9 6 9.7 6 9.4 6 9 6 8.2 6 7.3 6 6.2 6 5.2 6 4.3 6 3.6 6 2.9 6 2.5 6 1.9 6 1.4 6 1 6 .5 6 .2 6 0 6-.2 6-.3 6-.4 6-.2 6-.3 6-.1 2.3 0"/>
<path d="M182.5 811.6l6 0 6 0 6 0 6-1.4 6-2.9 6-3.5 6-3.6 6-3.2 6-2.7 6-2.5 6-2.6 6-3.4 6-4.9 6-6.9 6-9 6-10.9 6-12.3 6-13.1 6-13.1 6-13.1 6-14 6-15.8 6-17.7 6-20.3 6-23.7 6-27.4 6-30 6-31.1 6-30.3 6-27.4 6-23.5 6-19.2 6-15.2 6-11.9 6-9.4 6-7.2 6-4.8 6-3 6-2.6 6-4.5 6-8.3 6-12.5 6-15.2 6-15 6-12.6 6-9.1 6-6 6-3.9 6-2.8 6-1.9 6-.9 6 .8 6 3.3 6 5.5 6 7.4 6 8.3 6 8.6 6 8.5 6 8.7 6 9.5 6 11 6 13.4 6 16.3 6 19.2 6 22 6 23.9 6 24.8 6 23.9 6 21.9 6 19.6 6 17.8 6 16.5 6 15.5 6 14.6 6 13.7 6 12.9 6 12.6 6 13 6 13.4 6 13.6 6 13 6 11.6 6 9.4 6 7.4 6 5.9 6 5.5 6 5.9 6 6.6 6 7.4 6 7.8 6 7.5 6 7 6 6.4 6 5.6 6 4.8 6 4.1 6 3.2 6 2.5 6 2 6 1.5 6 1.5 6 1.3 6 1.4 6 1.4 6 1.3 6 .9 6 .5 6 .1 6 0 6-.2 6 0 2.3 .1"/>
<path d="M182.5 809.4l6 .2 6 0 6 0 6-.1 6-.2 6-.3 6-.7 6-1.3 6-2 6-3.2 6-4.6 6-6.1 6-7.7 6-9.1 6-10.3 6-11.3 6-12.3 6-13.5 6-15.3 6-17.4 6-19.8 6-22.4 6-24.6 6-25.4 6-25 6-24.7 6-24.2 6-22.7 6-20.4 6-17.7 6-14.7 6-12.6 6-11.4 6-11.3 6-12.2 6-13.7 6-15.4 6-16.1 6-15.9 6-15.2 6-14.1 6-12.8 6-11.3 6-9.4 6-7.3 6-6.3 6-6.7 6-8 6-9.8 6-10.5 6-9.7 6-7 6-2.8 6 2.3 6 7.5 6 12.4 6 16.1 6 18.6 6 19.6 6 19.4 6 18.6 6 17.5 6 16.4 6 15.6 6 15 6 14.8 6 14.5 6 14.3 6 14.3 6 15 6 16.6 6 18.4 6 20 6 20.9 6 21.4 6 21.6 6 21.8 6 21.8 6 21.3 6 19.7 6 17.4 6 14.4 6 11.6 6 9.4 6 7.9 6 7.1 6 6.4 6 5.5 6 4.4 6 3.5 6 2.9 6 3.2 6 3.9 6 4.7 6 5 6 5.2 6 4.8 6 4.4 6 3.7 6 3.2 6 2.8 6 2.4 6 2 6 1.7 6 1.4 6 .8 6 .5 6 .1 6 0 6-.1 6 0 2.3 0"/>
<path d="M182.5 810.2l6-.3 6-.3 6-.4 6-.5 6-.9 6-1.5 6-2.2 6-2.9 6-3.6 6-4.2 6-4.8 6-5.4 6-6.2 6-7.3 6-8.7 6-10.2 6-11.6 6-12.6 6-13.4 6-14.1 6-15.6 6-18.4 6-21.5 6-24.3 6-26.7 6-28.4 6-29.1 6-28 6-25.9 6-22.4 6-18.1 6-12.8 6-7.2 6-2 6 .7 6 .2 6-3.4 6-8.3 6-13.3 6-17.3 6-19.7 6-20.7 6-20.1 6-18 6-15.2 6-12.4 6-10.5 6-9.3 6-8.3 6-6.2 6-3.1 6 1.2 6 5.4 6 8.6 6 10.3 6 10.5 6 10.6 6 11 6 12 6 13.7 6 15.8 6 17.9 6 19.6 6 20.6 6 20.7 6 19.7 6 17.9 6 15.3 6 12.8 6 11.3 6 11.3 6 12.3 6 13.5 6 14.4 6 14.7 6 14.5 6 14.6 6 15.2 6 16.2 6 17.6 6 18.9 6 19.6 6 19.4 6 17.8 6 15.4 6 12.3 6 9.2 6 6.8 6 5.3 6 4.8 6 5.2 6 5.6 6 5.9 6 5.8 6 5.2 6 4.5 6 3.6 6 2.7 6 2 6 1.3 6 .7 6 .3 6-.1 6-.1 6-.1 6-.1 6 .1 6 .3 6 .3 6 .4 6 .3 2.3 .1"/>
<path d="M182.5 810.8l6-.4 6-.8 6-1.1 6-1.4 6-1.6 6-1.6 6-1.7 6-1.8 6-2 6-2.7 6-4 6-5.6 6-7.9 6-10.3 6-12.4 6-14.4 6-16.1 6-16.8 6-17.1 6-17.5 6-18 6-18.7 6-18.4 6-17.5 6-16.8 6-16.9 6-17.8 6-19.6 6-22.3 6-24.8 6-26.5 6-26.3 6-23.4 6-18.4 6-13.1 6-8.8 6-6.4 6-5.6 6-5.8 6-6.3 6-6.7 6-6.5 6-5.8 6-4.5 6-3.3 6-2.8 6-3.2 6-3.8 6-4 6-3.2 6-1.4 6 .7 6 2.6 6 3.6 6 4.3 6 5.5 6 8.3 6 12.4 6 16.8 6 20 6 20.7 6 18.6 6 14.4 6 9.5 6 6.1 6 5.1 6 7.1 6 10.7 6 14.4 6 17.2 6 18.9 6 19.2 6 18.4 6 16.6 6 14.5 6 12.8 6 11.9 6 12 6 12.9 6 13.7 6 14.1 6 13.9 6 13.4 6 12.6 6 11.9 6 11.1 6 10.3 6 9.4 6 8.5 6 7.6 6 6.8 6 6 6 5.4 6 4.7 6 4.1 6 3.7 6 3.3 6 3.1 6 2.9 6 2.6 6 2.3 6 1.8 6 1.4 6 .9 6 .7 6 .4 6 .5 6 .3 6 .3 6 .3 6 .2 2.3 0"/>
<path d="M182.5 810.5l6 .2 6-.2 6-.7 6-1.2 6-1.7 6-2.2 6-2.6 6-2.9 6-3.4 6-3.8 6-4.2 6-4.8 6-5.3 6-6.2 6-7.3 6-9.2 6-11.7 6-14.4 6-16.8 6-18.8 6-21 6-23.1 6-24.6 6-25.5 6-26.2 6-26.6 6-25.7 6-23.8 6-21.7 6-19.6 6-18.3 6-17.4 6-16.5 6-15.5 6-14.4 6-13.3 6-11.8 6-10 6-8.3 6-6.9 6-6.3 6-6.5 6-6.6 6-6.4 6-5.4 6-3.8 6-2 6-.2 6 1.2 6 1.6 6 1.2 6 .6 6 .5 6 1.5 6 3.2 6 5 6 6.1 6 6.4 6 6.1 6 5.9 6 6.7 6 8.9 6 12.5 6 16.8 6 21.1 6 24 6 25.1 6 23.9 6 21.4 6 19 6 17.5 6 16.6 6 16.2 6 15.6 6 14.8 6 14.2 6 14.2 6 15 6 16.3 6 17.3 6 17.6 6 16.9 6 15.2 6 12.7 6 10.1 6 7.7 6 5.6 6 4.2 6 3.4 6 3.5 6 3.9 6 4.8 6 5.6 6 6.2 6 6.1 6 5.7 6 4.9 6 3.9 6 3 6 2.1 6 1.5 6 .9 6 .6 6 .5 6 .6 6 .5 6 .6 6 .6 6 .4 6 0 6 0 2.3 0"/>
<path d="M182.5 810.8l6-.6 6-1.1 6-1.6 6-2 6-2.2 6-2.5 6-2.5 6-2.8 6-3.2 6-3.7 6-4.3 6-5 6-5.7 6-6.4 6-7.3 6-8.8 6-11.1 6-13.9 6-17 6-20.2 6-23.5 6-25.4 6-25.7 6-25.2 6-24.6 6-24.1 6-23.7 6-23.5 6-23.3 6-22.8 6-21.6 6-19.7 6-17.4 6-15.4 6-14.1 6-12.9 6-11.4 6-9.4 6-7.1 6-5 6-3.2 6-1.8 6-.7 6-.2 6-.5 6-1.8 6-3.3 6-4.4 6-4.6 6-3.9 6-2.6 6-1.2 6-.1 6 .9 6 2 6 3.8 6 5.8 6 8.3 6 10.4 6 12.1 6 13.2 6 14.4 6 15.8 6 17.2 6 18.7 6 19.2 6 18.3 6 16.2 6 13 6 10.5 6 9.4 6 9.9 6 11.3 6 12.6 6 13.3 6 13.4 6 13.2 6 13.5 6 14.5 6 16.3 6 18 6 19.5 6 19.8 6 19.3 6 17.7 6 15.7 6 13.6 6 11.5 6 9.4 6 7.5 6 5.8 6 4.4 6 3.3 6 2.7 6 2.6 6 2.5 6 2.7 6 2.9 6 3 6 3.1 6 2.9 6 2.7 6 2.3 6 1.9 6 1.6 6 1.2 6 .8 6 .5 6 .2 6 0 6-.3 2.3-.2"/>
<path d="M182.5 810.3l6-.2 6-.6 6-.8 6-1.1 6-1.3 6-1.7 6-2.1 6-2.6 6-3.1 6-3.9 6-5 6-6.1 6-7.2 6-8.2 6-9 6-9.9 6-10.7 6-11.4 6-12.2 6-13 6-14.5 6-17.2 6-20.6 6-24.5 6-29.2 6-34.1 6-37.5 6-38.1 6-35.5 6-29.7 6-21.8 6-13.2 6-5 6 1.1 6 4 6 3.3 6-.1 6-4.6 6-9.2 6-13 6-15.8 6-17.5 6-18.2 6-17.5 6-15.7 6-12.9 6-9.7 6-6.3 6-3.4 6-1.8 6-1.2 6-1.1 6-1.4 6-1.2 6-.2 6 1.8 6 4.8 6 8.3 6 12.3 6 15.8 6 18.9 6 21.2 6 22.4 6 22.5 6 22.2 6 21.4 6 20.8 6 20.2 6 20 6 20.6 6 21.2 6 21.2 6 20.2 6 18.3 6 16 6 13.9 6 12.4 6 11.3 6 10.6 6 9.9 6 9.5 6 9.8 6 10.4 6 11.3 6 12.1 6 12.3 6 12 6 11.1 6 10.3 6 9.3 6 8.3 6 7.7 6 7.1 6 6.2 6 5.4 6 4.5 6 3.7 6 3 6 2.4 6 2 6 1.6 6 1.3 6 1.2 6 .9 6 .7 6 .4 6 .2 6 .1 6 0 6 .1 6 .1 2.3 0"/>
<path d="M182.5 810.4l6-.3 6-.4 6-.3 6-.4 6-.7 6-1.3 6-1.8 6-2.7 6-3.6 6-4.7 6-6 6-7.1 6-8.1 6-8.7 6-8.8 6-8.6 6-8.8 6-9.3 6-10.4 6-12.1 6-14.6 6-18.3 6-22 6-25.9 6-30.2 6-33.6 6-34.7 6-33.3 6-29.6 6-24.9 6-19.9 6-15.8 6-12.4 6-10.3 6-9.8 6-10.6 6-11.5 6-12.1 6-11.5 6-10.1 6-8.2 6-6.3 6-4.6 6-3.9 6-4.3 6-6 6-8.2 6-9.5 6-8.8 6-5.3 6 .2 6 6.9 6 12.9 6 16.9 6 18.3 6 17.3 6 14.9 6 11.9 6 9.5 6 8.2 6 8.1 6 9 6 10.5 6 12.5 6 14.6 6 16.8 6 18.6 6 19.6 6 19.9 6 20.1 6 20.5 6 20.5 6 20 6 18.4 6 16.2 6 13.5 6 11.5 6 10.2 6 9.8 6 9.6 6 9.7 6 9.8 6 10.1 6 10.3 6 10.5 6 10.7 6 10.6 6 10.3 6 9.4 6 8.3 6 7 6 5.7 6 4.6 6 3.8 6 3.3 6 3 6 3.1 6 3.2 6 3.1 6 2.9 6 2.6 6 2 6 .6 6 0 6 0 6 0 6 0 6 0 6-.7 6-.7 6-.8 2.3-.3"/>
<path d="M182.5 810.8l6 .1 6 .2 6 .1 6 0 6-.4 6-.8 6-1.2 6-1.3 6-1.6 6-1.9 6-2.7 6-4 6-5.9 6-7.8 6-9.6 6-10.8 6-11.8 6-12.9 6-14.7 6-17.4 6-21.1 6-25.1 6-27.2 6-26.7 6-24.4 6-21.5 6-18.6 6-16.6 6-16 6-16.7 6-18.4 6-20.5 6-22.3 6-23.3 6-23.5 6-23.1 6-21.5 6-19.1 6-16.1 6-13.6 6-11.9 6-10.6 6-9.4 6-7.2 6-4.4 6-1.7 6 0 6 .8 6 1.3 6 2.1 6 3.5 6 5.4 6 7.1 6 7.9 6 7.8 6 7.1 6 6.3 6 5.9 6 6.4 6 7.7 6 9.9 6 13 6 16.2 6 18.8 6 20.4 6 20.6 6 19.5 6 17.6 6 15.8 6 14.9 6 15.8 6 17.7 6 19.8 6 21 6 20.8 6 19.5 6 17.8 6 16 6 14.6 6 12.9 6 11.2 6 9.6 6 8.6 6 8.2 6 8.5 6 9.1 6 9.9 6 10.4 6 10.8 6 10.5 6 9.8 6 8.7 6 7.3 6 5.7 6 4.3 6 3.2 6 2.4 6 2.1 6 2.1 6 2 6 1.7 6 1.2 6 .5 6 .2 6-.1 6 0 6 .2 6 .3 6 .6 6 .5 6 .5 2.3 .1"/>
<path d="M182.5 810.9l6 .3 6-.1 6-.4 6-.7 6-1 6-1.4 6-1.9 6-2.5 6-3 6-3.9 6-4.6 6-5.4 6-6.3 6-7.2 6-8.2 6-9.6 6-11.2 6-13.2 6-15.1 6-17.3 6-19.9 6-22.4 6-23.8 6-24.1 6-24.5 6-24.7 6-24.5 6-24 6-23 6-21.3 6-19.3 6-17 6-15.1 6-13.9 6-14.1 6-15.3 6-16.5 6-16.8 6-15.7 6-13.8 6-11.1 6-8.2 6-5.3 6-2.3 6 .1 6 1.6 6 2 6 1.3 6 .5 6-.3 6-.6 6-.3 6 .8 6 2.2 6 4.3 6 6.4 6 8.9 6 11.2 6 13 6 14.3 6 15.2 6 15.9 6 16.5 6 17.4 6 18.4 6 19.7 6 20.5 6 20.4 6 19.1 6 17.1 6 14.8 6 12.7 6 11.2 6 10.7 6 11.2 6 12.9 6 15.1 6 17.1 6 18.1 6 17.6 6 15.9 6 13.7 6 11.4 6 9.4 6 7.6 6 6.1 6 5 6 4.1 6 3.9 6 4.3 6 5.2 6 6.2 6 7.1 6 7.5 6 7.3 6 6.4 6 5.5 6 4.3 6 3.2 6 2.4 6 1.6 6 1.1 6 .6 6 .4 6 .1 6 0 6-.1 6-.1 6 0 6 .2 6 .4 2.3 .2"/>
<path d="M182.5 809.3l6 .3 6 .2 6 0 6-.4 6-1.1 6-1.8 6-2.6 6-3.1 6-3.2 6-3.4 6-3.7 6-4.4 6-5.8 6-7.4 6-9.1 6-10.3 6-11.4 6-12.1 6-13.3 6-14.9 6-17 6-19.5 6-21.5 6-22.3 6-22.4 6-23.1 6-23.9 6-24.5 6-24.7 6-24.2 6-22.8 6-20.7 6-17.8 6-14.3 6-11.1 6-8.6 6-6.9 6-5.5 6-4.7 6-5 6-6.5 6-9.3 6-13 6-16.1 6-18 6-18.2 6-16.9 6-14.1 6-10.6 6-6.9 6-3.4 6 .2 6 4.2 6 9.1 6 14.1 6 18.7 6 22.3 6 23.8 6 23.4 6 21.2 6 18.1 6 15.1 6 13.1 6 12.4 6 13.3 6 15.3 6 17.3 6 18.2 6 17.7 6 16.3 6 14.9 6 13.8 6 13.2 6 12.9 6 12.4 6 11.7 6 10.9 6 10.3 6 10.2 6 10.6 6 11.7 6 13.4 6 14.9 6 15.7 6 15.4 6 14.1 6 12.2 6 9.9 6 7.8 6 6.2 6 5.1 6 4.6 6 4.4 6 4.2 6 3.9 6 3.7 6 3.3 6 2.9 6 2.4 6 2.1 6 1.6 6 1.3 6 1 6 .9 6 .9 6 .8 6 .6 6 .5 6 .3 6 .2 6 .1 2.3 0"/>
<path d="M182.5 810.4l6-.2 6-.3 6-.5 6-.8 6-1 6-1.4 6-1.8 6-2.2 6-2.5 6-3 6-3.5 6-4.2 6-4.8 6-5.5 6-6.4 6-7.5 6-9.2 6-11.6 6-14 6-16.6 6-19.7 6-22.5 6-23.9 6-23.4 6-22.4 6-21.3 6-20.4 6-19.8 6-19.6 6-19.6 6-19.6 6-19.5 6-19.5 6-19.3 6-19.5 6-19.5 6-18.6 6-16.4 6-13.1 6-9.2 6-5.5 6-2.1 6 .3 6 1.7 6 1.7 6-.1 6-3.2 6-6 6-7.9 6-8.1 6-7.1 6-4.9 6-1.8 6 2.1 6 6.1 6 9.5 6 11.6 6 12.1 6 11.3 6 10.3 6 9.6 6 9.9 6 10.7 6 12 6 13.5 6 15.1 6 17 6 18.4 6 19.4 6 19.8 6 20 6 19.9 6 19.1 6 17.9 6 16 6 13.8 6 11.8 6 10.2 6 9.6 6 9.6 6 10.6 6 12.3 6 14 6 15.2 6 15.6 6 14.7 6 13.1 6 10.7 6 8.3 6 6.2 6 4.6 6 3.9 6 3.5 6 3.7 6 3.7 6 3.5 6 3.2 6 2.9 6 2.6 6 2.7 6 2.6 6 2.5 6 2.2 6 1.7 6 1.3 6 .8 6 .7 6 .5 6 .6 6 .5 6 .5 2.3 .1"/>
<path d="M182.5 808.6l6-.7 6-.8 6-.8 6-1.2 6-1.7 6-2 6-2.6 6-3.2 6-3.8 6-4.6 6-5.6 6-6.7 6-7.7 6-8.6 6-9.1 6-9.8 6-10.5 6-11.5 6-13.3 6-15.6 6-17.9 6-19.3 6-20.6 6-22.2 6-24.1 6-25.4 6-25.6 6-25.1 6-23.4 6-20.9 6-17.8 6-13.7 6-9.3 6-5.7 6-4 6-4.3 6-6.3 6-9.1 6-11.8 6-14.1 6-15.1 6-15.2 6-14 6-11.6 6-8.2 6-4.6 6-1 6 2 6 3.9 6 4.3 6 3.4 6 1.4 6-.6 6-2.1 6-2.3 6-1.1 6 1.7 6 5.7 6 10.2 6 14.7 6 18.4 6 21 6 22.5 6 22.4 6 21.5 6 20 6 18.4 6 17.1 6 16 6 15.4 6 15 6 14.8 6 14.1 6 12.9 6 11.4 6 9.8 6 8.8 6 8.4 6 8.9 6 9.7 6 10.8 6 11.7 6 12.6 6 13.2 6 13.3 6 12.8 6 11.7 6 10.3 6 8.4 6 6.7 6 5.4 6 4.3 6 3.6 6 3.3 6 3.3 6 3.3 6 3.4 6 3.3 6 3.3 6 3.2 6 3.1 6 2.8 6 2.5 6 2.1 6 1.5 6 1 6 .7 6 .4 6 .2 6 .2 6 .4 2.3 .1"/>
<path d="M182.5 811.5l6 0 6-.3 6-.9 6-1.3 6-1.9 6-2.3 6-2.6 6-2.6 6-2.7 6-2.8 6-3.3 6-4.3 6-5.8 6-7.6 6-9.6 6-11.4 6-13 6-14.2 6-15.1 6-16 6-17.5 6-19.6 6-21.2 6-21.4 6-20.5 6-19.9 6-19.6 6-20 6-21.8 6-24.8 6-28.3 6-31.1 6-31.7 6-29.2 6-24.5 6-18.9 6-13 6-7.9 6-4.1 6-2 6-1.8 6-3.2 6-4.8 6-5.5 6-4.6 6-2.4 6 .7 6 4.2 6 7.2 6 9.1 6 9.1 6 7.2 6 3.8 6-.2 6-3.7 6-5.9 6-6.4 6-5.3 6-2.8 6 1.1 6 6.1 6 11.9 6 17.8 6 22.4 6 25.3 6 26.2 6 24.9 6 22.5 6 19.8 6 18.2 6 18.4 6 19.6 6 21 6 21.8 6 21.1 6 19 6 16.1 6 12.9 6 10.3 6 8.6 6 8.2 6 8.7 6 9.3 6 9.9 6 10.1 6 10.3 6 10.4 6 10.5 6 10.4 6 9.5 6 8.5 6 7 6 5.8 6 4.6 6 3.7 6 3.1 6 3 6 2.9 6 3 6 3.2 6 3.1 6 2.9 6 2.5 6 2.2 6 1.7 6 .6 6 0 6 0 6 0 6 0 6 0 2.3 0"/>
<path d="M182.5 809.4l6-.1 6-.2 6-.2 6-.5 6-.8 6-1.1 6-1.6 6-2 6-2.4 6-2.8 6-3.4 6-4.2 6-5.1 6-6.4 6-7.6 6-8.7 6-9.7 6-10.7 6-11.5 6-12.6 6-14.6 6-17.5 6-20.1 6-21.7 6-23.1 6-24 6-24.1 6-24 6-24.4 6-25.5 6-27.4 6-29.1 6-29.5 6-28.3 6-25.4 6-21.3 6-16 6-10.7 6-6.1 6-3.2 6-2.1 6-2.1 6-2.7 6-3.2 6-4.4 6-6.2 6-8.6 6-10.8 6-11.9 6-11.7 6-10.2 6-7.6 6-3.9 6 .5 6 5.5 6 10.3 6 14.9 6 18.3 6 20.8 6 21.7 6 21.2 6 19.4 6 16.7 6 14.2 6 13 6 13.2 6 14.3 6 15.9 6 17.9 6 20.3 6 22.8 6 24.6 6 25.4 6 24.9 6 23 6 20.3 6 17.4 6 14.5 6 12.3 6 11.3 6 11.1 6 11.8 6 12.4 6 12.3 6 11.3 6 9.6 6 7.4 6 5.5 6 4.2 6 3.7 6 3.8 6 4.5 6 5.4 6 5.9 6 5.9 6 5.5 6 4.4 6 3.2 6 2.2 6 1.4 6 1.2 6 1.1 6 1.2 6 1 6 .9 6 .5 6 .2 6 .1 6 0 6-.1 6 0 2.3 0"/>
<path d="M182.5 808.8l6-.6 6-.9 6-1.1 6-1.4 6-1.6 6-1.9 6-2.3 6-2.6 6-3 6-3.3 6-3.5 6-3.4 6-3.6 6-3.9 6-4.8 6-6.3 6-8.5 6-11.3 6-13.9 6-16.6 6-19.7 6-22.7 6-25 6-27 6-29.2 6-31 6-32.3 6-32.6 6-31.8 6-29.2 6-24.6 6-18.2 6-10.5 6-4 6-.2 6 .1 6-2.1 6-5.1 6-7.3 6-7.5 6-6.1 6-4 6-2.5 6-2.4 6-4.2 6-7.4 6-10.3 6-11.8 6-11.4 6-9.1 6-5.5 6-1.2 6 3.4 6 7.6 6 11.2 6 13.5 6 14.3 6 13.3 6 11.2 6 8.7 6 6.7 6 5.8 6 6.2 6 8.3 6 11.9 6 16.2 6 20 6 22.2 6 22.2 6 20.6 6 18.4 6 16 6 13.7 6 12.5 6 12 6 12.5 6 13.7 6 15.2 6 16.3 6 16.8 6 16.6 6 15.9 6 14.7 6 13.3 6 11.7 6 10.2 6 8.9 6 7.8 6 6.5 6 5.4 6 4.3 6 3.5 6 3 6 2.7 6 2.7 6 3 6 3.3 6 3.9 6 4.4 6 4.5 6 4.3 6 3.7 6 2.8 6 1.9 6 1.2 6 .5 6 .2 6 0 6 0 6 .1 6 .3 2.3 .1"/>
<path d="M182.5 808.4l6-.5 6-.6 6-.9 6-1 6-1 6-1.1 6-1.3 6-1.4 6-1.6 6-1.7 6-2.2 6-2.9 6-4 6-5.2 6-6.5 6-7.6 6-8.5 6-9.7 6-11.3 6-13.5 6-16.2 6-19.7 6-23.2 6-25.2 6-25.5 6-25.3 6-25.1 6-24.6 6-24 6-23.7 6-23.4 6-23.1 6-22.7 6-21.4 6-20 6-18.5 6-17.2 6-15.3 6-13 6-10.5 6-8.4 6-7.3 6-7.5 6-8.9 6-11 6-13.2 6-14.4 6-13.7 6-10.4 6-5.5 6-.6 6 3.3 6 4.8 6 4.7 6 3.4 6 2.6 6 3.1 6 5 6 8 6 11.7 6 15.5 6 19.3 6 22.5 6 24.8 6 26.3 6 26.9 6 26.6 6 25.3 6 23.8 6 22.4 6 21 6 19.2 6 17.5 6 16.3 6 15.8 6 16.2 6 17 6 17.5 6 17.2 6 16.1 6 14.4 6 12.7 6 11.4 6 10.4 6 10.2 6 10 6 9.8 6 9.2 6 8.7 6 8.1 6 7.4 6 6.7 6 5.5 6 4.2 6 3 6 2.1 6 1.6 6 1.7 6 1.9 6 1.8 6 1.8 6 1.5 6 1.2 6 .8 6 .6 6 .5 6 .4 6 .4 6 .3 6 .3 6 .1 2.3 0"/>
<path d="M182.5 810.5l6-.7 6-1 6-1.5 6-1.9 6-2.3 6-2.4 6-2.1 6-1.5 6-1 6-.8 6-.9 6-1.7 6-2.9 6-4.7 6-6.6 6-9.2 6-11.9 6-15.1 6-17.6 6-19.5 6-21 6-21.2 6-20.1 6-19.2 6-19.4 6-20.4 6-22 6-23.5 6-24.6 6-24.9 6-24.6 6-23.2 6-20.8 6-17.6 6-14.3 6-10.9 6-7.4 6-4.4 6-2.8 6-3.3 6-5.7 6-8.9 6-11.6 6-12.9 6-12.6 6-11.2 6-9.7 6-8 6-6.6 6-5.1 6-3.5 6-1.8 6 .1 6 2 6 3.6 6 5.5 6 7.9 6 10.7 6 13.9 6 17.2 6 19.5 6 21 6 21 6 20.2 6 19.6 6 18.9 6 18.4 6 17.3 6 15.6 6 13.9 6 13.1 6 13.2 6 13.4 6 13.8 6 13.7 6 13 6 12.3 6 11.9 6 12.1 6 12.4 6 13.2 6 14 6 14.5 6 14.4 6 13.5 6 12.2 6 10.7 6 9.2 6 8.1 6 7.5 6 7 6 6.6 6 6.1 6 5.4 6 4.5 6 3.6 6 3 6 2.7 6 2.6 6 2.5 6 2.4 6 2.2 6 1.8 6 1.5 6 1.2 6 .9 6 .6 6 .4 6 .1 6 0 6-.2 2.3-.1"/>
<path d="M182.5 809.4l6-.4 6-.8 6-1.1 6-1.4 6-1.6 6-1.9 6-2 6-2.2 6-2.4 6-2.9 6-3.6 6-4.5 6-5.3 6-6 6-6.7 6-7.3 6-8.2 6-9.9 6-11.9 6-14.4 6-17.5 6-21 6-23.5 6-24.8 6-25.5 6-25.8 6-25.1 6-24 6-22.8 6-21.8 6-21.3 6-21 6-20.1 6-18.2 6-15.7 6-12.9 6-10 6-7.7 6-6.5 6-7.1 6-9.7 6-13.2 6-16.3 6-17.4 6-16.3 6-13.1 6-8.5 6-3 6 2.6 6 7.6 6 11.3 6 13 6 12.7 6 10.9 6 8.5 6 6.3 6 4.9 6 4.5 6 5 6 6.1 6 7.5 6 8.9 6 10.5 6 12.2 6 14.6 6 17.4 6 20 6 21.5 6 21.2 6 19.9 6 18.3 6 17.1 6 16.4 6 16 6 15.6 6 14.8 6 13.7 6 12.8 6 12.2 6 12.2 6 12.5 6 13.3 6 13.9 6 14.3 6 13.9 6 13.1 6 12 6 10.9 6 9.7 6 8.9 6 7.9 6 7 6 5.8 6 4.6 6 3.2 6 2.1 6 1.4 6 1.1 6 1.1 6 1.2 6 1.5 6 1.5 6 1.5 6 1.4 6 1.1 6 .9 6 .5 6 .2 6 .1 6 0 6 0 2.3 0"/>
<path d="M182.5 809.2l6 .1 6 0 6-.3 6-.4 6-.8 6-1.1 6-1.6 6-2.5 6-3.1 6-3.5 6-3.7 6-3.9 6-3.9 6-4.3 6-5 6-6.3 6-8.3 6-11.5 6-15.4 6-19.4 6-23 6-26.2 6-28.4 6-28.8 6-27.4 6-26 6-24.5 6-22.7 6-20.7 6-19.5 6-18.9 6-19.5 6-20 6-19.7 6-18.2 6-16.1 6-13.5 6-10.7 6-7.8 6-5.4 6-4 6-3.8 6-4.9 6-6.2 6-7.3 6-7.5 6-6.6 6-4.6 6-2.4 6-.9 6-.5 6-.7 6-1.2 6-1.1 6 .4 6 3.2 6 7.3 6 11.8 6 16.1 6 19.3 6 21.3 6 22.1 6 21.7 6 21 6 20.5 6 20.2 6 20 6 19.1 6 18.1 6 17.1 6 16.2 6 15.7 6 15.5 6 15.5 6 15.7 6 15.6 6 15.5 6 15.1 6 14.6 6 14.1 6 13.5 6 12.7 6 11.9 6 11 6 9.7 6 8.6 6 7.5 6 6.6 6 6.1 6 5.8 6 5.7 6 5.2 6 4.5 6 3.8 6 3.2 6 2.8 6 2.5 6 2.3 6 2.1 6 1.8 6 1.4 6 1.2 6 .9 6 .5 6 .1 6 0 6-.2 6-.2 6-.2 6-.1 6-.1 2.3 0"/>
<path d="M182.5 810.4l6-.3 6-.6 6-.6 6-.8 6-.8 6-.9 6-1.1 6-1.4 6-1.7 6-2.2 6-2.9 6-3.8 6-5 6-6.3 6-7.7 6-8.9 6-10.3 6-12 6-14.1 6-16.2 6-19.1 6-22.3 6-24.7 6-25.4 6-25.5 6-25.7 6-25.8 6-25.3 6-24.8 6-23.6 6-21.7 6-19.5 6-16.6 6-14.2 6-12.7 6-12.2 6-11.9 6-11.2 6-10.3 6-10 6-10.7 6-12.2 6-14.1 6-14.8 6-14.6 6-13.2 6-11.3 6-9 6-6.7 6-4.1 6-1.3 6 2.2 6 5.7 6 8.9 6 11.1 6 12.2 6 12.3 6 12.4 6 12.7 6 13.7 6 15.1 6 16.7 6 18.3 6 19.9 6 21.4 6 21.8 6 21.2 6 19.5 6 17.7 6 16.9 6 16.8 6 16.7 6 16.6 6 16.2 6 15.6 6 15.8 6 16.7 6 17.9 6 18.9 6 18.9 6 17.6 6 15.3 6 12.2 6 9.3 6 7.2 6 5.9 6 5.1 6 4.7 6 4.4 6 4.1 6 4.3 6 4.6 6 5.4 6 5.9 6 6.5 6 6.6 6 6.2 6 5.5 6 4.5 6 3.3 6 2.3 6 1.5 6 .8 6 .2 6-.1 6-.3 6-.4 6-.5 6-.6 6-.6 6-.5 2.3-.2"/>
<path d="M182.5 810.7l6-.7 6-.9 6-1 6-.9 6-.8 6-.7 6-.6 6-.9 6-1.4 6-2.1 6-3.1 6-4.2 6-5.2 6-5.8 6-6.3 6-6.5 6-6.8 6-7.5 6-9.2 6-11.5 6-14.8 6-18.6 6-23 6-26.7 6-28.2 6-27.9 6-27.1 6-25.8 6-24.6 6-23.9 6-23.4 6-22.2 6-19.6 6-15.4 6-10.9 6-8 6-7.9 6-9.6 6-12 6-13.3 6-13.1 6-11.6 6-9.3 6-7.2 6-5.9 6-5.9 6-7.6 6-10.2 6-12.3 6-13.1 6-12.1 6-9 6-4.8 6-.1 6 4 6 7.3 6 10.1 6 12.5 6 15.1 6 18 6 20.9 6 23.2 6 24.6 6 25.2 6 25.3 6 25.3 6 25 6 24.1 6 22.7 6 21.4 6 20.2 6 18.7 6 16.6 6 14.3 6 12.2 6 11 6 11.1 6 11.9 6 12.9 6 13.3 6 12.6 6 11.6 6 10.4 6 9.6 6 9.5 6 9.4 6 9.1 6 8.4 6 7.2 6 6.1 6 5.3 6 4.6 6 4.2 6 3.8 6 3.5 6 3.1 6 2.7 6 2.2 6 1.9 6 1.5 6 1.2 6 1.2 6 1.1 6 .8 6 .7 6 .6 6 .3 6 .3 6 .1 6 .1 6-.1 2.3 0"/>
<path d="M182.5 808.6l6 .3 6 .3 6 .1 6 0 6-.3 6-.7 6-1.1 6-1.6 6-1.9 6-2.3 6-2.7 6-3.5 6-4.5 6-5.9 6-7.7 6-9.2 6-10.6 6-11.7 6-12.9 6-14.1 6-15.3 6-17.4 6-20.3 6-22.5 6-23.7 6-24.2 6-24.7 6-24.7 6-24.7 6-25.2 6-25.9 6-26.6 6-26.2 6-24.4 6-21.3 6-18.1 6-15.2 6-12.5 6-9.7 6-7.4 6-5.6 6-5.2 6-5.9 6-7.1 6-8.1 6-8.3 6-7.1 6-4.2 6-.2 6 4.5 6 8 6 10 6 10 6 8.2 6 5.9 6 3.8 6 2.9 6 3.7 6 6.2 6 10.2 6 15.1 6 20.1 6 23.9 6 25.7 6 25.6 6 23.8 6 20.5 6 16.5 6 12.6 6 9.8 6 8.6 6 8.5 6 8.9 6 9.3 6 9.4 6 9.5 6 10.2 6 11.6 6 13.4 6 15.5 6 16.9 6 17.8 6 17.7 6 17 6 15.8 6 14.3 6 12.9 6 11.2 6 9.4 6 7.5 6 5.7 6 4.1 6 2.8 6 1.9 6 1.6 6 1.7 6 2.1 6 2.5 6 2.8 6 2.8 6 2.5 6 2.1 6 1.6 6 1.2 6 .8 6 .4 6 .2 6 .1 6 .2 6 .2 6 .2 2.3 .1"/>
<path d="M182.5 808.1l6-1 6-1 6-.9 6-.9 6-1.1 6-1.2 6-1.5 6-1.8 6-2.3 6-2.7 6-3.4 6-4.1 6-5.1 6-6.2 6-7.7 6-9.7 6-12.1 6-14.8 6-17 6-18.9 6-20.5 6-21.4 6-20.7 6-19.5 6-18.5 6-17.3 6-16.4 6-15.9 6-16.1 6-16.8 6-17.4 6-17.3 6-16.4 6-15.1 6-15.2 6-16.8 6-19.7 6-23 6-25.5 6-26 6-24.2 6-20.5 6-15.3 6-9.8 6-4.5 6-.4 6 2.3 6 3.6 6 3.8 6 3 6 1.9 6 1.3 6 1.3 6 2.1 6 3.1 6 4.1 6 4.5 6 4.6 6 5.1 6 6.7 6 9.9 6 14.7 6 20.5 6 25.4 6 28.4 6 28.4 6 25.4 6 20 6 14 6 9.3 6 7.7 6 9.6 6 13.9 6 18.4 6 21.9 6 23.2 6 22.5 6 20.4 6 18.2 6 16 6 14.2 6 12.5 6 11.3 6 10.1 6 9.3 6 8.7 6 8.2 6 7.9 6 7.5 6 7.2 6 6.8 6 6.2 6 5.4 6 4.7 6 3.9 6 3.2 6 2.6 6 2.1 6 1.9 6 1.9 6 1.9 6 2 6 1.9 6 1.8 6 1.6 6 1.3 6 1 6 .6 6 .2 6 0 6-.1 2.3 0"/>
<path d="M182.5 808.4l6 .3 6 .3 6 .1 6-.1 6-.4 6-.8 6-1.3 6-1.8 6-2.3 6-3.2 6-4.2 6-5.6 6-7.5 6-9.3 6-10.9 6-11.8 6-12.1 6-11.8 6-11.8 6-12.5 6-14.6 6-17.8 6-21.1 6-23.2 6-24.7 6-25.3 6-24.7 6-22.4 6-19.3 6-16.6 6-14.8 6-15.1 6-16.6 6-18.9 6-21.1 6-21.9 6-20.1 6-15.5 6-9.8 6-4.8 6-2.3 6-2.6 6-4.8 6-7.4 6-9.1 6-9.9 6-9.5 6-8.2 6-6.1 6-3.4 6-.6 6 1.9 6 3.5 6 4.1 6 3.9 6 4.1 6 5.1 6 6.8 6 9.1 6 11 6 12.8 6 14.4 6 16.2 6 18.7 6 21.3 6 23.4 6 23.7 6 22.1 6 19 6 15.9 6 13.6 6 12.2 6 11.9 6 12.6 6 13.9 6 15.8 6 17.7 6 19.4 6 20 6 19.6 6 18.3 6 16.3 6 14 6 11.9 6 10.1 6 8.9 6 8 6 6.8 6 5.5 6 4.3 6 3.3 6 2.7 6 2.8 6 2.9 6 3.3 6 3.5 6 3.6 6 3.5 6 3.3 6 3 6 2.6 6 2.1 6 1.6 6 1 6 .6 6 .1 6-.1 6-.1 6-.2 6 0 6 .1 2.3 0"/>
<path d="M182.5 808l6-.5 6-.6 6-.8 6-1 6-1.1 6-1.5 6-2 6-2.6 6-3.4 6-4 6-4.4 6-4.2 6-3.6 6-2.6 6-1.8 6-1.2 6-1.5 6-3.6 6-7.2 6-11.7 6-16.6 6-21.7 6-26.5 6-29.8 6-30.7 6-30 6-29 6-27.8 6-26.7 6-25.9 6-25.5 6-25.2 6-24.8 6-23.8 6-22.5 6-21.5 6-20.8 6-19.2 6-16.4 6-12.5 6-8.3 6-4.8 6-2.2 6-.9 6-.3 6-1.1 6-2.9 6-5 6-6 6-5.2 6-2.5 6 1.1 6 4.4 6 6.5 6 7.5 6 8.2 6 9.1 6 10.6 6 12.1 6 13.3 6 14.1 6 14.9 6 16.2 6 18.4 6 21.3 6 23.4 6 23.8 6 21.8 6 18.2 6 14.9 6 13.1 6 12.8 6 13.7 6 15.3 6 16.5 6 17.1 6 16.9 6 16.4 6 15.5 6 14.9 6 14.5 6 14.5 6 14.4 6 14.2 6 13.6 6 12.6 6 11.2 6 9.4 6 7.6 6 6 6 5.2 6 4.9 6 4.8 6 5 6 5 6 4.7 6 4 6 3.3 6 2.5 6 1.9 6 1.4 6 1.2 6 1.1 6 .8 6 .6 6 .4 6 .2 6 0 6 0 6 0 6 0 2.3-.1"/>
<path d="M182.5 809.4l6 .3 6 .2 6 0 6-.6 6-1.1 6-2 6-2.7 6-3.4 6-3.7 6-3.8 6-3.7 6-3.6 6-3.8 6-4.2 6-5.3 6-6.7 6-8.4 6-10.7 6-12.7 6-14.7 6-16.5 6-19.2 6-21.9 6-23.5 6-23.9 6-23.9 6-23.2 6-22.2 6-21.4 6-21.6 6-21.9 6-21.9 6-20.7 6-18.1 6-15.4 6-13.7 6-13.2 6-13.5 6-13.9 6-13.8 6-13.3 6-12.2 6-11.1 6-9.7 6-8.6 6-7.9 6-7.4 6-7 6-6.2 6-5.3 6-3.9 6-1.9 6 1 6 4.6 6 8.4 6 11.5 6 13.7 6 14.3 6 14.3 6 14.1 6 14.8 6 16.4 6 18.8 6 21.2 6 23 6 23.8 6 22.7 6 19.9 6 15.9 6 11.9 6 9.1 6 7.9 6 8.3 6 9.6 6 11.6 6 13.5 6 15.2 6 16.5 6 17 6 16.8 6 16.1 6 14.8 6 13.6 6 12.8 6 12.6 6 12.7 6 13 6 12.5 6 11.5 6 9.6 6 7.5 6 5.7 6 4.1 6 2.8 6 2.1 6 1.5 6 1.5 6 1.6 6 1.8 6 1.9 6 1.9 6 1.9 6 1.9 6 1.7 6 1.7 6 1.4 6 1.3 6 1.1 6 .9 6 .7 6 .5 2.3 .1"/>
<path d="M182.5 810.3l6-.7 6-.5 6-.6 6-.8 6-1.1 6-1.7 6-2.3 6-2.9 6-3.2 6-3.6 6-3.9 6-4.7 6-5.7 6-7.1 6-8.7 6-9.9 6-10.7 6-10.7 6-10.4 6-10.6 6-12 6-13.9 6-15.9 6-18.5 6-21.5 6-24 6-25.4 6-25.8 6-25.3 6-24.3 6-23.1 6-21.3 6-19.1 6-17.2 6-16.4 6-16.9 6-18.5 6-20.5 6-21.7 6-21.3 6-18.6 6-13.8 6-7.9 6-1.8 6 2.8 6 5.1 6 5.8 6 5.6 6 5.2 6 5 6 4.3 6 3 6 1.1 6-.9 6-2.3 6-2.1 6 0 6 4.2 6 9.9 6 16.2 6 22 6 26.2 6 28.3 6 28.2 6 26.5 6 23.5 6 19.8 6 15.2 6 10.7 6 6.9 6 5 6 5.3 6 7.2 6 9.8 6 12.6 6 14.5 6 15.3 6 15.1 6 14.3 6 13.3 6 12.5 6 12.4 6 12.9 6 13.4 6 13.6 6 13.3 6 12.2 6 11 6 9.4 6 8.1 6 6.9 6 5.8 6 4.9 6 4 6 3.4 6 2.7 6 2.2 6 2 6 1.8 6 1.7 6 1.5 6 1.3 6 1.1 6 .7 6 .6 6 .4 6 .2 6 .1 6 0 6 0 6 0 2.3-.1"/>
<path d="M182.5 807l6 .2 6 0 6 0 6-.2 6-.5 6-.8 6-1.4 6-2.1 6-2.8 6-4 6-5.2 6-6.6 6-7.8 6-8.8 6-9.2 6-9.3 6-9.6 6-10.2 6-11.5 6-13 6-15.3 6-17.5 6-19.2 6-20.3 6-22.1 6-24.5 6-26.3 6-27.4 6-27.6 6-26.6 6-25.4 6-23.6 6-21.3 6-18.4 6-15.1 6-11.7 6-8.4 6-6.1 6-5.4 6-6.3 6-8.1 6-9.5 6-9.6 6-8.5 6-7.2 6-6.9 6-7.9 6-8.7 6-8.1 6-5.3 6-.7 6 4.5 6 8.8 6 11.6 6 12.7 6 13 6 13.6 6 14.6 6 15.9 6 17.1 6 17.6 6 17.5 6 16.8 6 15.8 6 15.2 6 14.9 6 14.9 6 14.7 6 14 6 13.2 6 12.5 6 11.8 6 11.3 6 10.7 6 10.1 6 9.8 6 10.1 6 11.3 6 13.5 6 15.9 6 17.7 6 18.3 6 17.2 6 14.7 6 12 6 9.8 6 8.7 6 8.6 6 8.9 6 8.9 6 8.2 6 7.1 6 5.7 6 4.4 6 3.3 6 2.5 6 2 6 1.8 6 1.8 6 1.7 6 1.8 6 1.7 6 1.5 6 1.4 6 1 6 .6 6 .4 6 .3 6 .4 6 .4 6 .2 2.3 0"/>
<path d="M182.5 809.2l6 .2 6-.1 6-.5 6-1 6-1.4 6-1.8 6-2.1 6-2.1 6-2.1 6-2.1 6-2.2 6-3 6-4.1 6-5.7 6-7.5 6-9.2 6-10.7 6-12.3 6-14 6-15.7 6-17.2 6-18.6 6-19.6 6-18.9 6-17.6 6-16.9 6-17.2 6-18.2 6-19.9 6-22.3 6-24.7 6-26.8 6-27.7 6-26.5 6-24.1 6-21.4 6-19.2 6-17.5 6-16.1 6-14.4 6-12.5 6-10 6-7.3 6-4.2 6-1.4 6 .2 6 .3 6-1 6-2.5 6-3.6 6-3.7 6-3.1 6-1.8 6 0 6 2.1 6 5 6 8.9 6 13.3 6 17.6 6 21 6 22.8 6 23 6 21.9 6 20.1 6 18.3 6 16.8 6 15.4 6 13.7 6 12.1 6 11.1 6 11.3 6 12.2 6 13.2 6 13.9 6 14.2 6 14.1 6 14.6 6 15.2 6 15.9 6 16.2 6 15.9 6 14.8 6 13.2 6 11.2 6 9.4 6 8 6 7.2 6 7.2 6 7.9 6 8.5 6 9 6 9.3 6 9 6 8.1 6 6.5 6 5.1 6 3.9 6 3 6 2.5 6 2.1 6 1.7 6 1.5 6 1.2 6 1.1 6 .9 6 .7 6 .6 6 .4 6 .2 6 .2 6 .1 2.3 0"/>
<path d="M182.5 809.6l6 .2 6 0 6-.3 6-.5 6-.8 6-1.1 6-1.5 6-1.8 6-2.2 6-2.7 6-3.6 6-4.8 6-6 6-7.2 6-8 6-8.3 6-8.3 6-8.4 6-9.1 6-10.4 6-12.5 6-15.8 6-19.7 6-22.6 6-24.4 6-25.8 6-26.4 6-26 6-24.6 6-22.9 6-21.4 6-20.2 6-19.3 6-18.3 6-17.7 6-17.6 6-17.5 6-16.8 6-15.2 6-13.1 6-11.1 6-9.5 6-8.3 6-7 6-5.5 6-4.2 6-3.4 6-3.2 6-3.4 6-3.4 6-3.1 6-2.1 6-.2 6 2.2 6 4.7 6 7.3 6 9.8 6 12.3 6 14.8 6 16.9 6 18.1 6 18 6 16.9 6 15.3 6 14.2 6 14.1 6 14.5 6 15.7 6 17.1 6 18.9 6 20.8 6 21.5 6 21 6 19.3 6 16.8 6 14.6 6 13.6 6 13.4 6 14.1 6 15 6 15.8 6 16 6 15.4 6 13.7 6 11.6 6 9.3 6 7.5 6 6.1 6 5.4 6 5 6 4.7 6 4.2 6 3.8 6 3.3 6 3.1 6 3.2 6 3.3 6 3.3 6 2.8 6 2.3 6 1.6 6 1 6 .8 6 .7 6 .5 6 .4 6 .3 6 .2 6 0 6 0 6 0 2.3 .1"/>
<path d="M182.5 807.6l6-.6 6-.8 6-.9 6-1 6-.9 6-.8 6-.6 6-.2 6-.1 6-.3 6-1.1 6-2.5 6-4.6 6-7.2 6-9.7 6-12.1 6-14.2 6-15.7 6-16.8 6-17.7 6-19.2 6-20.8 6-21.2 6-20.4 6-19.6 6-19.3 6-19.2 6-19.7 6-21 6-22.1 6-23 6-22.9 6-21 6-17.8 6-14.1 6-10.9 6-8.9 6-8.4 6-9.5 6-11.7 6-13.6 6-14.1 6-12.4 6-8.8 6-4.5 6-1.5 6-.5 6-1.7 6-4 6-6.9 6-9.5 6-11 6-10.4 6-6.9 6-.6 6 8.3 6 17.5 6 24.8 6 28.5 6 28 6 24.2 6 18.9 6 13.7 6 9.6 6 7.3 6 6.8 6 7.3 6 8.7 6 10.5 6 12.8 6 15.4 6 17.6 6 18.9 6 18.9 6 17.8 6 16.3 6 14.7 6 13.9 6 13.5 6 13.4 6 13.4 6 13.3 6 13.3 6 13.1 6 12.8 6 12.5 6 12.1 6 11.6 6 10.9 6 9.9 6 9 6 7.9 6 7 6 6 6 4.7 6 3.6 6 2.7 6 2.2 6 2 6 2.1 6 2.1 6 2.1 6 1.8 6 1.4 6 .9 6 .5 6 0 6-.1 6-.1 6-.1 6 0 2.3 0"/>
<path d="M182.5 807.7l6-.3 6-.4 6-.6 6-.8 6-.8 6-1 6-1.2 6-1.6 6-1.9 6-2.2 6-2.7 6-3.4 6-4.4 6-6.4 6-9.1 6-12 6-14.7 6-16 6-15.7 6-13.9 6-12.1 6-11.7 6-13.5 6-16.8 6-21.6 6-27.1 6-31.9 6-34.2 6-34.3 6-32.6 6-29.5 6-25.7 6-20.7 6-14.8 6-9 6-4.6 6-2.5 6-2.6 6-4.5 6-7.7 6-10.6 6-12.7 6-12.6 6-10.2 6-5.9 6-1.7 6 1 6 1.4 6-.2 6-2.8 6-5.3 6-6.7 6-6.5 6-4.7 6-1.3 6 3.1 6 7.7 6 11.2 6 13.2 6 13.1 6 12.1 6 11.1 6 11.4 6 13.5 6 17.1 6 21.2 6 24.4 6 25.7 6 24.7 6 22.6 6 20.4 6 18.3 6 16.3 6 14.3 6 12 6 10 6 8.5 6 7.8 6 8.2 6 9 6 10.2 6 11.2 6 12 6 12.4 6 12.5 6 12.5 6 12.4 6 12.3 6 12.4 6 11.7 6 10.8 6 9.6 6 8.3 6 7.1 6 5.7 6 4.7 6 3.8 6 3.1 6 2.6 6 2.3 6 2.1 6 2.1 6 1.9 6 1.8 6 1.5 6 1.2 6 .9 6 .6 6 .5 6 .2 6 0 2.3-.1"/>
<path d="M182.5 810.1l6-.1 6-.4 6-.7 6-.8 6-1 6-.9 6-.8 6-1.1 6-1.5 6-2.4 6-3.4 6-4.4 6-5.2 6-5.5 6-5.6 6-5.5 6-5.5 6-6.2 6-7.7 6-10.2 6-12.9 6-16.1 6-19.7 6-23.6 6-26.2 6-28.1 6-30.2 6-32.2 6-33.6 6-34 6-33.4 6-31.3 6-27.9 6-23.2 6-18.3 6-14.6 6-13.1 6-13.3 6-13.9 6-14.4 6-14 6-12.7 6-10.5 6-7.5 6-3.7 6-.3 6 2.1 6 2.9 6 2.6 6 1.8 6 1.3 6 1.7 6 3.9 6 7.4 6 11.4 6 14.9 6 17.2 6 17.5 6 16.2 6 14.1 6 12.3 6 11.6 6 12.2 6 14.2 6 16.7 6 18.4 6 18.3 6 16.3 6 13.8 6 13.1 6 14.8 6 18 6 21.7 6 24 6 24.3 6 23.1 6 21.2 6 18.9 6 17 6 15.4 6 13.8 6 12.1 6 10.3 6 8.2 6 6.3 6 4.6 6 3.6 6 3.4 6 3.6 6 4.2 6 4.7 6 4.8 6 4.5 6 4.1 6 3.8 6 3.6 6 3.5 6 3.4 6 3.2 6 3 6 2.6 6 2.3 6 1.8 6 1.2 6 .8 6 .3 6 0 6-.2 6-.4 6-.5 6-.7 2.3-.2"/>
<path d="M182.5 809.8l6-.5 6-.4 6-.4 6-.6 6-1 6-1.7 6-2.6 6-3.5 6-4.7 6-5.6 6-6.3 6-6.7 6-6.9 6-7 6-7.7 6-8.9 6-11 6-13.2 6-15.1 6-17 6-18.9 6-20.4 6-21.5 6-22.3 6-23.4 6-23.8 6-23 6-21.3 6-19.2 6-17 6-15.2 6-13.8 6-12.6 6-12.3 6-13.4 6-16.1 6-18.6 6-20 6-18.8 6-15.5 6-10.9 6-6.7 6-4.2 6-3.9 6-5.2 6-6.9 6-7.4 6-6.1 6-2.9 6 1.1 6 4.5 6 6.6 6 7.3 6 7.2 6 7.1 6 7.2 6 7.9 6 8.8 6 10 6 11.4 6 12.4 6 13.4 6 13.9 6 14.2 6 14.1 6 14.4 6 14.6 6 14.6 6 14.1 6 13 6 12.1 6 11.7 6 12 6 12.4 6 13 6 13.1 6 13.2 6 13.4 6 14 6 14.8 6 15.7 6 16.4 6 16.8 6 16.4 6 15.4 6 13.6 6 11.3 6 8.9 6 7.1 6 5.9 6 5.6 6 6 6 6.6 6 7.3 6 7.6 6 7.3 6 6.4 6 5.2 6 3.7 6 2.5 6 1.3 6 .7 6 .2 6 0 6 .1 6 .3 6 .5 6 .8 6 .9 6 1.1 6 1.3 2.3 .4"/>
<path d="M182.5 809.7l6 .4 6 .3 6 .2 6-.1 6-.4 6-.4 6-.3 6-.2 6-.1 6-.8 6-1.7 6-3.1 6-4.5 6-5.9 6-7 6-8 6-8.9 6-9.8 6-10.8 6-12.3 6-14.5 6-17.1 6-20.4 6-24.7 6-28.3 6-29.3 6-28.3 6-26.5 6-24.1 6-22.1 6-21.5 6-22.3 6-23.8 6-24.8 6-24.5 6-23.4 6-22.4 6-21.1 6-19.3 6-16.3 6-12.4 6-8.1 6-4.3 6-1.2 6 1 6 1.9 6 1.5 6 .5 6-.9 6-1.8 6-2.5 6-2.5 6-2.3 6-1.8 6-1 6 .3 6 2.9 6 7 6 12.5 6 18.8 6 24.7 6 28.6 6 29.6 6 27.7 6 23.5 6 18.1 6 12.8 6 9.6 6 9.5 6 12.2 6 15.7 6 18.5 6 19.5 6 18.6 6 16.8 6 14.9 6 13.3 6 12.6 6 12.9 6 14 6 15.3 6 16.2 6 16.2 6 15.3 6 13.5 6 11.2 6 8.7 6 6.7 6 5.5 6 5.1 6 5 6 5.6 6 6 6 6.2 6 5.7 6 5 6 4 6 3 6 2.4 6 1.9 6 1.6 6 1.4 6 1.1 6 1 6 .7 6 .5 6 .4 6 .2 6 .2 6 .3 6 .5 2.3 .2"/>
<path d="M182.5 809.1l6-.4 6-.4 6-.4 6-.3 6-.6 6-.9 6-1.5 6-2.3 6-3.1 6-4.1 6-5.2 6-6.4 6-7.6 6-8.6 6-9.1 6-9.4 6-9.5 6-9.7 6-10.4 6-11.6 6-13.5 6-16.7 6-19.7 6-21.8 6-23.2 6-23.9 6-23.2 6-21.4 6-18.9 6-16.5 6-14.6 6-13.4 6-12.5 6-12.2 6-12.5 6-14 6-15.6 6-17.2 6-18 6-18 6-17.4 6-16 6-14.2 6-11.8 6-9.9 6-9.2 6-9.8 6-10.9 6-11.3 6-10 6-6.7 6-2.3 6 2.3 6 5.7 6 7.9 6 8.6 6 8.9 6 9.1 6 9.9 6 11 6 12.5 6 13.8 6 14.5 6 14.8 6 15.5 6 17.5 6 20.5 6 23.7 6 26.3 6 27.8 6 28.1 6 27 6 24.7 6 21.2 6 17.2 6 13.1 6 9.9 6 8.3 6 8.5 6 10 6 12.4 6 14.4 6 15.7 6 15.8 6 14.8 6 13 6 10.8 6 8.5 6 6.3 6 5.1 6 4.5 6 4.5 6 4.6 6 4.4 6 3.9 6 3.3 6 2.8 6 2.4 6 2.2 6 2 6 1.8 6 1.3 6 .9 6 .6 6 .3 6 .2 6 .2 6 .4 6 .5 6 .6 6 .6 2.3 .2"/>
<path d="M182.5 808.5l6-.7 6-1 6-1.3 6-1.9 6-2.4 6-2.9 6-3.2 6-3.5 6-3.6 6-3.7 6-4.1 6-4.6 6-5.7 6-7 6-8.9 6-10.9 6-12.7 6-14.2 6-15.8 6-18 6-20.6 6-22.8 6-24.1 6-25.4 6-26.1 6-26 6-25.3 6-23.9 6-21.9 6-19.6 6-16.9 6-13.9 6-10.6 6-7.8 6-5.2 6-3.2 6-1.5 6-.6 6-.9 6-2.8 6-5.9 6-9.2 6-11.8 6-13 6-13.2 6-13 6-12.9 6-13 6-13 6-12.7 6-11.3 6-8.2 6-3.7 6 1.9 6 7.3 6 11.9 6 15 6 16.7 6 17.1 6 17 6 16.9 6 17.1 6 17.6 6 18.5 6 20.1 6 22.3 6 24.6 6 25.9 6 25.3 6 22.7 6 18.5 6 14 6 9.9 6 7.3 6 6.6 6 7.5 6 9.3 6 11.6 6 13.2 6 14.1 6 14.1 6 13.9 6 13.5 6 13.2 6 12.8 6 12 6 10.8 6 9.4 6 7.5 6 5.9 6 4.6 6 3.6 6 3.2 6 3.2 6 3.5 6 3.7 6 3.9 6 3.6 6 3.3 6 2.7 6 2 6 1.4 6 .9 6 .5 6 .4 6 .3 6 .4 6 .4 6 .4 6 .3 6 .3 2.3 .1"/>
<path d="M182.5 810.4l6-.1 6-.3 6-.4 6-.8 6-1.1 6-1.3 6-1.5 6-1.7 6-2.3 6-3.2 6-4.6 6-6.1 6-8 6-9.4 6-10.5 6-10.9 6-10.9 6-11.1 6-11.7 6-13.6 6-16.8 6-20.1 6-22.1 6-22.9 6-23.1 6-22.8 6-22.3 6-22 6-21.8 6-21 6-19.2 6-16.2 6-12.4 6-9 6-7.6 6-8.6 6-11.4 6-14.7 6-17.5 6-18.7 6-18.3 6-16.3 6-13.6 6-11.1 6-9.5 6-9.1 6-9.3 6-9.1 6-7.8 6-5.4 6-1.9 6 2.2 6 6.2 6 9.5 6 11.6 6 12.7 6 12.9 6 12.1 6 11.1 6 10.1 6 9.6 6 10.1 6 11.4 6 13.6 6 16.6 6 20 6 23.1 6 25.1 6 25.3 6 24.1 6 22 6 19.7 6 17.2 6 15 6 13.4 6 12.2 6 12 6 12.6 6 13.6 6 14.5 6 15.1 6 15.1 6 14.6 6 13.4 6 11.8 6 9.3 6 6.8 6 4.2 6 2.6 6 2.1 6 2.6 6 3.7 6 4.9 6 5.8 6 6.1 6 5.7 6 5.1 6 4.4 6 3.6 6 2.9 6 2.3 6 1.8 6 1.3 6 1 6 .8 6 .7 6 .7 6 .8 6 .8 6 .7 6 .6 2.3 .1"/>
<path d="M182.5 809.8l6 0 6-.3 6-.7 6-1.3 6-1.8 6-2.2 6-2.5 6-2.4 6-2.4 6-2.4 6-2.6 6-3.4 6-4.5 6-5.9 6-7.7 6-9.6 6-11.3 6-13.2 6-14.7 6-17.1 6-20.5 6-23.8 6-26.6 6-29 6-30.9 6-31.4 6-30.2 6-27.3 6-23 6-18.1 6-13.6 6-10.7 6-9.8 6-11.6 6-14.8 6-17.9 6-19.1 6-18.1 6-15.1 6-11.3 6-7.7 6-5.3 6-4 6-3.9 6-4.4 6-4.9 6-4.5 6-2.7 6 .3 6 3.6 6 6.1 6 7.7 6 8.2 6 8.1 6 8.1 6 8.1 6 8 6 7.7 6 7.5 6 7.6 6 9 6 11.4 6 14.4 6 17.2 6 19.1 6 19.5 6 18.7 6 16.8 6 15.2 6 14.9 6 16 6 18 6 19.9 6 21.1 6 20.7 6 19 6 16.7 6 14.4 6 12.7 6 11.7 6 11.6 6 11.8 6 12.1 6 11.9 6 11.1 6 10.1 6 9.2 6 8.5 6 8.2 6 8.2 6 7.9 6 7 6 5.4 6 3.5 6 1.7 6 .4 6-.3 6-.2 6 .2 6 .8 6 1.1 6 1.3 6 1.3 6 1.1 6 .9 6 .9 6 .6 6 .5 6 .4 6 .2 6 .1 2.3 0"/>
<path d="M182.5 807.5l6 .1 6 .2 6 .2 6 .1 6-.3 6-1 6-2 6-2.8 6-3.5 6-4.1 6-4.4 6-4.8 6-5.1 6-5.7 6-6.5 6-7.9 6-10.2 6-13.9 6-18.2 6-22.3 6-25.9 6-28.3 6-28.5 6-26.8 6-24.7 6-24.1 6-24.2 6-24.9 6-25.6 6-25.4 6-24.3 6-22 6-18.4 6-13.8 6-9.6 6-6.2 6-3.9 6-2.9 6-3.3 6-4.9 6-7.1 6-9.3 6-10.2 6-9.6 6-7.8 6-5.9 6-3.8 6-2.1 6-.6 6 .5 6 1.2 6 2 6 3 6 4 6 5.1 6 5.9 6 6.3 6 6.6 6 7.3 6 8.7 6 11 6 13.4 6 15 6 15.3 6 14.8 6 13.9 6 13.1 6 13.3 6 14.5 6 17.1 6 20.4 6 23.4 6 25.2 6 25.5 6 24.5 6 22.4 6 19.9 6 17.2 6 14.6 6 12.4 6 10.8 6 10.1 6 9.8 6 9.8 6 9.7 6 9.1 6 8.5 6 7.7 6 6.9 6 6.3 6 6 6 5.9 6 5.6 6 5.1 6 4.5 6 3.9 6 3.2 6 2.7 6 2.4 6 2.3 6 2 6 1.8 6 1.6 6 1.3 6 1 6 .8 6 .5 6 .5 6 .5 6 .4 6 .4 2.3 .1"/>
<path d="M182.5 807.5l6-.3 6-.4 6-.5 6-.6 6-.8 6-1.1 6-1.3 6-1.4 6-1.7 6-2.4 6-3.1 6-4.3 6-5.8 6-7.6 6-9.9 6-12.3 6-14.8 6-16.7 6-17.7 6-18.5 6-19.4 6-20.1 6-20.1 6-20.3 6-20.9 6-22 6-22.7 6-22.8 6-22.1 6-20.6 6-18.2 6-15.6 6-13.1 6-12 6-12.6 6-14.2 6-15.6 6-15.5 6-13.8 6-10.8 6-7.4 6-4.6 6-3 6-2.4 6-2.9 6-4 6-5.1 6-5.6 6-5.5 6-4.9 6-4 6-2.7 6-.8 6 1.6 6 4.3 6 6.2 6 7.8 6 8.9 6 10.9 6 14.1 6 18.3 6 22.4 6 24.6 6 24.3 6 21.7 6 17.7 6 13.6 6 10 6 7.4 6 6.2 6 6.8 6 8.6 6 11.6 6 15 6 17.9 6 19.6 6 19.9 6 18.7 6 16.9 6 14.8 6 13.4 6 12.8 6 12.5 6 12.6 6 12.3 6 11.8 6 11 6 10 6 8.8 6 7.4 6 6.1 6 5 6 4 6 3.4 6 2.7 6 2.5 6 2.2 6 2.4 6 2.3 6 2.3 6 2.3 6 2.1 6 1.8 6 1.5 6 1.3 6 1 6 .8 6 .3 6 .1 6 0 6-.2 2.3-.1"/>
<path d="M182.5 809.9l6-.6 6-.5 6-.6 6-.7 6-.9 6-1.2 6-1.4 6-1.6 6-2 6-2.8 6-3.7 6-4.6 6-5.2 6-5.6 6-5.9 6-7.1 6-9.1 6-12.9 6-16.8 6-20.9 6-24.5 6-26.6 6-26.6 6-25.7 6-24.8 6-24 6-23.6 6-23.7 6-24.6 6-25.8 6-26.9 6-26.5 6-23.9 6-19.7 6-14.6 6-9.6 6-5.1 6-1.6 6 .3 6 .8 6-.3 6-2.2 6-3.8 6-4.5 6-3.7 6-2 6 .2 6 2 6 2.6 6 1.8 6-.3 6-2.5 6-4.4 6-5 6-4.3 6-1.9 6 1.4 6 5.4 6 9.5 6 13.1 6 15.8 6 17.1 6 16.9 6 15.6 6 14.4 6 13.9 6 14.2 6 15.1 6 16.2 6 17.5 6 18.9 6 20.1 6 21 6 21.1 6 20.3 6 18.9 6 17.3 6 15.8 6 14.3 6 13.1 6 11.8 6 10.2 6 8.7 6 7.2 6 6.2 6 5.8 6 6.1 6 6.9 6 7.9 6 8.4 6 8.4 6 8 6 7.5 6 6.7 6 5.7 6 4.6 6 3.5 6 2.7 6 2.1 6 1.7 6 1.6 6 1.5 6 1.5 6 1.5 6 1.3 6 1 6 .7 6 .6 6 .4 6 .5 6 .5 2.3 .2"/>
<path d="M182.5 808.8l6-.4 6-.4 6-.7 6-1.1 6-1.5 6-2.1 6-2.5 6-2.9 6-3.3 6-3.5 6-3.6 6-3.6 6-3.4 6-3.1 6-3.3 6-4.5 6-6.9 6-11.2 6-15.7 6-20.1 6-23.9 6-26.3 6-26.3 6-25.5 6-25.1 6-25 6-24.5 6-23.3 6-21 6-17.6 6-14 6-11 6-8.9 6-7.9 6-8.4 6-9.6 6-10.6 6-11.1 6-11.1 6-11 6-11.2 6-11.6 6-11.6 6-10.5 6-8.6 6-5.9 6-3.1 6 0 6 2.5 6 3.9 6 3.7 6 1.8 6-.8 6-3 6-3.2 6-1.3 6 2.4 6 6.3 6 9.1 6 10.3 6 9.9 6 9.1 6 8.5 6 8.8 6 10.1 6 12.4 6 14.8 6 17 6 18.5 6 19.5 6 20.3 6 20.9 6 21 6 20.7 6 20.2 6 19.2 6 18.2 6 17.3 6 16.6 6 16.2 6 15.5 6 14.7 6 13 6 10.6 6 7.8 6 5.2 6 3.7 6 3.1 6 4 6 5.2 6 6.6 6 7.3 6 7.7 6 7.2 6 6.3 6 5.1 6 4.1 6 3.4 6 2.9 6 2.6 6 2.2 6 1.9 6 1.5 6 1.1 6 .9 6 .7 6 .6 6 .5 6 .5 6 .4 6 .3 2.3 .1"/>
<path d="M182.5 806.6l6 0 6-.1 6-.3 6-.4 6-.5 6-.7 6-.7 6-.7 6-.5 6-.3 6-.3 6-.7 6-1.9 6-3.3 6-5.2 6-6.5 6-7.3 6-8.6 6-9.9 6-11.9 6-14.9 6-19.1 6-23.8 6-27.5 6-28.9 6-29.4 6-29.3 6-29.2 6-29.1 6-29.8 6-30.4 6-30.3 6-28.4 6-24.4 6-19.2 6-14.8 6-11.6 6-9.3 6-7.2 6-5 6-2.9 6-2.2 6-3 6-5.3 6-8.2 6-10.8 6-12.3 6-12.3 6-10.7 6-8.1 6-4.8 6-1.4 6 1.8 6 4.2 6 5.8 6 7 6 8.6 6 11.2 6 14.9 6 19.2 6 23.1 6 25.6 6 26.3 6 25.9 6 25.4 6 25.3 6 25.4 6 24.6 6 22.9 6 20.4 6 17 6 13.2 6 9.8 6 7.4 6 7 6 8.6 6 11.8 6 15.3 6 17.8 6 18.5 6 17.6 6 15.5 6 13.3 6 11.5 6 10.5 6 9.9 6 9.7 6 9 6 8 6 6.8 6 5.4 6 4.2 6 3.1 6 2.2 6 1.5 6 1.1 6 1 6 1 6 1.3 6 1.6 6 2 6 2.1 6 2 6 1.6 6 .9 6 .3 6-.2 6-.5 6-.6 6-.5 6-.2 2.3-.1"/>
<path d="M182.5 809.6l6-.1 6-.1 6 .1 6 .1 6-.2 6-.7 6-1.4 6-2.3 6-2.8 6-3.3 6-3.8 6-4.1 6-4.7 6-5.5 6-6.2 6-7.1 6-8 6-9.9 6-12 6-14.8 6-18.6 6-23 6-26.5 6-28 6-27.8 6-26.8 6-25 6-23.2 6-22 6-21.8 6-22.4 6-23.8 6-25 6-25.5 6-25.3 6-23.5 6-20.1 6-15.3 6-10.5 6-7.2 6-5.8 6-6 6-6.2 6-5 6-2.8 6-.8 6-.2 6-1.1 6-3 6-4.3 6-3.4 6-.1 6 4.7 6 9.3 6 12.5 6 13.5 6 13 6 11.5 6 10.6 6 10.5 6 11.9 6 14.4 6 17.2 6 20 6 22.2 6 23.2 6 23.3 6 22.2 6 20.9 6 20.1 6 19.5 6 18.8 6 17.5 6 15.9 6 13.9 6 12.4 6 12.1 6 12.3 6 13.1 6 13.5 6 13.3 6 12.3 6 10.7 6 9 6 7.4 6 6.3 6 5.4 6 5.1 6 5.3 6 5.5 6 5.8 6 5.9 6 5.8 6 5.5 6 4.9 6 4.4 6 4 6 3.6 6 3.3 6 3 6 2.5 6 2.2 6 1.7 6 1.4 6 1 6 .7 6 .4 6 .3 6 .2 6 0 6 0 2.3 0"/>
<path d="M182.5 808.8l6-.4 6-.5 6-.4 6-.3 6-.4 6-.4 6-.6 6-.9 6-1.3 6-2 6-3.1 6-4.6 6-6.4 6-8.5 6-10.7 6-12.8 6-14.8 6-16.3 6-17.6 6-18.5 6-19.5 6-20.3 6-20.4 6-19.3 6-18 6-17.5 6-17.5 6-17.7 6-18.4 6-18.9 6-19.5 6-19.7 6-18.9 6-17.3 6-15 6-12.4 6-9.7 6-6.6 6-3.7 6-1.8 6-1 6-1.3 6-2.2 6-3.1 6-3.9 6-5.2 6-7.2 6-9.3 6-11 6-11.5 6-11 6-9.2 6-6.6 6-3.6 6-.6 6 2 6 4.1 6 5.8 6 7.4 6 8.7 6 10.3 6 12 6 13.7 6 15.5 6 17.7 6 19.8 6 21.1 6 21.2 6 20.2 6 19.1 6 18.1 6 17.8 6 17.4 6 17.1 6 16.7 6 16.5 6 16.7 6 17.1 6 17.3 6 16.8 6 15.6 6 13.8 6 11.9 6 10.3 6 9.3 6 8.6 6 8.1 6 7.8 6 7.4 6 7.2 6 7.2 6 7 6 6.8 6 6.1 6 5.4 6 4.5 6 3.8 6 2.9 6 2.2 6 1.5 6 .8 6 .3 6 0 6-.1 6 0 6 .1 6 .4 6 .5 6 .7 6 .5 6 .3 2.3 0"/>
<path d="M182.5 809.6l6-.3 6-.2 6-.1 6-.1 6 0 6-.2 6-.4 6-.9 6-1.4 6-1.9 6-2.4 6-2.9 6-3.6 6-4.7 6-6.4 6-8.4 6-10.8 6-13.2 6-15.4 6-17.5 6-19.6 6-21.9 6-24.7 6-27.3 6-28.2 6-28 6-27.6 6-26.4 6-24.4 6-22.3 6-20.3 6-19.2 6-18.6 6-18.3 6-17.6 6-16.6 6-15.2 6-13.4 6-11.1 6-9 6-7.9 6-7.4 6-7.1 6-6.7 6-5.4 6-4.2 6-3.7 6-3.4 6-3.6 6-3.4 6-2.9 6-1.7 6-.1 6 2.1 6 4.4 6 7.2 6 10.3 6 13.5 6 16.3 6 17.9 6 18.1 6 16.7 6 14.5 6 12.8 6 12.7 6 14.3 6 16.4 6 18.2 6 19.5 6 20.2 6 20.3 6 20 6 19.4 6 19.3 6 19.8 6 21.2 6 22.7 6 23.3 6 22.2 6 19.6 6 16 6 12.7 6 10.3 6 8.9 6 8.5 6 8 6 7.4 6 6.3 6 4.9 6 4.2 6 3.6 6 3.5 6 3.3 6 3.1 6 2.8 6 2.1 6 1.5 6 .7 6 .3 6 .1 6 .4 6 .6 6 .9 6 .8 6 .8 6 .6 6 .5 6 .5 6 .4 6 .4 6 .3 2.3 .2"/>
<path d="M182.5 807.6l6-.3 6-.4 6-.5 6-.7 6-.9 6-1.4 6-1.8 6-2.3 6-2.8 6-3.1 6-3.6 6-4.3 6-5 6-5.9 6-6.8 6-7.4 6-7.7 6-8.1 6-8.6 6-9.9 6-12.9 6-17.3 6-22.2 6-25.8 6-28.2 6-29.5 6-29.4 6-28 6-26.2 6-24.1 6-22.7 6-21.7 6-21.5 6-21.2 6-20.8 6-20.2 6-18.3 6-15.1 6-11.3 6-7.9 6-6.1 6-6.2 6-7.6 6-8.7 6-8.2 6-6 6-2.7 6 1.5 6 5.5 6 8.9 6 11.3 6 12.1 6 11.9 6 10.1 6 7.5 6 4.5 6 1.7 6 0 6-.7 6 .1 6 2 6 5.2 6 9 6 13.1 6 17.4 6 21.5 6 24.4 6 25.5 6 24.4 6 22.2 6 20.1 6 18.6 6 18.1 6 18.3 6 18.4 6 17.9 6 16.8 6 15.3 6 13.9 6 12.6 6 11.7 6 11.1 6 10.9 6 10.6 6 10.1 6 9.2 6 8.1 6 6.6 6 5 6 3.8 6 2.9 6 3 6 3.7 6 4.9 6 5.7 6 6.2 6 6.1 6 5.5 6 4.5 6 3.6 6 2.7 6 2 6 1.6 6 1.3 6 1 6 .9 6 .7 6 .5 6 .3 6 .2 6 0 2.3-.1"/>
<path d="M182.5 810.1l6 .2 6 .1 6-.2 6-.6 6-1.3 6-2.1 6-2.8 6-3.4 6-3.8 6-3.9 6-3.9 6-3.8 6-3.9 6-4.2 6-5.3 6-7.1 6-10.2 6-14 6-17.9 6-21.3 6-24.3 6-27.1 6-28.7 6-28.9 6-28.6 6-28 6-27.2 6-25.7 6-24.2 6-22.5 6-20.7 6-18.7 6-16.3 6-13.6 6-11.7 6-10.7 6-9.8 6-8.9 6-7.5 6-6.1 6-4.9 6-4 6-3 6-1.6 6 .2 6 1.5 6 1.5 6 .6 6-1.6 6-4.1 6-6.7 6-8.7 6-9.1 6-8 6-5.1 6-.9 6 4 6 8.6 6 12.9 6 16.5 6 19.3 6 21.1 6 21.1 6 20 6 18.4 6 17.3 6 17.1 6 17.6 6 18.8 6 20.2 6 21.5 6 22.1 6 21.5 6 20.3 6 18.5 6 16.6 6 15.1 6 14.3 6 13.9 6 13.5 6 12.8 6 11.7 6 10.6 6 9.7 6 9.5 6 9.8 6 10.1 6 9.7 6 8.3 6 6.6 6 4.9 6 3.9 6 3.5 6 3.7 6 3.8 6 3.8 6 3.4 6 2.9 6 2.1 6 1.4 6 1 6 .7 6 .7 6 .7 6 .9 6 .9 6 .9 6 1 6 1 6 .9 6 .7 2.3 .2"/>
<path d="M182.5 809.3l6-.2 6-.4 6-.6 6-.9 6-1.2 6-1.5 6-2 6-2.2 6-2.5 6-2.8 6-3 6-3.1 6-3.2 6-3.6 6-4.1 6-4.9 6-6.5 6-9.1 6-11.8 6-14.8 6-18.2 6-22 6-24.6 6-26.3 6-27.3 6-27.7 6-26.9 6-25.8 6-24.8 6-24.3 6-24.2 6-23.8 6-22.2 6-19.6 6-16.7 6-14.4 6-12.9 6-11.8 6-10.9 6-9.7 6-8.6 6-7.7 6-6.9 6-6.1 6-4.7 6-2.8 6-.8 6 .9 6 1.4 6-.1 6-3.2 6-7.1 6-10.5 6-11.8 6-10.4 6-6.1 6 0 6 6.6 6 12.8 6 17.8 6 21.6 6 24.5 6 26.3 6 27.1 6 26.8 6 25.9 6 24.7 6 23.2 6 21.5 6 20.1 6 18.8 6 18 6 17.1 6 16 6 14.7 6 13.2 6 11.4 6 10.2 6 9.8 6 10.4 6 11.9 6 13.5 6 14.8 6 15 6 14.1 6 12.3 6 10.3 6 8.2 6 6.2 6 4.9 6 3.9 6 3.2 6 3 6 3.1 6 3.2 6 3.5 6 3.6 6 3.6 6 3.4 6 3.1 6 2.7 6 2.2 6 1.9 6 1.6 6 1.6 6 1.5 6 1.3 6 1.1 6 .8 6 .4 6-.1 2.3-.2"/>
<path d="M182.5 810.8l6 .1 6-.3 6-.6 6-1.1 6-1.6 6-2.4 6-3.1 6-3.7 6-4.5 6-5.1 6-5.9 6-6.6 6-7.1 6-7.3 6-7.4 6-7.4 6-7.6 6-8.3 6-9.6 6-11.4 6-13.6 6-16.5 6-19.3 6-20.7 6-21 6-21 6-21.2 6-21.7 6-23.1 6-25.4 6-27.7 6-29 6-28.7 6-26.4 6-23.3 6-20.1 6-17 6-14 6-10.8 6-7.9 6-5.8 6-4.3 6-3.6 6-3.4 6-3.4 6-3.8 6-4.6 6-5.5 6-6.4 6-6.8 6-6.8 6-5.4 6-2.8 6 1.2 6 5.3 6 8.7 6 10.8 6 11.2 6 10.4 6 9.9 6 10.2 6 12.1 6 15.2 6 18.8 6 22.4 6 25.5 6 27.3 6 27.6 6 26.3 6 24 6 21.8 6 19.6 6 17.9 6 16.5 6 15.5 6 14.5 6 14 6 14 6 14.2 6 14.5 6 14.7 6 14.1 6 13 6 11.4 6 9.6 6 8.3 6 7.3 6 7 6 6.8 6 7.1 6 7.1 6 6.8 6 6.1 6 4.7 6 3.4 6 2.1 6 1.3 6 .9 6 1 6 1.1 6 1.2 6 1.1 6 .9 6 .8 6 .6 6 .4 6 .4 6 .4 6 .3 6 .2 6 .1 2.3 .1"/>
<path d="M182.5 808.8l6-.8 6-.8 6-.9 6-.9 6-1.1 6-1.6 6-2 6-2.6 6-3.2 6-3.7 6-4.2 6-4.7 6-5.3 6-6.1 6-7 6-8.4 6-10 6-11.9 6-13.9 6-16 6-18.6 6-21 6-22.2 6-22.1 6-21.7 6-21.5 6-21.2 6-21.4 6-21.7 6-21.9 6-21.3 6-20 6-17.7 6-16 6-15.6 6-17.2 6-19.5 6-20.9 6-20.6 6-18.1 6-13.9 6-8.8 6-3.5 6 1.6 6 5.7 6 8.1 6 8.2 6 6.1 6 1.8 6-3.6 6-8.4 6-11.6 6-11.7 6-9.1 6-4.5 6 .8 6 6.1 6 10.2 6 13 6 14.8 6 15.5 6 15.6 6 14.8 6 13.9 6 13.7 6 14.9 6 17.2 6 20.2 6 22.8 6 24.7 6 25.4 6 24.1 6 21.5 6 18 6 15 6 13.2 6 13 6 14.2 6 15.4 6 16.2 6 16 6 15.2 6 13.6 6 12 6 10.5 6 9.2 6 8.3 6 7.3 6 6.4 6 5.5 6 4.8 6 4.2 6 3.8 6 3.6 6 3.7 6 3.9 6 4.2 6 4.3 6 4.3 6 4 6 3.4 6 2.6 6 1.8 6 1.1 6 .6 6 .3 6 .2 6 .2 6 .4 6 .3 6 .4 2.3 .2"/>
<path d="M182.5 811.4l6 .2 6 0 6 0 6 0 6-.7 6-1.3 6-1.8 6-2.4 6-2.8 6-2.9 6-2.6 6-2.4 6-2.4 6-2.7 6-3.9 6-5.7 6-8.1 6-10.8 6-13.3 6-15 6-16.2 6-17.2 6-18.8 6-20.7 6-21.9 6-23.3 6-25.6 6-28.2 6-30.7 6-32.8 6-33.9 6-33.3 6-30.3 6-24.3 6-16.5 6-8.6 6-2.7 6 .7 6 1.8 6 .8 6-1.6 6-4.9 6-8.5 6-11.2 6-12.8 6-13.2 6-13.1 6-12.5 6-11.6 6-10.2 6-8.3 6-6 6-2.8 6 .5 6 4 6 7 6 9.6 6 11.9 6 13.6 6 14.8 6 15.6 6 16.1 6 16.4 6 17.5 6 19.5 6 21.5 6 22.5 6 21.8 6 19.8 6 18 6 16.6 6 15.7 6 15.4 6 15 6 14.9 6 15.1 6 16 6 17.1 6 18.3 6 19.1 6 19.3 6 18.8 6 17.3 6 15.3 6 13.1 6 10.8 6 8.8 6 7.3 6 6.1 6 5.2 6 4.6 6 4.2 6 3.8 6 3.6 6 3.4 6 3.3 6 3.2 6 2.9 6 2.6 6 2.1 6 1.7 6 1.4 6 1 6 .7 6 .4 6 .2 6 0 6-.1 6-.1 6-.1 6-.1 2.3 0"/>
<path d="M182.5 808.8l6-.7 6-.9 6-1.1 6-1.3 6-1.5 6-1.7 6-1.9 6-1.8 6-1.6 6-1.4 6-1.5 6-2.2 6-3.3 6-5.1 6-7.1 6-9.3 6-11.6 6-14.3 6-16.7 6-19.3 6-21.9 6-24.9 6-26.8 6-27.1 6-26.2 6-25.1 6-23.3 6-21.4 6-19.8 6-19 6-19.1 6-19.6 6-19.8 6-18.7 6-17 6-14.5 6-11.4 6-8.1 6-5.6 6-4.5 6-5.2 6-7.2 6-9 6-9 6-7.1 6-4 6-1.2 6 .3 6 .2 6-.9 6-1.8 6-1.3 6 .9 6 4.1 6 7.4 6 9.9 6 10.7 6 10.6 6 9.9 6 9.9 6 11 6 13 6 14.9 6 16 6 16.4 6 16.4 6 16.5 6 16.9 6 17.6 6 18.7 6 19.5 6 19.1 6 17.3 6 14.6 6 11.5 6 9.6 6 9 6 10 6 11.5 6 13 6 13.9 6 14.2 6 14.1 6 13.3 6 12.5 6 11.6 6 11 6 10.5 6 10.2 6 9.6 6 8.8 6 7.6 6 6.4 6 5 6 4 6 3.2 6 2.7 6 2.3 6 1.9 6 1.7 6 1.5 6 1.4 6 1.3 6 1.1 6 1 6 .4 6 0 6 0 6 0 6-.1 6-.6 2.3-.3"/>
<path d="M182.5 809.3l6-.5 6-.4 6-.5 6-.5 6-.4 6-.5 6-.9 6-1.4 6-2.3 6-3.5 6-4.8 6-6.1 6-7.2 6-8.1 6-8.8 6-9.4 6-10.3 6-11.4 6-12.7 6-14.1 6-15.7 6-17.7 6-19.5 6-20.4 6-20.9 6-21.9 6-23.1 6-23.9 6-24.8 6-25.4 6-25.6 6-25.4 6-24 6-21.1 6-17.2 6-12.8 6-8.2 6-4.1 6-1.1 6-.2 6-1.5 6-4.2 6-6.8 6-7.8 6-7.2 6-6 6-5.6 6-6.3 6-8.4 6-10.9 6-12.7 6-13.1 6-11.5 6-8.4 6-4.3 6 .1 6 4.1 6 8 6 11.9 6 16.3 6 20.3 6 23.8 6 25.6 6 25.5 6 24.2 6 22.3 6 20.4 6 18.4 6 16.7 6 15.5 6 15.1 6 15.9 6 17.2 6 19 6 20.7 6 21.4 6 21.5 6 20.4 6 18.5 6 15.9 6 13.4 6 11 6 9.5 6 8.4 6 7.5 6 6.8 6 5.9 6 5 6 4.5 6 4.1 6 4.1 6 4.3 6 4.5 6 4.7 6 4.6 6 4.4 6 4 6 3.8 6 3.4 6 3.2 6 2.9 6 2.5 6 2.2 6 1.7 6 1.4 6 .9 6 .6 6 .3 6 .3 6 .3 6 .4 2.3 .1"/>
<path d="M182.5 809.8l6-.3 6-.7 6-1 6-1.2 6-1.4 6-1.5 6-1.5 6-1.6 6-1.8 6-2.2 6-2.9 6-3.9 6-5.1 6-6.4 6-7.5 6-8.6 6-9.5 6-10.7 6-12.6 6-14.7 6-17.3 6-20.3 6-23.5 6-25.3 6-25.4 6-24.6 6-22.9 6-20.3 6-17.3 6-14.9 6-13.6 6-13.7 6-14.8 6-15.9 6-16.6 6-17.4 6-18.3 6-18.8 6-19.3 6-19.6 6-19.7 6-19.7 6-18.7 6-15.9 6-11.1 6-4.6 6 1.9 6 6.9 6 9.3 6 8.7 6 5.7 6 2.2 6-.2 6 .1 6 2.9 6 6.8 6 10.3 6 12.1 6 12.2 6 11.1 6 10.1 6 10.4 6 11.4 6 13.2 6 15 6 16.8 6 18.1 6 18.7 6 18.5 6 17.9 6 17.3 6 16.8 6 16.3 6 16.2 6 16.5 6 16.9 6 17.5 6 18 6 17.7 6 16.8 6 15.4 6 13.9 6 12.6 6 11.9 6 11.3 6 11.1 6 10.6 6 9.6 6 8.4 6 7 6 5.9 6 4.9 6 4.1 6 3.6 6 3 6 2.8 6 2.7 6 2.8 6 2.6 6 2.5 6 2 6 1.4 6 .9 6 .5 6 .2 6 .2 6 .2 6 .4 6 .5 6 .6 6 .7 2.3 .3"/>
<path d="M182.5 808.5l6-1.1 6-1.4 6-1.7 6-2 6-2.2 6-2.5 6-2.8 6-3.2 6-3.8 6-4.7 6-5.7 6-6.8 6-8 6-9.2 6-10.7 6-12.4 6-14.1 6-16 6-17.8 6-18.8 6-18.2 6-16.3 6-14.1 6-12.1 6-10.8 6-10.6 6-12.1 6-14.8 6-18.3 6-21.2 6-22.4 6-21.1 6-18 6-14.4 6-11.6 6-10 6-9.6 6-9.6 6-9.6 6-9.4 6-9.1 6-9.1 6-9.3 6-9.9 6-10.3 6-10.1 6-8.8 6-6.1 6-2.4 6 1.7 6 5.5 6 8 6 9.2 6 8.9 6 7.3 6 5.6 6 4.3 6 4.2 6 5.5 6 8 6 11.3 6 14.7 6 17.9 6 20 6 20.5 6 19.4 6 17.3 6 14.7 6 12.7 6 11.4 6 10.6 6 10.3 6 9.7 6 8.6 6 6.9 6 5.1 6 3.7 6 3.4 6 4.4 6 7 6 10.3 6 13.5 6 15.6 6 16.1 6 15.3 6 13.7 6 11.9 6 10.6 6 10.1 6 9.9 6 9.9 6 9.6 6 8.9 6 7.8 6 6.2 6 4.9 6 3.7 6 3.1 6 2.9 6 2.7 6 2.8 6 2.6 6 2.4 6 2.2 6 1.9 6 1.6 6 1.3 6 1 6 .9 6 .8 6 .7 2.3 .3"/>
<path d="M182.5 810.3l6 .3 6 .1 6-.2 6-.7 6-.9 6-1.2 6-1.6 6-2.2 6-2.8 6-3.4 6-3.7 6-4 6-4.2 6-4.3 6-4.7 6-5.2 6-5.8 6-7.2 6-9.3 6-12 6-15.2 6-19.1 6-23.4 6-26.4 6-28 6-28.9 6-29.8 6-30 6-29.1 6-27.1 6-23.1 6-17.8 6-11.6 6-5.6 6-1.7 6-1.1 6-3.4 6-7.5 6-11.8 6-15.5 6-18 6-19.1 6-18.5 6-15.8 6-11 6-5.3 6 0 6 4.1 6 6 6 5.5 6 2.9 6-.4 6-3.4 6-5.1 6-4.4 6-1.5 6 3.8 6 10.1 6 16.1 6 20.3 6 22.3 6 22.1 6 20.7 6 19 6 17.6 6 16.6 6 15.3 6 13.6 6 12 6 11.4 6 12.1 6 13.2 6 14.1 6 13.9 6 12.6 6 10.9 6 9.7 6 9.6 6 10.5 6 12.4 6 14.3 6 16.1 6 17.3 6 17.5 6 16.8 6 15.1 6 12.6 6 9.9 6 7.6 6 6.1 6 5.2 6 4.9 6 4.8 6 4.6 6 4.4 6 3.9 6 3.3 6 2.4 6 1.7 6 .9 6 .3 6 0 6-.2 6-.2 6-.2 6 0 6 .1 6 .3 6 .3 6 .3 6 .3 2.3 .2"/>
<path d="M182.5 810.1l6 .3 6 .3 6 0 6-.5 6-1.2 6-1.9 6-2.7 6-3.1 6-3.3 6-3.1 6-2.8 6-3 6-3.7 6-5.3 6-7.5 6-9.9 6-12 6-13.4 6-14.7 6-16 6-17.2 6-18.4 6-19.9 6-21.3 6-21.6 6-21.5 6-22.4 6-24.3 6-26 6-27.1 6-26.8 6-24.7 6-20.8 6-16.1 6-11.7 6-9.4 6-9.9 6-11.9 6-14.2 6-15.3 6-14.9 6-13.1 6-10.5 6-7.3 6-4.1 6-1.5 6-.8 6-1.7 6-3.8 6-5.6 6-6.5 6-5.6 6-3.5 6-.7 6 1.9 6 3.9 6 5.6 6 7.1 6 9.1 6 11.8 6 14.7 6 17.7 6 19.7 6 20.8 6 21.2 6 21.4 6 21.3 6 20.5 6 18.8 6 17.2 6 16 6 15.5 6 15.4 6 15.7 6 16.1 6 16.7 6 17.6 6 18.7 6 19.1 6 18.9 6 18.2 6 16.9 6 15.2 6 13.2 6 10.9 6 8.8 6 7 6 6 6 6 6 6.6 6 7.4 6 7.6 6 7.2 6 6 6 4.5 6 3 6 2 6 1.2 6 1 6 1 6 1.2 6 1.3 6 1.5 6 1.6 6 1.5 6 1.3 6 1 6 .8 6 .5 6 .2 6 .1 2.3 0"/>
<path d="M182.5 809.4l6-.2 6-.3 6-.4 6-.6 6-.9 6-1.4 6-2.2 6-2.9 6-3.4 6-3.7 6-3.5 6-3.3 6-2.8 6-2.7 6-3 6-4 6-5.7 6-8.6 6-11.7 6-14.9 6-18.1 6-21.7 6-24.9 6-26.8 6-27.4 6-27.2 6-25.9 6-23.3 6-20.2 6-17.6 6-16.4 6-16.9 6-18.5 6-20 6-21.3 6-22.5 6-23.1 6-22.5 6-20.6 6-17.6 6-13.3 6-8.6 6-4.1 6-.5 6 1.6 6 1.9 6 1 6 .2 6 .3 6 1.1 6 1.8 6 1.6 6-.2 6-2.6 6-4.3 6-3.6 6 .1 6 6.3 6 13.8 6 20.8 6 26.2 6 29.4 6 30.6 6 30.3 6 29.2 6 26.9 6 23.5 6 19.3 6 15.4 6 13 6 11.7 6 10.9 6 9.7 6 8.1 6 6.5 6 5.9 6 6.9 6 8.9 6 11.2 6 13.1 6 13.9 6 14 6 13.4 6 12.5 6 11.4 6 10.5 6 9.6 6 8.8 6 8.3 6 7.8 6 7.2 6 6.8 6 6 6 5.1 6 4.4 6 3.6 6 3 6 2.4 6 2 6 1.5 6 1.2 6 .9 6 .7 6 .5 6 .4 6 .5 6 .5 6 .5 6 .6 6 .5 6 .4 2.3 .2"/>
<path d="M182.5 809.8l6 .1 6-.2 6-.5 6-1.1 6-1.7 6-2.5 6-3.2 6-3.8 6-4.2 6-4.6 6-5.2 6-5.9 6-6.9 6-8.4 6-10 6-11.9 6-14 6-15.6 6-17.3 6-19.2 6-21.6 6-23.6 6-24.2 6-23.9 6-23.3 6-22.5 6-21.4 6-20.4 6-19.2 6-17.6 6-15.5 6-12.8 6-10 6-8 6-7.7 6-9.3 6-11.6 6-13.6 6-14.9 6-14.5 6-12.6 6-9.5 6-5.6 6-1.6 6 .9 6 1.1 6-.6 6-2.9 6-4.7 6-4.6 6-2.7 6 .7 6 4 6 6.4 6 7.3 6 6.7 6 5.2 6 3.8 6 3 6 3.2 6 4.8 6 7.6 6 11.4 6 15.4 6 19 6 21.4 6 21.4 6 19.4 6 16.1 6 13 6 11.2 6 10.6 6 11.1 6 12.2 6 13.8 6 15.5 6 17.6 6 19.6 6 21 6 21.4 6 20.5 6 18.7 6 16.2 6 13.6 6 11.1 6 9.2 6 8.3 6 7.9 6 8.1 6 8.4 6 8.2 6 7.5 6 6.5 6 5 6 3.9 6 3 6 2.6 6 2.4 6 2.5 6 2.3 6 2 6 1.5 6 1 6 .5 6 0 6-.3 6-.4 6-.4 6-.1 6-.1 6 .1 2.3 0"/>
<path d="M182.5 811.1l6 .5 6 0 6 0 6-.3 6-.8 6-1 6-1 6-1.2 6-1.4 6-2.1 6-2.7 6-3.6 6-4.7 6-5.6 6-6.7 6-7.8 6-8.8 6-9.7 6-10.8 6-12.1 6-13.7 6-16 6-19.3 6-23.4 6-26.1 6-27.7 6-28.6 6-28.8 6-28.1 6-27.3 6-26.8 6-26.2 6-25.3 6-23 6-19.3 6-15.1 6-11.8 6-9.4 6-7.9 6-7.5 6-8.2 6-9.8 6-11.8 6-13.1 6-13 6-11.3 6-8.6 6-5.3 6-2.1 6 .8 6 3.1 6 4.6 6 6 6 6.8 6 7.9 6 9.1 6 11.2 6 14.1 6 17.8 6 21.3 6 23.8 6 24.2 6 22.5 6 19.6 6 16.9 6 14.8 6 13.2 6 11.7 6 10.2 6 9.4 6 9.6 6 10.6 6 12.4 6 14.3 6 15.8 6 17 6 17.9 6 18.4 6 18.4 6 17.8 6 16.8 6 15.6 6 14.2 6 12.8 6 11.8 6 11 6 10.3 6 9.4 6 8.4 6 7.2 6 6.1 6 5.1 6 4.2 6 3.4 6 2.9 6 2.5 6 2.2 6 1.8 6 1.4 6 1 6 .8 6 .5 6 .3 6 .1 6-.1 6-.1 6 0 6 .1 6 .1 6 .3 6 .2 2.3 .1"/>
<path d="M182.5 810.7l6-.6 6-.8 6-1 6-1.2 6-1.3 6-1.6 6-1.9 6-2.2 6-2.8 6-3.5 6-4.5 6-5.9 6-7.3 6-8.5 6-9.2 6-9.4 6-9.3 6-9.4 6-10.4 6-12.2 6-15.1 6-18.6 6-21.6 6-23.3 6-24.9 6-26.8 6-28.8 6-30.1 6-30.5 6-29.6 6-27.4 6-23.9 6-19.8 6-15.8 6-13.3 6-12.4 6-12.3 6-11.9 6-10.2 6-7.3 6-3.7 6 0 6 2.9 6 5.1 6 5.7 6 4.8 6 2.2 6-1.1 6-3.9 6-5.7 6-5.9 6-4.5 6-1.7 6 1.4 6 4.5 6 6.6 6 7.4 6 7.1 6 6.8 6 7.9 6 11 6 15.9 6 21.1 6 25 6 26.7 6 26 6 23 6 18.9 6 14.8 6 11.8 6 10.6 6 10.7 6 11.8 6 13.4 6 14.8 6 16 6 16.5 6 16.5 6 15.6 6 14.1 6 12.4 6 10.6 6 9.1 6 8.1 6 7.6 6 7.5 6 7.5 6 7.5 6 7.3 6 6.8 6 6.3 6 5.8 6 5.5 6 4.9 6 4.1 6 3.3 6 2.4 6 1.9 6 1.5 6 1.7 6 1.9 6 2.1 6 2.2 6 2.1 6 1.8 6 1.5 6 1 6 .7 6 .3 6 .2 6 .1 2.3 0"/>
<path d="M182.5 810.6l6-.3 6-.1 6-.1 6-.1 6-.1 6-.3 6-.8 6-1.2 6-1.7 6-2.2 6-2.7 6-3.3 6-4 6-4.9 6-6.1 6-7.5 6-9.4 6-12.6 6-15.9 6-19.3 6-22.4 6-25.2 6-26.6 6-26.1 6-25.2 6-25 6-25.4 6-26.5 6-28 6-29 6-28.9 6-27.5 6-24 6-19.6 6-15.3 6-12.3 6-10.1 6-8.6 6-6.9 6-5.2 6-3.8 6-3.1 6-3.2 6-3.5 6-3.9 6-4.4 6-4.8 6-5 6-4.9 6-4.6 6-3.5 6-2.1 6 .2 6 2.7 6 5.2 6 7.3 6 9.5 6 11.5 6 14.1 6 16.9 6 20.3 6 23.8 6 26.6 6 28.1 6 28 6 26.1 6 22.5 6 18.1 6 13.8 6 10.8 6 9.8 6 10.4 6 11.6 6 12.8 6 13.6 6 13.5 6 13.1 6 12.5 6 11.5 6 10.5 6 10 6 10.2 6 10.8 6 11.7 6 12 6 11.5 6 10 6 8.1 6 6.4 6 5.4 6 4.9 6 4.9 6 4.8 6 4.7 6 4.5 6 4.4 6 4.5 6 4.5 6 4.2 6 3.7 6 2.8 6 1.9 6 1.2 6 .6 6 .4 6 .2 6 .2 6 .3 6 .4 6 .6 6 .6 2.3 .3"/>
<path d="M182.5 808.2l6-.2 6-.1 6-.1 6-.1 6-.1 6-.1 6-.2 6-.3 6-.7 6-1.1 6-1.9 6-3.2 6-5.1 6-7.6 6-10.2 6-12.5 6-14.1 6-14.3 6-14 6-13.9 6-14.2 6-15.7 6-18.3 6-21.4 6-23.1 6-24.2 6-25.1 6-25.9 6-25.9 6-25.4 6-24.3 6-22.9 6-21.7 6-20.4 6-19.4 6-19.4 6-20 6-20.1 6-18.4 6-15.3 6-11 6-6.9 6-3.7 6-1.8 6-1.1 6-1.5 6-2.7 6-3.8 6-4.7 6-5.2 6-5.7 6-5.7 6-4.3 6-1.2 6 3.4 6 9.1 6 14.7 6 19.3 6 22.8 6 24.9 6 25.4 6 24.5 6 22.2 6 19.6 6 17.8 6 17.1 6 17.4 6 18 6 18.3 6 17.9 6 16.5 6 14.4 6 12.4 6 11.3 6 11.5 6 12.5 6 14.1 6 15 6 15.4 6 15.4 6 15 6 14.7 6 14.2 6 13.8 6 13.4 6 12.7 6 11.9 6 10.8 6 9.1 6 7.4 6 5.7 6 3.9 6 2.2 6 1 6 .3 6 .4 6 .9 6 1.8 6 2.4 6 2.8 6 2.7 6 2.4 6 1.8 6 1.3 6 .1 6 0 6 0 6 0 6-.6 6-.9 6-1 2.3-.4"/>
<path d="M182.5 808.1l6-.4 6-.9 6-1.3 6-1.5 6-1.8 6-1.8 6-1.8 6-1.9 6-2.2 6-2.8 6-3.7 6-4.8 6-6.2 6-7.9 6-10 6-12.6 6-15.2 6-17.5 6-19.2 6-20.6 6-21.5 6-21.6 6-21.8 6-22.6 6-23.4 6-23.4 6-22.6 6-21.2 6-19.6 6-18.3 6-17.2 6-15.8 6-14.1 6-12.1 6-10.6 6-9.5 6-9.2 6-9.6 6-10.4 6-10.7 6-10.2 6-8.3 6-5.8 6-3.3 6-2 6-1.9 6-2.7 6-3.1 6-2.5 6-.8 6 1.7 6 4.5 6 6.6 6 7.3 6 6.3 6 3.9 6 1.9 6 1.5 6 3.7 6 8.3 6 14 6 19 6 21.9 6 22.6 6 21.3 6 19.2 6 16.9 6 14.4 6 11.8 6 9.6 6 8.4 6 8.4 6 9.6 6 11.3 6 13.5 6 15.5 6 16.8 6 17.1 6 16.6 6 15.3 6 13.7 6 12.4 6 11.5 6 11.1 6 10.8 6 10.3 6 9.5 6 8.6 6 7.8 6 7 6 6.6 6 6.1 6 5.8 6 5.4 6 5 6 4.4 6 3.7 6 3 6 2.5 6 2.4 6 2.3 6 2.4 6 2.4 6 2.2 6 1.7 6 1.4 6 .9 6 .5 6 .3 6-.1 6-.3 2.3-.1"/>
<path d="M182.5 806.5l6-.1 6-.3 6-.6 6-1.1 6-1.7 6-2.4 6-3 6-3.3 6-3.5 6-3.4 6-3.3 6-3.3 6-3.6 6-4.1 6-5 6-6.2 6-8.1 6-10.7 6-13.7 6-17 6-20.7 6-23.5 6-24.7 6-24.3 6-23.2 6-21.5 6-19.7 6-18.8 6-19.4 6-21.3 6-23.9 6-25.7 6-25.4 6-23.2 6-19.5 6-15.4 6-11.5 6-8.2 6-6.4 6-5.6 6-6 6-6.4 6-6.2 6-4.4 6-1.5 6 2 6 4.8 6 6 6 4.9 6 1.8 6-1.9 6-4.2 6-3.8 6-.6 6 4.2 6 9.1 6 12.4 6 13.8 6 13.6 6 12.8 6 12.3 6 12.3 6 12.6 6 12.7 6 12.5 6 11.8 6 10.6 6 8.8 6 7.2 6 6.4 6 7.1 6 8.9 6 11 6 13.1 6 14.7 6 16.4 6 18.7 6 21.5 6 24.1 6 25.5 6 24.9 6 22.1 6 18.2 6 14.2 6 10.5 6 8 6 6.3 6 5 6 3.9 6 3.4 6 2.8 6 2.5 6 2.3 6 2.5 6 2.9 6 3.5 6 4.1 6 4.4 6 4.3 6 3.6 6 2.8 6 2 6 1.3 6 .7 6 .6 6 .5 6 .6 6 .7 6 .7 6 .7 6 .7 2.3 .2"/>
<path d="M182.5 808.8l6-.8 6-1.1 6-1.3 6-1.7 6-1.9 6-2.1 6-2.2 6-2.1 6-1.8 6-1.6 6-1.6 6-2.4 6-3.7 6-5.9 6-8.3 6-10.6 6-12.4 6-13.3 6-13.6 6-14.2 6-16.1 6-19.3 6-22.7 6-26.3 6-29.6 6-32.1 6-32.4 6-30.5 6-26.5 6-21.2 6-15.4 6-10.5 6-6.9 6-5.9 6-7.2 6-10.2 6-13 6-14.5 6-13.9 6-12 6-9.3 6-7 6-5.5 6-4.7 6-5.2 6-6.7 6-9.1 6-11 6-12 6-10.8 6-7.4 6-2.3 6 3.5 6 8.5 6 11.5 6 12.6 6 12.7 6 12.3 6 12.4 6 13.1 6 14.4 6 15.8 6 17.1 6 17.7 6 18.3 6 18.7 6 19.2 6 19.3 6 18.9 6 18.1 6 17.2 6 16.5 6 15.9 6 15.2 6 14.7 6 14 6 13.6 6 13.4 6 13.3 6 12.9 6 11.9 6 10.7 6 9.3 6 8 6 7.5 6 7.6 6 8.2 6 8.9 6 9.2 6 8.9 6 7.9 6 6.8 6 5.9 6 5.3 6 4.8 6 4.4 6 4.1 6 3.7 6 3.3 6 2.7 6 2.2 6 1.6 6 1.2 6 1 6 .9 6 .8 6 .8 6 .7 6 .6 6 .5 6 .4 2.3 .2"/>
<path d="M182.5 811.3l6-.1 6-.2 6-.2 6-.5 6-.9 6-1.5 6-2.1 6-2.7 6-3.1 6-3.3 6-3.3 6-3.5 6-3.8 6-4.7 6-6.1 6-7.6 6-9.3 6-11.3 6-13 6-14.9 6-17.2 6-20.3 6-22.6 6-23.1 6-22.9 6-22.2 6-21.1 6-20 6-19.5 6-19.8 6-20.6 6-21.9 6-22.6 6-22.3 6-21.5 6-20.2 6-18.8 6-16.5 6-13.6 6-10.2 6-7 6-4.4 6-2.8 6-2.6 6-3.3 6-5.1 6-7.2 6-8.2 6-7.6 6-4.7 6-.4 6 4.8 6 9.5 6 12.8 6 14.2 6 13.9 6 12.2 6 10.1 6 8.2 6 7.5 6 8.3 6 10.9 6 14.5 6 18.6 6 22.5 6 25.2 6 25.8 6 23.8 6 19.5 6 14.4 6 9.9 6 6.6 6 4.8 6 4.8 6 5.9 6 7.9 6 10.4 6 12.8 6 14.5 6 14.9 6 14.3 6 12.7 6 11 6 9.4 6 8.5 6 8.4 6 9.2 6 10.3 6 11.6 6 11.9 6 11.4 6 10.4 6 8.7 6 6.8 6 5.2 6 3.7 6 2.8 6 2.4 6 2.2 6 2.2 6 2.1 6 2 6 1.6 6 1.3 6 .8 6 .5 6 .1 6 0 6-.2 6 0 6 .1 2.3 .1"/>
<path d="M182.5 811l6 .6 6 0 6 0 6 0 6 0 6 0 6-.8 6-2.7 6-3.7 6-4.4 6-4.9 6-5.4 6-5.6 6-5.9 6-6.3 6-6.8 6-7.7 6-9.6 6-12.1 6-14.8 6-17.5 6-20 6-22.3 6-23.6 6-23.7 6-23.7 6-23.7 6-23 6-21.3 6-19.3 6-17.5 6-16.2 6-15.8 6-15.8 6-16.2 6-17 6-17.8 6-17.9 6-17.5 6-16.7 6-15.5 6-13.4 6-10.1 6-5.3 6-.1 6 3.7 6 5.3 6 4.4 6 2.1 6-.8 6-3.5 6-4.9 6-5 6-3.8 6-1.7 6 .7 6 3.6 6 7.1 6 11.5 6 16.2 6 20.1 6 22.2 6 21.9 6 20.3 6 18.1 6 16 6 14.4 6 12.9 6 12.7 6 14.3 6 17.6 6 21.3 6 24.8 6 26.4 6 25.4 6 22.3 6 17.8 6 13 6 9.2 6 7.2 6 6.9 6 7.7 6 8.7 6 9.6 6 10.1 6 10.1 6 9.8 6 9.2 6 8.4 6 7.3 6 6.4 6 5.4 6 4.5 6 3.7 6 3 6 2.6 6 2.3 6 2.3 6 2.2 6 2.1 6 1.9 6 1.5 6 1 6 .6 6 .3 6 .1 6 .1 6 0 6 0 6-.1 6-.3 2.3-.1"/>
<path d="M182.5 807.7l6 .6 6 .4 6 0 6-.6 6-1.4 6-2.4 6-3.3 6-4.1 6-4.7 6-5.1 6-5.2 6-5.4 6-5.7 6-6.3 6-7.1 6-8.4 6-10.1 6-12.1 6-14.4 6-17 6-19.9 6-22.5 6-23.7 6-23.3 6-22.3 6-21.1 6-19.6 6-18.6 6-18.1 6-18.5 6-19.3 6-20 6-19.3 6-17.2 6-14 6-10.6 6-7.6 6-5.8 6-5.5 6-6.6 6-8.4 6-10.5 6-11.9 6-12.2 6-11.6 6-10.4 6-8.9 6-6.8 6-4.3 6-1.3 6 2 6 5 6 7.6 6 8.8 6 8.8 6 8 6 7 6 6.5 6 6.8 6 7.5 6 8.4 6 9.2 6 10.2 6 11.7 6 14.5 6 18.2 6 21.6 6 23.6 6 23.3 6 21.5 6 19.2 6 17.1 6 15.8 6 15.3 6 15.4 6 15.5 6 15.5 6 15.1 6 14 6 12.3 6 10.6 6 9.1 6 8.3 6 8.3 6 8.7 6 9.4 6 9.9 6 10.2 6 10.1 6 9.5 6 8.9 6 7.9 6 6.8 6 5.7 6 4.4 6 3.3 6 2.5 6 2 6 1.6 6 1.5 6 1.5 6 1.5 6 1.4 6 1.3 6 1.1 6 .8 6 .7 6 .6 6 .6 6 .5 6 .6 2.3 .2"/>
<path d="M182.5 807.6l6-.4 6-.4 6-.5 6-.8 6-1.1 6-1.7 6-2.2 6-3.1 6-4 6-5 6-5.6 6-6.2 6-6.1 6-5.6 6-4.9 6-4.5 6-4.9 6-6.5 6-9.6 6-13.8 6-18.6 6-22.7 6-25.3 6-26.7 6-26.8 6-25.8 6-24 6-22.3 6-21.2 6-20.6 6-20.8 6-21.1 6-20.8 6-20.1 6-18.6 6-15.9 6-12.4 6-8.8 6-6 6-5 6-6 6-8.4 6-11.1 6-12.4 6-11.7 6-8.5 6-3.4 6 2.7 6 8.1 6 11.7 6 12.9 6 11.4 6 8.4 6 4.9 6 2.3 6 1.6 6 3.5 6 7.1 6 11.5 6 15.4 6 17.8 6 18 6 16.3 6 13 6 9.5 6 6.9 6 5.8 6 6.5 6 7.8 6 9.6 6 11.5 6 13.4 6 15.2 6 16.7 6 17.4 6 17.1 6 15.7 6 13.9 6 11.8 6 10.1 6 8.8 6 8.6 6 9.2 6 10.7 6 12.2 6 13.6 6 13.9 6 13.3 6 12.1 6 10.2 6 8.7 6 7.7 6 6.9 6 6.6 6 6 6 5.2 6 4.3 6 3.2 6 2.6 6 2.1 6 1.9 6 2 6 2 6 2.1 6 1.9 6 1.8 6 1.6 6 1.1 6 .1 6 0 6 0 2.3 0"/>
<path d="M182.5 811.4l6-.2 6-.4 6-.7 6-1 6-1.5 6-1.9 6-2.3 6-2.9 6-3.2 6-3.7 6-4.1 6-4.6 6-5.2 6-5.7 6-6.3 6-6.8 6-7.9 6-9.9 6-12.5 6-15.7 6-19.7 6-24.1 6-27.7 6-29.6 6-30.3 6-30.2 6-29.1 6-26.8 6-24.1 6-21.4 6-19.1 6-17.6 6-16.3 6-15 6-14.1 6-13.5 6-12.8 6-11.5 6-9.8 6-8.2 6-7.6 6-8.1 6-9.3 6-10.2 6-9.9 6-8.8 6-6.9 6-5.1 6-2.9 6-.6 6 2.2 6 5.3 6 7.8 6 9.1 6 8.9 6 7.4 6 5.8 6 4.6 6 5 6 7 6 10.4 6 14.4 6 18 6 20.3 6 21.4 6 21.3 6 20.5 6 19.2 6 17.9 6 17.3 6 17.3 6 17.2 6 17.2 6 17.2 6 17.3 6 17.7 6 18.6 6 18.9 6 18.6 6 17.4 6 15.6 6 13.7 6 12 6 10.4 6 9.1 6 8.2 6 7.5 6 7.1 6 6.9 6 6.7 6 6.4 6 6.1 6 5.4 6 4.7 6 3.9 6 3.4 6 2.9 6 2.6 6 2.4 6 2 6 1.5 6 1.1 6 .6 6 .4 6 .3 6 .3 6 .4 6 .5 6 .6 6 .5 6 .3 2.3 .1"/>
<path d="M182.5 808.7l6-.1 6-.1 6 0 6-.2 6-.3 6-.8 6-1.2 6-1.8 6-2.1 6-2.2 6-2.2 6-2.7 6-3.9 6-5.5 6-7.6 6-9.6 6-10.9 6-11.5 6-12.2 6-13 6-14.9 6-18.1 6-22.7 6-27.1 6-29.7 6-30.4 6-30 6-28.6 6-26 6-23.1 6-20.5 6-18.1 6-16.3 6-14.2 6-11.6 6-8.7 6-6 6-4.3 6-4.1 6-5.9 6-9.8 6-14.7 6-18.7 6-20.2 6-18.2 6-13.5 6-8 6-3.5 6-1.1 6-.8 6-1.6 6-2.5 6-1.6 6 .7 6 4.2 6 7.6 6 10.2 6 12.1 6 13.4 6 15 6 16.9 6 19.3 6 21.5 6 22.6 6 22.7 6 21.5 6 19.4 6 16.9 6 14.5 6 13.2 6 13.1 6 13.6 6 14.2 6 14.6 6 15.3 6 16.2 6 17.6 6 18.9 6 19.8 6 19.6 6 18.4 6 16.1 6 13.2 6 10.3 6 7.9 6 6.5 6 6.2 6 6.7 6 7.5 6 8.1 6 8.1 6 7.7 6 6.9 6 5.7 6 4.7 6 3.6 6 2.8 6 1.9 6 1.4 6 .8 6 .5 6 .4 6 .3 6 .3 6 .3 6 .3 6 .2 6 .2 6 .1 6 0 6 0 2.3 0"/>
<path d="M182.5 809.1l6-.4 6-.7 6-.9 6-1.2 6-1.3 6-1.5 6-1.9 6-2.2 6-2.9 6-3.5 6-4.2 6-4.8 6-5.7 6-6.4 6-7.4 6-9 6-11.3 6-14.1 6-17.4 6-20.6 6-23.9 6-25.9 6-25.9 6-24.6 6-23.1 6-22.3 6-21.9 6-22.2 6-22.8 6-22.5 6-21.3 6-19 6-16.3 6-15 6-15.6 6-17.1 6-18 6-16.6 6-12.5 6-7.1 6-1.7 6 2.3 6 4.1 6 3.7 6 1.4 6-2.3 6-5.8 6-8.5 6-9.6 6-9.2 6-7.8 6-5.4 6-2.7 6 .2 6 3.4 6 6.9 6 10.7 6 14.7 6 18.9 6 22.4 6 24.6 6 25 6 23.3 6 20.6 6 17.9 6 16.1 6 15 6 14.1 6 13.2 6 12.4 6 12.3 6 13.1 6 14.6 6 16.5 6 17.8 6 17.7 6 16.5 6 14.2 6 11.5 6 9.1 6 7.8 6 7.7 6 8.5 6 10.2 6 12 6 13.2 6 13.5 6 12.6 6 10.7 6 8.3 6 6.1 6 4.5 6 3.7 6 3.2 6 3 6 3 6 3.2 6 3.2 6 3.2 6 3 6 2.5 6 2.1 6 1.6 6 1.3 6 .9 6 .7 6 .5 6 .2 6 .2 6 .1 6 .1 2.3 .1"/>
<path d="M182.5 811.6l6 0 6 0 6-.2 6-.3 6-.2 6-.5 6-1.1 6-2 6-2.9 6-4.1 6-5.2 6-6.2 6-7.5 6-8.8 6-10.2 6-11.7 6-13.2 6-14 6-14.6 6-14.9 6-15.4 6-16.4 6-17.7 6-19.1 6-21.3 6-24.9 6-29.1 6-32.5 6-34.3 6-34 6-31.1 6-26.4 6-20.6 6-14.5 6-9.1 6-5.4 6-2.6 6-.3 6 1.4 6 1.9 6 .8 6-2 6-5.8 6-9.7 6-12.3 6-13.3 6-12.8 6-10.5 6-7.1 6-3.5 6-.1 6 2.3 6 4.1 6 5.6 6 7.1 6 8.9 6 10.4 6 11.4 6 11.5 6 10.9 6 10.2 6 10.1 6 10.6 6 11.7 6 12.8 6 13.8 6 14.3 6 14.2 6 13.8 6 13.9 6 14.9 6 16.7 6 18.7 6 20.1 6 20.8 6 20.5 6 19.8 6 19 6 18.2 6 17 6 15.8 6 14.6 6 13.1 6 11.5 6 9.8 6 7.9 6 6.3 6 5.4 6 5.5 6 5.9 6 6.6 6 7.2 6 7.4 6 7.2 6 6.5 6 5.7 6 4.8 6 4.2 6 3.4 6 2.6 6 1.9 6 1.2 6 .7 6 .5 6 .4 6 .6 6 .6 6 .6 6 .6 6 .4 6 .2 2.3 0"/>
<path d="M182.5 807.5l6 .3 6 .3 6 0 6-.3 6-.5 6-.7 6-1.1 6-1.6 6-2.2 6-2.7 6-3 6-3.1 6-2.9 6-2.9 6-3.4 6-4.6 6-6.5 6-9.2 6-12.1 6-14.6 6-16.8 6-18.4 6-20.3 6-21.6 6-21.1 6-19.8 6-19 6-18.7 6-19.4 6-21 6-23 6-24.4 6-24.2 6-21.5 6-17 6-12.9 6-11 6-11.3 6-13.4 6-15.8 6-17.5 6-18 6-17.1 6-14.7 6-11.3 6-7.3 6-3.7 6-.5 6 1.6 6 3.2 6 4.2 6 5.2 6 6.2 6 7.3 6 7.6 6 7 6 5.3 6 3.4 6 2.7 6 4.3 6 8.3 6 14 6 19.4 6 23 6 24.4 6 23.8 6 21.6 6 18.3 6 14.8 6 12.4 6 11.4 6 11.6 6 12.3 6 13.3 6 14.4 6 15.6 6 17.3 6 18.8 6 19.8 6 19.9 6 18.8 6 16.8 6 14.3 6 11.5 6 8.7 6 6 6 3.9 6 2.5 6 2.1 6 2.6 6 3.6 6 4.8 6 5.8 6 6.2 6 6.2 6 5.8 6 5 6 3.9 6 2.8 6 1.8 6 1 6 .6 6 .5 6 .6 6 .7 6 .8 6 1.1 6 1.1 6 1.1 6 1 6 .8 2.3 .2"/>
<path d="M182.5 811.4l6-.4 6-.8 6-1.1 6-1.3 6-1.3 6-1.4 6-1.4 6-1.6 6-1.7 6-2.1 6-2.7 6-3.5 6-4.5 6-5.6 6-6.7 6-7.7 6-9.2 6-10.9 6-12.8 6-14.6 6-16.9 6-20.2 6-23.7 6-26.3 6-28.2 6-29.4 6-28.9 6-26.9 6-23.5 6-20 6-17 6-15.6 6-15.6 6-16.8 6-18.9 6-21 6-21.4 6-20 6-17.2 6-14.4 6-12.4 6-11 6-9.2 6-6.1 6-1.5 6 3.4 6 8.5 6 12.6 6 15.3 6 15.9 6 13.7 6 9 6 2.9 6-3.1 6-7.6 6-9.2 6-7.7 6-3.4 6 2.3 6 8.2 6 12.8 6 15.6 6 16.3 6 16.1 6 15.9 6 16.2 6 16.5 6 16.7 6 16.8 6 17.6 6 18.9 6 19.9 6 20.4 6 19.8 6 18.4 6 16.6 6 15.4 6 14.8 6 14.7 6 15.1 6 15.6 6 15.8 6 15.5 6 14.5 6 12.5 6 10.2 6 7.8 6 6.1 6 5.2 6 4.8 6 4.9 6 4.9 6 4.9 6 4.8 6 4.7 6 4.7 6 4.5 6 3.9 6 3.3 6 2.4 6 1.6 6 1 6 .7 6 .5 6 .4 6 .4 6 .3 6 .2 6 .1 6-.1 6-.3 2.3-.1"/>
<path d="M182.5 808.9l6-.4 6-.8 6-1.1 6-1.6 6-2 6-2.7 6-3.5 6-4.3 6-5.2 6-6 6-6.6 6-6.9 6-7.4 6-7.6 6-8.3 6-9.1 6-10.4 6-12 6-14.5 6-17.9 6-22.1 6-26.3 6-28.8 6-29.4 6-28.6 6-26.3 6-22.1 6-17 6-12.2 6-8.3 6-6.1 6-5.8 6-6.2 6-7.2 6-8.4 6-9.9 6-11.1 6-11.9 6-12.3 6-12.6 6-13.2 6-14.3 6-15.5 6-16.3 6-16.1 6-15.1 6-13.3 6-10.7 6-7.5 6-4.2 6-1.2 6 1.4 6 3.6 6 5.6 6 7.4 6 9.3 6 11.2 6 13.3 6 14.9 6 16.1 6 16.8 6 16.9 6 16.5 6 15.6 6 14.3 6 13.7 6 14 6 15.2 6 17.1 6 18.8 6 19.7 6 19.8 6 19.1 6 17.6 6 16.2 6 14.7 6 13.5 6 12.5 6 12 6 11.3 6 10.8 6 10.5 6 10.5 6 10.9 6 11.5 6 11.8 6 11.9 6 11.3 6 10.3 6 8.8 6 7.5 6 6.4 6 5.5 6 4.9 6 4.3 6 3.9 6 3.5 6 3.3 6 3.1 6 3.1 6 3.1 6 3 6 2.9 6 2.4 6 2 6 1.3 6 .8 6 .3 6-.1 6-.2 6-.2 2.3 0"/>
<path d="M182.5 808.6l6 .5 6 .3 6 0 6-.4 6-.7 6-1 6-1.4 6-1.5 6-1.8 6-2.2 6-2.9 6-3.9 6-5.4 6-7.2 6-8.7 6-10 6-10.8 6-11.1 6-11.2 6-11.3 6-12.5 6-15.2 6-18.1 6-20.6 6-22.4 6-23.8 6-23.8 6-22.5 6-20.2 6-17.5 6-15 6-12.7 6-10.7 6-9.3 6-9.1 6-10.8 6-13.8 6-17.1 6-20 6-21.5 6-21.6 6-20.3 6-18.1 6-15.1 6-11.9 6-9.1 6-7 6-5.6 6-4.6 6-3.6 6-2.4 6-1 6 .8 6 2.8 6 5 6 7.7 6 10.7 6 14.1 6 17.8 6 21.4 6 24.5 6 26.1 6 25.8 6 23.4 6 19.7 6 15.6 6 12 6 9.5 6 8.1 6 8 6 9.1 6 10.7 6 11.9 6 12.4 6 12.1 6 11.8 6 11.8 6 12.5 6 13.4 6 14.2 6 14.9 6 15.4 6 15.6 6 15.5 6 14.9 6 13.6 6 11.7 6 9.5 6 7.1 6 5.4 6 4.2 6 3.9 6 4 6 4.4 6 4.7 6 5 6 5 6 4.7 6 4.1 6 3.3 6 2.3 6 1.3 6 .6 6 .2 6 0 6 0 6 0 6 .1 6 .4 6 .5 6 .6 2.3 .3"/>
<path d="M182.5 810.9l6 .1 6-.3 6-.6 6-1 6-1.6 6-2.2 6-3 6-3.8 6-4.4 6-4.8 6-5.2 6-5.2 6-5.4 6-5.6 6-5.9 6-6.4 6-7.3 6-8.8 6-10.5 6-12.8 6-15.3 6-18.6 6-21.6 6-23.5 6-25.2 6-26.9 6-28.1 6-28.2 6-27 6-25 6-22.1 6-18.9 6-15.5 6-11.7 6-8.4 6-5.8 6-4.3 6-4 6-5.4 6-8.1 6-11.9 6-15.6 6-17.8 6-17.6 6-15.1 6-11.2 6-6.8 6-2.8 6 0 6 1.6 6 1.4 6-.6 6-3.1 6-5.6 6-6.1 6-4.4 6-.1 6 5.8 6 12.1 6 17.8 6 21.9 6 24.2 6 24.5 6 23 6 20.4 6 17.4 6 14.6 6 12.8 6 12.6 6 14.6 6 18.5 6 22.9 6 26 6 26.7 6 24.8 6 20.7 6 16 6 11.9 6 9.2 6 8 6 7.9 6 8.7 6 9.8 6 10.8 6 11.3 6 11.3 6 10.5 6 9.2 6 7.5 6 6.2 6 5.1 6 4.5 6 4.4 6 4.5 6 4.4 6 4.4 6 4.3 6 4.1 6 3.8 6 3.4 6 2.9 6 2.4 6 1.9 6 1.4 6 1 6 .6 6 .4 6 .1 6 .1 6 .2 6 .3 2.3 .1"/>
<path d="M182.5 807.8l6-.4 6-.6 6-.7 6-.7 6-.9 6-.9 6-1 6-1.3 6-1.7 6-2.2 6-3 6-4.2 6-5.6 6-6.9 6-7.9 6-8.4 6-8.5 6-8.9 6-10.4 6-13 6-17.1 6-22.2 6-27 6-28.9 6-28.3 6-26 6-22.7 6-19.2 6-17.1 6-17.2 6-19.2 6-22.2 6-24.7 6-25.2 6-24.1 6-21.4 6-17.5 6-13.2 6-9.4 6-6.9 6-6 6-6.5 6-7.2 6-7.3 6-6.1 6-4 6-1.2 6 1.5 6 3.7 6 4.4 6 3.6 6 1.9 6 .1 6-1.1 6-1.3 6-.9 6 0 6 1.6 6 4.1 6 8.4 6 13.8 6 19.7 6 24.2 6 26.8 6 26.8 6 24.2 6 19.8 6 14.6 6 10.6 6 8.9 6 9.7 6 12.3 6 15.9 6 19 6 21 6 21.8 6 21 6 18.9 6 16.3 6 14 6 12.3 6 11.5 6 11.2 6 11 6 10.8 6 10.4 6 10.2 6 10 6 10.2 6 10 6 9.4 6 8.1 6 6.4 6 4.6 6 3.1 6 2.2 6 1.6 6 1.4 6 1.1 6 1 6 .7 6 .6 6 .5 6 .5 6 .6 6 .6 6 .6 6 .5 6 .3 6 .1 6 0 2.3-.1"/>
<path d="M182.5 807.6l6-.6 6-.6 6-.5 6-.5 6-.8 6-1.3 6-1.9 6-2.4 6-3 6-3.4 6-4.1 6-4.7 6-5.5 6-6.6 6-7.7 6-8.7 6-9.9 6-11.3 6-12.9 6-15.2 6-18.2 6-22.1 6-25 6-26 6-25.5 6-24.1 6-22 6-20.1 6-19.2 6-19.2 6-19.7 6-19.6 6-18.4 6-15.7 6-12.4 6-9.6 6-7.2 6-5.6 6-4.8 6-5 6-6.4 6-8.4 6-10.6 6-11.9 6-11.7 6-10.8 6-9.6 6-8.7 6-8.3 6-7.9 6-6.9 6-4.6 6-1.2 6 2.3 6 5.8 6 8.6 6 11.1 6 13.9 6 16.7 6 19.3 6 20.9 6 21.3 6 19.9 6 17 6 13.4 6 10.4 6 8.5 6 7.9 6 8.7 6 10.6 6 13.2 6 16.2 6 18.6 6 20.4 6 21.2 6 21 6 20.2 6 18.8 6 17.3 6 15.4 6 13.6 6 11.5 6 9.8 6 8.2 6 7.4 6 7.3 6 7.7 6 8.5 6 9.2 6 9.2 6 8.6 6 7.6 6 6.3 6 5 6 3.9 6 3.1 6 2.9 6 2.9 6 3.1 6 3 6 2.7 6 2.2 6 1.5 6 1.2 6 .8 6 .8 6 .8 6 .7 6 .8 6 .9 6 .7 2.3 .2"/>
<path d="M182.5 810.6l6 0 6-.2 6-.5 6-.9 6-1.6 6-2.2 6-2.9 6-3.4 6-3.7 6-3.9 6-4 6-4 6-4.1 6-4.3 6-4.6 6-5.5 6-7 6-9.9 6-13 6-16.2 6-19.4 6-22 6-22.7 6-22.5 6-22.8 6-24 6-25.9 6-28.5 6-31.1 6-32.9 6-33.2 6-31.4 6-27.7 6-22.6 6-17.7 6-13.3 6-9.4 6-5.8 6-2.9 6-.7 6 .1 6-.4 6-1.7 6-3 6-3.8 6-3.6 6-2.1 6 .4 6 3.3 6 5.7 6 7.1 6 7.3 6 6.6 6 5.7 6 4.6 6 3.7 6 2.7 6 2.1 6 2.3 6 3.9 6 7.1 6 11.5 6 15.9 6 19.3 6 21.5 6 22.4 6 22.1 6 21 6 19.6 6 18.3 6 17.5 6 16.6 6 15.3 6 13.5 6 11.4 6 9.8 6 9.6 6 10.4 6 11.7 6 13.1 6 13.6 6 13.5 6 12.6 6 11.4 6 10.6 6 10 6 9.8 6 9.3 6 8.8 6 7.8 6 6.7 6 5.8 6 5.1 6 4.4 6 3.8 6 3.2 6 3 6 2.8 6 2.8 6 2.6 6 2.4 6 1.9 6 1.7 6 1.4 6 1.4 6 1.3 6 1.1 6 .8 6 .5 6 .1 6-.2 2.3-.1"/>
<path d="M182.5 810.4l6 .2 6 0 6-.4 6-1 6-1.7 6-2.4 6-3.1 6-3.7 6-3.8 6-3.9 6-4.1 6-4.9 6-6 6-7.6 6-9.1 6-10.1 6-10.4 6-10.2 6-10.4 6-11.4 6-13.9 6-17.6 6-20.7 6-22.2 6-22.1 6-21.6 6-20.5 6-19.3 6-18.7 6-18.8 6-19 6-18.9 6-18.1 6-16.5 6-15.3 6-14.4 6-13.5 6-12.2 6-10.7 6-9.4 6-9 6-8.9 6-8.7 6-7.7 6-5.7 6-3.8 6-2.6 6-2.4 6-3.4 6-5.5 6-7.9 6-9.8 6-10.3 6-9.3 6-6.6 6-3.2 6 .4 6 3.9 6 7.2 6 10.9 6 15.1 6 19.6 6 23.9 6 27.1 6 28.7 6 28.2 6 25.9 6 22.4 6 18.6 6 15.8 6 14.5 6 14.4 6 14.5 6 14.5 6 14.1 6 13.4 6 13.2 6 13.6 6 14 6 14.7 6 14.8 6 14.7 6 14.3 6 13.6 6 12.8 6 11.8 6 10.4 6 8.9 6 7.2 6 6 6 5.1 6 4.7 6 4.7 6 4.7 6 4.5 6 4.4 6 4 6 3.6 6 3.1 6 2.7 6 2.3 6 1.7 6 1.3 6 .9 6 .6 6 .2 6 0 6 0 6-.1 6 0 6 .1 2.3 0"/>
<path d="M182.5 807.6l6-1 6-1.1 6-1.2 6-1.3 6-1.5 6-1.8 6-2.1 6-2.7 6-3.5 6-4.4 6-5.5 6-6.4 6-7.1 6-7.5 6-7.6 6-7.6 6-7.9 6-9.5 6-12.3 6-15.9 6-19.4 6-21.9 6-23.7 6-25.2 6-26 6-26.1 6-26.2 6-25.9 6-25.2 6-23.5 6-20.4 6-15.7 6-10.4 6-5.8 6-3.2 6-2.8 6-4 6-5.8 6-7.5 6-8.3 6-8.5 6-8.5 6-8.5 6-8.6 6-8.8 6-9.3 6-9 6-7.8 6-5.2 6-1.9 6 2 6 5.4 6 8.4 6 10.1 6 10.5 6 9.6 6 7.8 6 6 6 4.7 6 4.9 6 6.5 6 9.1 6 12.3 6 15.1 6 16.9 6 17.5 6 17.4 6 16.4 6 15.3 6 13.9 6 13 6 12.7 6 12.8 6 13 6 12.9 6 12.5 6 11.9 6 11.4 6 11.1 6 11.3 6 11.8 6 12.4 6 13.3 6 14 6 14.1 6 13.4 6 12.1 6 10.5 6 8.8 6 7.9 6 7.2 6 6.9 6 6.3 6 5.5 6 4.4 6 3.4 6 2.5 6 2.1 6 2 6 2.2 6 2.5 6 2.9 6 2.9 6 2.8 6 2.5 6 1.9 6 1.3 6 .8 6 .4 6 .1 6 0 2.3 0"/>
<path d="M182.5 808.4l6-.2 6-.3 6-.5 6-.8 6-1.1 6-1.6 6-1.8 6-2.1 6-2.6 6-3.1 6-4.1 6-5 6-6.2 6-7.3 6-8 6-9 6-10.3 6-12.3 6-14.7 6-17.8 6-21.5 6-24.7 6-26.4 6-26.2 6-25.6 6-24.9 6-24.1 6-23.3 6-22.5 6-21.4 6-19.9 6-18.4 6-16.7 6-15.4 6-15 6-15.2 6-15.5 6-14.7 6-12.7 6-9.6 6-6.5 6-4.3 6-3.2 6-3 6-3.1 6-2.8 6-1.7 6 .2 6 2.5 6 3.9 6 3.4 6 1.1 6-1.9 6-4.4 6-4.6 6-2.4 6 1.9 6 7 6 11.5 6 15.1 6 17.8 6 20.4 6 22.8 6 24.2 6 24.6 6 23.4 6 20.7 6 17.2 6 13.5 6 10.8 6 9.7 6 10 6 11.1 6 12.5 6 13.8 6 14.9 6 15.9 6 16.9 6 17.2 6 16.6 6 14.9 6 12.8 6 10.7 6 9.3 6 8.9 6 8.9 6 9.1 6 9 6 8.6 6 7.8 6 7.2 6 6.6 6 6.3 6 6.1 6 5.6 6 4.9 6 4.2 6 3.5 6 2.9 6 2.6 6 2.2 6 2 6 1.7 6 1.4 6 1.2 6 1 6 .7 6 .5 6 .2 6 0 6 0 2.3 0"/>
<path d="M182.5 809.1l6-.3 6-.4 6-.6 6-.7 6-.7 6-.8 6-.8 6-1.1 6-1.4 6-1.9 6-2.7 6-3.9 6-5.2 6-6.5 6-7.6 6-8.9 6-10.4 6-12.9 6-15.8 6-18.7 6-21.6 6-24.3 6-25.8 6-25.5 6-24.1 6-23.1 6-22.6 6-22.8 6-23.6 6-25 6-26.1 6-26.4 6-24.8 6-20.9 6-16 6-11.4 6-7.9 6-5.9 6-5.3 6-5.7 6-6.4 6-6.7 6-6.6 6-5.7 6-4.6 6-4.2 6-4.7 6-6 6-6.9 6-6.7 6-5.3 6-2.5 6 1 6 4.8 6 8.3 6 11.4 6 13.8 6 15.7 6 16.8 6 16.9 6 16.2 6 15.3 6 14.7 6 14.8 6 16 6 17.5 6 18.4 6 17.9 6 16.6 6 15 6 13.9 6 12.8 6 12 6 11.4 6 11.4 6 12.1 6 13.4 6 14.9 6 16 6 16.5 6 16.6 6 16.5 6 16.5 6 16.3 6 15.8 6 14.8 6 13.3 6 11.3 6 8.8 6 6.4 6 4.5 6 2.9 6 2 6 1.9 6 2.3 6 3 6 3.7 6 4 6 3.7 6 3 6 2.2 6 1.2 6 .5 6 0 6-.4 6-.3 6-.2 6 .1 6 .3 6 .5 6 .5 2.3 .1"/>
<path d="M182.5 808.8l6-.6 6-1 6-1.4 6-1.8 6-2.3 6-2.4 6-2.5 6-2.5 6-2.6 6-2.9 6-3.4 6-4.3 6-4.9 6-5.2 6-5.1 6-5.3 6-6.3 6-8.9 6-12.5 6-16.9 6-21.6 6-25.1 6-27.1 6-27.8 6-27.9 6-26.8 6-24.6 6-21.7 6-18.9 6-17 6-16.4 6-16.9 6-17.7 6-18.4 6-19.1 6-19.4 6-18.8 6-16.7 6-13.4 6-9.1 6-4.9 6-1.6 6-.2 6-.5 6-1.9 6-3.6 6-4.5 6-3.9 6-2 6 .5 6 2.9 6 4.5 6 5.1 6 4.9 6 4.3 6 3.9 6 4.3 6 5.4 6 7.5 6 10.2 6 13.4 6 16.6 6 19.4 6 21.2 6 21.9 6 21.7 6 20.4 6 17.9 6 14.8 6 11.6 6 9.5 6 9.4 6 10.7 6 13.1 6 15.6 6 17.2 6 17.1 6 15.5 6 13.4 6 11.1 6 9.5 6 9.2 6 9.7 6 10.5 6 11.1 6 11 6 10 6 8.5 6 6.9 6 5.6 6 4.8 6 4.7 6 4.9 6 5.2 6 5.3 6 5.3 6 4.9 6 4.7 6 4.5 6 4.2 6 3.9 6 3.4 6 2.7 6 2.1 6 1.3 6 .8 6 .4 6 .1 6 0 6 .1 6 .2 2.3 .1"/>
<path d="M182.5 810.6l6-.2 6-.5 6-.9 6-1.3 6-1.5 6-2 6-2.4 6-3 6-3.6 6-4.3 6-5.1 6-5.9 6-6.8 6-7.7 6-8.7 6-9.3 6-10.1 6-10.6 6-11.9 6-13.8 6-16.7 6-20.8 6-24.7 6-27.1 6-28.1 6-28.2 6-27.2 6-24.7 6-21.5 6-18.5 6-16.6 6-16.3 6-17.4 6-19.4 6-21.4 6-23 6-23.2 6-21.7 6-18.5 6-14.6 6-10.2 6-6.1 6-2 6 2.3 6 6 6 8.3 6 8.5 6 6.9 6 4.2 6 1.7 6 .2 6 .1 6 1.1 6 2.4 6 3.9 6 5.4 6 6.8 6 7.9 6 8.7 6 9.1 6 9.3 6 10 6 11.3 6 13.3 6 16.3 6 19.4 6 22 6 22.9 6 22.1 6 20 6 17.7 6 15.8 6 14.5 6 13.6 6 13.3 6 13.3 6 13.9 6 15.2 6 16.5 6 17.4 6 17.4 6 16.4 6 14.6 6 12.5 6 10.5 6 8.8 6 7.3 6 6 6 5 6 4.3 6 4.1 6 4.3 6 4.8 6 5 6 5.1 6 4.9 6 4.6 6 4.1 6 3.6 6 3 6 2.3 6 1.5 6 .9 6 .5 6 .4 6 .4 6 .4 6 .5 6 .6 6 .4 6 .3 2.3 0"/>
<path d="M182.5 808.4l6-.1 6-.1 6-.3 6-.5 6-1 6-1.6 6-2.3 6-3 6-3.6 6-4.2 6-4.6 6-5.1 6-5.9 6-7 6-8.6 6-10.9 6-13.5 6-15.9 6-18 6-19.8 6-21.9 6-23.6 6-24.2 6-24.3 6-23.9 6-23 6-21.2 6-19.3 6-17.6 6-16.5 6-15.5 6-14.8 6-14 6-13.2 6-13.1 6-12.9 6-12 6-10.2 6-8.3 6-7 6-7.2 6-8.3 6-9.5 6-10 6-9.5 6-8.3 6-6.7 6-5.1 6-3.4 6-2.3 6-1.8 6-1.5 6-1 6 .3 6 2.7 6 6.2 6 10.4 6 15 6 19.7 6 23.8 6 26.1 6 26.2 6 23.5 6 18.6 6 13.5 6 9.7 6 8 6 8.1 6 9 6 9.9 6 10.7 6 11.3 6 11.8 6 12.5 6 13.5 6 14.4 6 15.5 6 16.6 6 17.9 6 19.1 6 19.9 6 20 6 19.1 6 17.2 6 14.5 6 11.4 6 8.7 6 6.6 6 5 6 4.6 6 4.4 6 4.2 6 3.8 6 3.5 6 2.9 6 2.6 6 2.5 6 2.5 6 2.4 6 2.3 6 1.8 6 1.1 6 .6 6 .1 6 0 6 0 6 .2 6 .6 6 .7 6 .8 6 .7 2.3 .2"/>
<path d="M182.5 809.4l6 .1 6 0 6-.2 6-.4 6-.8 6-1.1 6-1.6 6-2.2 6-2.8 6-3.7 6-4.6 6-5.6 6-6.5 6-7.3 6-8.2 6-9 6-10.3 6-12 6-14.1 6-16.2 6-18.1 6-20.3 6-21.6 6-21.6 6-20.5 6-19.3 6-17.9 6-16.3 6-15 6-14.2 6-14.2 6-14.8 6-15.8 6-17 6-19.4 6-22.5 6-25.4 6-26.8 6-25.8 6-22.8 6-18.1 6-12.7 6-6.8 6-1.3 6 2.9 6 4.8 6 3.8 6 .5 6-3.9 6-8.3 6-11.3 6-11.9 6-10.3 6-6.8 6-2.1 6 2.7 6 7.3 6 11.6 6 16.1 6 21.1 6 26.1 6 30.6 6 33.2 6 33.7 6 32.3 6 29.3 6 25.1 6 20.3 6 15.6 6 11.8 6 9 6 7.1 6 6.1 6 6.1 6 7.1 6 9.1 6 12 6 14.6 6 16.5 6 17.3 6 16.7 6 15.4 6 13.6 6 11.9 6 10.4 6 9.1 6 8 6 7.3 6 6.8 6 6.4 6 6 6 5.7 6 5.3 6 4.8 6 4.3 6 3.9 6 3.5 6 3.2 6 2.9 6 2.8 6 2.5 6 2.2 6 1.7 6 1.1 6 .5 6 .1 6-.1 6-.1 6-.2 6-.1 6-.3 2.3-.1"/>
<path d="M182.5 807.9l6-.6 6-.9 6-1.2 6-1.3 6-1.5 6-1.6 6-1.6 6-1.7 6-1.7 6-2.3 6-3.2 6-4.5 6-6 6-7.2 6-7.9 6-7.9 6-7.7 6-8.1 6-9.1 6-11.3 6-14.5 6-18.1 6-20.5 6-21.8 6-22.8 6-23.6 6-24 6-24.2 6-24.1 6-24.4 6-24.7 6-25.1 6-25.1 6-24.6 6-23.7 6-22.2 6-19.8 6-16.7 6-13.3 6-10.2 6-7.7 6-5.6 6-3.3 6-.4 6 2.8 6 5.1 6 5.7 6 4.4 6 1.5 6-1.7 6-4.3 6-5.6 6-5.8 6-5.1 6-3.9 6-2.2 6 0 6 2.4 6 4.8 6 7.5 6 10.6 6 14.6 6 19.5 6 24.7 6 29.3 6 32.4 6 33.6 6 32.6 6 30.1 6 26.6 6 22.6 6 17.9 6 13 6 8.7 6 5.5 6 4.1 6 4.6 6 6.4 6 8.7 6 10.9 6 12.2 6 12.4 6 11.8 6 10.5 6 9.2 6 8.4 6 8.4 6 9.1 6 10.4 6 11.2 6 11.6 6 11.3 6 10.4 6 8.8 6 6.8 6 4.8 6 3.2 6 2.1 6 1.3 6 1 6 .7 6 .5 6 .1 6 0 6-.2 6-.2 6-.2 6 0 6 .2 6 .5 6 .7 2.3 .3"/>
<path d="M182.5 810.3l6-.1 6-.1 6-.1 6-.4 6-.6 6-1.1 6-1.7 6-2 6-2.1 6-1.8 6-1.7 6-1.8 6-2.4 6-4 6-6.1 6-8.7 6-11.5 6-14.4 6-16.1 6-16.9 6-17.4 6-18.1 6-18.8 6-19.3 6-20.5 6-22.9 6-25.9 6-28.2 6-29.5 6-29.6 6-28.7 6-27 6-24.8 6-22.1 6-19.6 6-17.9 6-16.7 6-15.8 6-14.7 6-13.7 6-12.7 6-11.5 6-9.8 6-6.9 6-3.1 6 .6 6 3.7 6 5.6 6 6.9 6 8 6 9.1 6 10.6 6 11.8 6 12.6 6 12.4 6 11.8 6 10.8 6 9.7 6 8.5 6 7 6 5.7 6 5.2 6 5.8 6 7.8 6 11.2 6 15.2 6 18.3 6 19.9 6 19.5 6 18.2 6 17.4 6 17.2 6 17.4 6 17.8 6 17.7 6 17.1 6 16.6 6 16.5 6 16.6 6 16.7 6 16.3 6 15.2 6 13.2 6 10.7 6 8.5 6 6.7 6 5.5 6 5.2 6 5 6 5.1 6 5.1 6 5.1 6 4.8 6 4.6 6 4.3 6 4 6 3.7 6 3.4 6 3 6 2.6 6 2.2 6 1.7 6 1.4 6 1.2 6 .9 6 .7 6 .6 6 .5 6 .4 6 .4 6 .2 2.3 0"/>
<path d="M182.5 810.1l6 .1 6-.1 6-.3 6-.5 6-1 6-1.6 6-2.5 6-3.2 6-4 6-4.8 6-5.4 6-6.3 6-7.2 6-8.5 6-9.7 6-11.3 6-12.6 6-13.7 6-14.4 6-15.6 6-17.4 6-19 6-20.4 6-22.1 6-24.1 6-25.7 6-26.1 6-25.1 6-23.1 6-20.5 6-18 6-15.8 6-13.8 6-12 6-10.4 6-8.5 6-6.2 6-4.1 6-2.7 6-2.4 6-3 6-4.1 6-4.6 6-4.1 6-3.4 6-2.8 6-3.2 6-5 6-8.4 6-12.5 6-16.1 6-17.4 6-15.6 6-10.5 6-2.9 6 5.4 6 12.9 6 18.6 6 22 6 23.2 6 23.2 6 22.6 6 21.5 6 20.5 6 19.4 6 17.9 6 15.8 6 12.7 6 9.7 6 8 6 8.3 6 10 6 12.6 6 14.7 6 15.8 6 16 6 15.9 6 16 6 16.2 6 16.6 6 16.5 6 16 6 14.8 6 13.1 6 11.3 6 9.6 6 8.1 6 6.9 6 6 6 5.6 6 5.4 6 5.4 6 5.4 6 5.3 6 4.7 6 4.1 6 3.5 6 2.8 6 2.2 6 1.9 6 1.5 6 1.4 6 1.1 6 1 6 .9 6 .8 6 .7 6 .7 6 .6 6 .6 6 .4 2.3 .1"/>
<path d="M182.5 809.6l6-.7 6-.9 6-1.1 6-1.1 6-1.2 6-1.3 6-1.5 6-1.5 6-1.6 6-1.8 6-2.4 6-3.4 6-4.8 6-6.5 6-8.1 6-9.5 6-10.8 6-12.3 6-13.8 6-15.2 6-16.9 6-19.2 6-21.3 6-22.1 6-22.4 6-22.9 6-23 6-22.8 6-22.7 6-22.6 6-22.9 6-23.1 6-22.8 6-21.1 6-18.4 6-15 6-11.5 6-8.5 6-7 6-7.4 6-9.2 6-11.2 6-11.3 6-8.7 6-3.8 6 1.6 6 5.5 6 6.8 6 5.3 6 2.1 6-1.5 6-4 6-4.5 6-3 6 .2 6 3.7 6 7 6 9.2 6 10.2 6 10.5 6 10.4 6 10.9 6 11.8 6 13.6 6 15.9 6 18.1 6 19.2 6 18.6 6 16.6 6 14.4 6 13.8 6 15 6 17.4 6 20.1 6 21.4 6 21 6 18.9 6 15.6 6 12.2 6 9.2 6 7.7 6 7.5 6 8.5 6 9.8 6 10.8 6 11.2 6 11.1 6 10.7 6 10.5 6 9.7 6 8.9 6 7.6 6 6.3 6 4.9 6 3.7 6 2.8 6 2.2 6 1.9 6 1.9 6 2 6 2.1 6 2 6 1.8 6 1.5 6 1.1 6 .6 6 .4 6 .2 6 .3 6 .3 6 .4 2.3 .1"/>
<path d="M182.5 809.8l6-.3 6-.4 6-.9 6-1.4 6-1.9 6-2.5 6-2.8 6-3.1 6-3.3 6-3.7 6-4.2 6-4.9 6-5.6 6-6.2 6-6.6 6-7.3 6-8.5 6-10.5 6-13 6-16.4 6-20.3 6-23.6 6-25.5 6-26.6 6-26.6 6-25.6 6-23.9 6-22 6-20.5 6-19.3 6-17.6 6-15.2 6-11.8 6-8.3 6-5.7 6-5.2 6-6.8 6-9.9 6-14.2 6-17.9 6-19.8 6-19 6-15.2 6-9.5 6-3.9 6-.6 6-.2 6-2.2 6-5.4 6-8.4 6-10.3 6-10.5 6-8.8 6-5.5 6-1.1 6 3.3 6 7.5 6 11 6 14.6 6 18.1 6 21.6 6 24.5 6 26.2 6 26.1 6 24.6 6 22.3 6 19.9 6 17.9 6 16.4 6 15.4 6 15.5 6 16.3 6 17.6 6 18.2 6 17.6 6 15.5 6 12.4 6 9.1 6 6.8 6 5.8 6 6 6 7.1 6 8.3 6 9.4 6 10 6 10.2 6 10.2 6 9.9 6 10.1 6 9.7 6 9.3 6 8.8 6 8.1 6 7.4 6 6.7 6 6 6 5.4 6 4.9 6 4.2 6 3.6 6 2.8 6 2.1 6 1.4 6 1.1 6 1 6 .9 6 .9 6 .8 6 .6 6 .2 6-.1 2.3 0"/>
<path d="M182.5 808.1l6 .3 6 .1 6-.2 6-.7 6-1.3 6-2.3 6-3.2 6-4.1 6-5.1 6-5.9 6-6.4 6-6.7 6-6.9 6-7.2 6-7.4 6-8.2 6-9.7 6-11.9 6-14.8 6-18.4 6-22.5 6-26.1 6-27.5 6-27.1 6-24.9 6-21.1 6-16.3 6-12.1 6-9.7 6-9.5 6-10.9 6-12.3 6-12.8 6-12.4 6-12.3 6-13.1 6-14.7 6-16.6 6-18 6-18.2 6-17.1 6-14.5 6-10.3 6-5.2 6-.4 6 2.9 6 3.6 6 2.1 6-.7 6-3 6-3.8 6-2.2 6 1.3 6 5.4 6 8.6 6 10.3 6 10.5 6 9.6 6 8.4 6 7.6 6 7.9 6 9.8 6 13.1 6 17.3 6 21.4 6 24 6 24.1 6 21.5 6 17.5 6 13.7 6 11.6 6 11.6 6 12.7 6 14 6 14.3 6 13.4 6 11.7 6 10.1 6 8.9 6 8.3 6 8.4 6 8.8 6 9.6 6 11 6 12.2 6 13.2 6 13.7 6 13 6 11.6 6 9.6 6 7.6 6 6 6 4.7 6 4 6 3.4 6 3 6 2.9 6 2.7 6 2.7 6 2.5 6 2.3 6 1.8 6 1.3 6 .7 6 .3 6 .1 6 0 6 .1 6 .4 6 .7 6 .7 2.3 .2"/>
<path d="M182.5 807.8l6-.7 6-1 6-1 6-1.2 6-1.1 6-1.1 6-.9 6-.8 6-.7 6-.7 6-1.2 6-2.2 6-3.6 6-5.4 6-7.4 6-9.6 6-11.4 6-13 6-14.1 6-14.9 6-15.8 6-17.5 6-20.1 6-22.5 6-23.9 6-25 6-25.8 6-25.6 6-24.7 6-23.4 6-21.7 6-20.1 6-18.7 6-17.1 6-15.6 6-14.4 6-13.4 6-12.4 6-11.1 6-10.3 6-10 6-10.1 6-10.6 6-10.9 6-10.3 6-8.9 6-7.1 6-4.5 6-1.8 6 .5 6 2.2 6 3.1 6 3.2 6 2.9 6 2.7 6 2.9 6 4 6 5.9 6 8.7 6 12.1 6 15.5 6 19 6 21.5 6 23.2 6 24.3 6 25 6 24.9 6 24 6 22 6 19.5 6 17.2 6 15.4 6 14.1 6 13.4 6 12.9 6 12.5 6 12.4 6 12.6 6 13 6 13.2 6 13.4 6 13.1 6 12.3 6 11.3 6 10.1 6 9 6 7.8 6 6.9 6 6.1 6 5.3 6 5 6 4.8 6 4.5 6 4 6 3.5 6 2.9 6 2.3 6 2 6 1.8 6 1.9 6 2.1 6 2.3 6 2.4 6 2.3 6 2.1 6 1.7 6 1.4 6 1.1 6 .8 6 .5 6 .2 2.3 0"/>
<path d="M182.5 810.3l6 .3 6 .3 6 .2 6 0 6-.6 6-1.1 6-1.6 6-2.4 6-3.2 6-3.9 6-4.4 6-4.8 6-5.2 6-5.5 6-6.1 6-6.8 6-8 6-9.4 6-11.4 6-13.7 6-15.7 6-17.8 6-20.1 6-22.6 6-24.6 6-26.5 6-29.3 6-32.1 6-33.6 6-33.2 6-31 6-27.3 6-23.2 6-19.4 6-16.2 6-14.5 6-13.6 6-12.9 6-11.7 6-10.7 6-10.3 6-9.9 6-9.1 6-6.5 6-2.7 6 1.6 6 5.2 6 7.5 6 7.9 6 6.3 6 2.7 6-1.8 6-5.8 6-8.1 6-8.1 6-5.4 6-.7 6 5.1 6 10.8 6 15.9 6 19.9 6 22.7 6 24.4 6 25.4 6 25.8 6 25.4 6 23.5 6 21.1 6 19.1 6 18.1 6 18 6 18.7 6 19.3 6 19.5 6 18.8 6 17.6 6 16.2 6 15 6 14.4 6 14.7 6 15.5 6 16.3 6 16.5 6 15.9 6 14.1 6 11.4 6 8.1 6 4.8 6 1.7 6 .2 6-.4 6-.1 6 .9 6 2.1 6 3.3 6 4.1 6 4.2 6 3.9 6 3.2 6 2.3 6 1.4 6 .8 6 .6 6 .5 6 .7 6 .4 6 0 6 0 6 0 6 0 6 0 2.3 0"/>
<path d="M182.5 808l6 .2 6 .2 6-.1 6-.4 6-.8 6-1.2 6-1.5 6-1.7 6-1.9 6-2.1 6-2.6 6-3.6 6-4.9 6-6.7 6-8.6 6-10.5 6-12.2 6-13.8 6-15.3 6-16.6 6-18.2 6-20 6-21.6 6-22.2 6-22.5 6-23.3 6-24.1 6-24.6 6-24.7 6-24.6 6-24 6-22.6 6-20.1 6-16.7 6-13.2 6-10.4 6-8.8 6-8.1 6-8.1 6-8.7 6-9.4 6-9.8 6-9.1 6-6.9 6-3.6 6-.6 6 1.1 6 1.2 6-.5 6-3.2 6-5.8 6-7 6-6 6-3.5 6 .5 6 4.8 6 9 6 12.8 6 15.9 6 18.1 6 19.1 6 18.7 6 17.6 6 16.7 6 17 6 18 6 18.9 6 18.6 6 17.4 6 16 6 15.1 6 15 6 15.4 6 16.1 6 16.5 6 16.2 6 15.8 6 15 6 13.9 6 13 6 12.2 6 11.2 6 10.3 6 8.9 6 7.7 6 6.5 6 5.7 6 5.6 6 6.2 6 7.1 6 8.1 6 8.9 6 8.9 6 8.3 6 6.8 6 5.2 6 3.6 6 2.5 6 1.7 6 1.4 6 1.3 6 1.3 6 1.3 6 1.3 6 1.2 6 .9 6 .8 6 .6 6 .5 6 .2 6 0 2.3 0"/>
<path d="M182.5 809l6 0 6-.3 6-.6 6-1 6-1.4 6-1.7 6-1.9 6-2.1 6-2.4 6-2.7 6-3.1 6-3.9 6-5 6-6.3 6-7.9 6-9.1 6-10.1 6-10.4 6-11.2 6-12.3 6-13.8 6-15.9 6-18.7 6-21.2 6-22.6 6-23.8 6-26 6-28 6-29.4 6-29.6 6-28 6-24.6 6-20.3 6-15.8 6-12.2 6-10.8 6-11.3 6-12.2 6-12.8 6-12.6 6-11.7 6-10.3 6-8.4 6-5.9 6-3 6-.9 6-.1 6-.5 6-1.5 6-2.5 6-2.7 6-2.1 6-.8 6 .5 6 1.5 6 2.1 6 2.7 6 4.2 6 7 6 11 6 15.4 6 19.1 6 21 6 21.4 6 20.9 6 19.9 6 18.4 6 17 6 16.5 6 17.6 6 19.7 6 21.7 6 23 6 22.6 6 20.6 6 17.8 6 15.1 6 12.7 6 11.1 6 10.4 6 10.1 6 9.9 6 10 6 10.1 6 10.2 6 10.3 6 10.3 6 10.2 6 9.9 6 9.2 6 8.3 6 7.2 6 6.1 6 5.1 6 4.3 6 3.7 6 3.3 6 2.7 6 2.1 6 1.3 6 .7 6 .1 6 0 6 0 6 0 6-.4 6-.4 6-.4 6-.4 6-.2 6-.1 2.3 0"/>
<path d="M182.5 811.6l6 0 6 0 6 0 6-.1 6-.9 6-1.6 6-2.5 6-3.5 6-4.4 6-4.8 6-5.1 6-5 6-5.1 6-5.7 6-6.8 6-8 6-9.3 6-10.3 6-11 6-11.5 6-12.8 6-15.3 6-18.8 6-22 6-25 6-28.1 6-30.1 6-30.5 6-29.6 6-27.4 6-24.6 6-21.3 6-18.2 6-15.6 6-14.4 6-14.2 6-14.2 6-13.1 6-10.8 6-7.6 6-4.8 6-2.9 6-2.7 6-3.4 6-4.7 6-6.4 6-7.5 6-8.2 6-8 6-7.6 6-6.7 6-5 6-2.5 6 .8 6 4.6 6 8.2 6 11.5 6 14.3 6 17.2 6 19.7 6 21.8 6 23 6 22.7 6 21.7 6 20.5 6 19.9 6 19.7 6 19.5 6 19.3 6 18.8 6 17.6 6 15.8 6 13.6 6 12 6 11.1 6 11.6 6 12.7 6 13.7 6 14.1 6 13.8 6 12.8 6 11.9 6 10.8 6 10 6 9.4 6 9 6 8.7 6 8.5 6 8.3 6 7.7 6 7.3 6 6.6 6 5.8 6 4.9 6 4.2 6 3.4 6 2.7 6 2 6 1.5 6 1 6 .5 6 .1 6-.1 6-.2 6-.2 6-.2 6-.1 6 .1 6 0 6 .1 6 .1 2.3 .1"/>
<path d="M182.5 811.1l6-.2 6-.4 6-.6 6-1 6-1.6 6-2.3 6-2.8 6-3.3 6-3.7 6-4.1 6-4.5 6-5 6-5.8 6-6.5 6-7.5 6-8.6 6-10.1 6-11.7 6-13.5 6-15.3 6-17.3 6-19.4 6-20.1 6-20 6-20.1 6-20.6 6-21.7 6-23.3 6-25.3 6-27.1 6-27.8 6-27 6-24.1 6-19.6 6-15.2 6-11.9 6-10 6-9.1 6-8.3 6-7.1 6-4.9 6-2.1 6 .4 6 1.8 6 1.4 6-.9 6-3.8 6-6.2 6-7 6-6.5 6-5.4 6-4.1 6-2.9 6-1.4 6 .9 6 3.9 6 7.2 6 9.9 6 11.5 6 12 6 11.9 6 11.4 6 11.1 6 10.9 6 11.6 6 13 6 15.1 6 17.3 6 19 6 20 6 20.5 6 20.6 6 20.2 6 19.7 6 19.1 6 18.1 6 16.8 6 15.5 6 14.2 6 13.4 6 13 6 13 6 13.1 6 12.8 6 12.2 6 11.2 6 9.9 6 8.8 6 7.6 6 6.6 6 5.8 6 5.2 6 4.8 6 4.3 6 3.8 6 3.4 6 3 6 3 6 2.9 6 2.9 6 2.7 6 2.4 6 1.9 6 1.4 6 .9 6 .5 6 .2 6 .1 6-.1 6 0 6-.1 2.3 0"/>
<path d="M182.5 810.2l6-.3 6-.4 6-.5 6-.7 6-.9 6-1.4 6-2 6-2.4 6-2.8 6-2.9 6-2.8 6-2.8 6-2.8 6-3.2 6-4.1 6-5.7 6-7.8 6-11.1 6-14.6 6-17.7 6-20.6 6-23.1 6-25.5 6-26.7 6-26.6 6-26 6-25 6-23.2 6-20.7 6-18.3 6-16.4 6-15.6 6-15.6 6-16.4 6-17.3 6-18.5 6-19.1 6-18.7 6-17.3 6-15.5 6-13.8 6-12.6 6-11.5 6-9.7 6-7.6 6-5.4 6-3.8 6-3 6-2.5 6-1.4 6 .4 6 3.1 6 6.4 6 9.3 6 11.5 6 13 6 14.5 6 16.2 6 18.5 6 20.7 6 21.9 6 21.2 6 18.7 6 14.9 6 11.7 6 9.6 6 9.1 6 9.1 6 9.2 6 9.5 6 10.2 6 11.4 6 12.8 6 14.2 6 15.7 6 16.8 6 17.7 6 18.3 6 18.3 6 17.8 6 16.8 6 15.7 6 14.7 6 13.7 6 12.6 6 11.5 6 10.1 6 8.7 6 7.1 6 5.8 6 5.1 6 4.5 6 4.5 6 4.2 6 4.2 6 4 6 3.8 6 3.5 6 3 6 2.6 6 2 6 1.6 6 1.2 6 .9 6 .6 6 .3 6 .2 6 0 6-.1 6-.2 6-.2 2.3-.1"/>
<path d="M182.5 808.9l6-.2 6-.5 6-1 6-1.4 6-2 6-2.4 6-2.9 6-3.2 6-3.5 6-3.8 6-4.1 6-4.4 6-4.9 6-5.5 6-6.8 6-8.6 6-10.7 6-13.4 6-16 6-18.7 6-21.1 6-22.4 6-23.7 6-25.4 6-27.1 6-28.1 6-28 6-26.4 6-23.3 6-19.2 6-14.9 6-10.8 6-8.1 6-7.6 6-9.4 6-12.6 6-15.9 6-18.2 6-19.1 6-18.1 6-15.4 6-10.9 6-5.3 6 .7 6 5.7 6 9.1 6 10.5 6 10.8 6 10.2 6 9.1 6 7.1 6 4.4 6 .9 6-2.5 6-4.8 6-5.3 6-3.1 6 .8 6 5.6 6 9.7 6 12.5 6 13.5 6 13.6 6 13 6 12.7 6 13 6 14 6 15 6 16.1 6 16.9 6 18 6 19.2 6 20.3 6 20.8 6 20.7 6 19.2 6 17 6 14.1 6 11.4 6 9.3 6 8 6 7.7 6 8.2 6 8.9 6 9.6 6 9.9 6 9.4 6 8.5 6 7.4 6 6.6 6 6 6 5.9 6 6 6 5.9 6 5.7 6 4.9 6 4 6 3.2 6 2.4 6 2.1 6 1.8 6 1.9 6 2 6 2 6 2.1 6 1.9 6 1.6 6 1.3 6 .7 6 .4 6 .2 2.3 0"/>
<path d="M182.5 808.7l6-.3 6-.5 6-.9 6-1.1 6-1.2 6-1.4 6-1.6 6-1.7 6-2 6-2.2 6-2.9 6-3.8 6-5 6-6.3 6-7.9 6-9.6 6-11.3 6-13.2 6-15 6-16.6 6-17.8 6-19.2 6-20.5 6-20.4 6-19.5 6-19 6-19 6-19.4 6-20.6 6-22.4 6-24.7 6-26.5 6-27.1 6-26.1 6-24.1 6-22.3 6-21 6-20 6-18.9 6-17.5 6-15.4 6-12.2 6-7.8 6-2 6 4.1 6 9 6 11.2 6 10.8 6 7.7 6 3.2 6-1.4 6-5.1 6-6.6 6-5.8 6-3.4 6-.3 6 2.3 6 4 6 5 6 5.8 6 7.3 6 9.8 6 13.3 6 17.6 6 22 6 25.8 6 27.9 6 27.9 6 26.4 6 24.8 6 24 6 23.4 6 22.7 6 21.4 6 19 6 16.2 6 14 6 12.6 6 12.5 6 13 6 13.8 6 13.9 6 13.2 6 12 6 10.5 6 9 6 8 6 7.4 6 6.9 6 6.8 6 6.6 6 6.5 6 6.4 6 6.1 6 5.6 6 5 6 4.1 6 3 6 2.1 6 1.3 6 .5 6 0 6 0 6 0 6-.5 6-.5 6-.4 6-.3 6-.1 6 .1 6 .3 2.3 .1"/>
<path d="M182.5 807.5l6-.2 6-.3 6-.5 6-.6 6-1 6-1.2 6-1.7 6-2 6-2.6 6-3.2 6-4.1 6-5 6-6.1 6-7.2 6-8.4 6-9.6 6-11 6-11.9 6-12.6 6-13.3 6-14.7 6-17.4 6-20.2 6-22.8 6-25.6 6-27.3 6-27.4 6-25.7 6-23.2 6-20.7 6-19 6-17.7 6-16.7 6-15.7 6-15.2 6-15.3 6-15.7 6-16 6-15.4 6-14 6-11.6 6-8.5 6-4.6 6-.3 6 3.9 6 7 6 8.4 6 8.2 6 6.8 6 4.9 6 2.6 6 .7 6-.9 6-2 6-2.7 6-3.2 6-3.2 6-2.5 6-.6 6 2.7 6 7.2 6 12.3 6 16.5 6 19 6 19.6 6 19.2 6 18 6 16.7 6 15.6 6 15.3 6 15.9 6 16.9 6 17.6 6 17.6 6 16.8 6 15.2 6 13.8 6 12.8 6 12 6 11.7 6 11.6 6 11.8 6 12.4 6 13 6 13.4 6 13.3 6 12.7 6 11.2 6 9.5 6 7.6 6 6.2 6 5.6 6 5.4 6 5.6 6 5.6 6 5.2 6 4.8 6 3.9 6 3.2 6 2.4 6 1.7 6 1.4 6 1.1 6 1.1 6 1 6 1 6 .8 6 .7 6 .5 6 .4 6 .3 2.3 0"/>
<path d="M182.5 809.9l6-.3 6-.5 6-.9 6-1.1 6-1.2 6-1 6-.8 6-.8 6-1.2 6-1.8 6-2.7 6-3.8 6-4.7 6-5.8 6-6.8 6-8 6-9.4 6-10.9 6-12.9 6-14.7 6-15.8 6-16.3 6-17 6-17.9 6-18.6 6-19.8 6-22.3 6-25.6 6-28.7 6-31.3 6-32.8 6-32.4 6-29.6 6-24.5 6-18.5 6-13.1 6-9.4 6-6.6 6-4.2 6-2.1 6-.7 6-.3 6-1.3 6-3.2 6-5.7 6-8.4 6-10.4 6-10.8 6-9.2 6-6 6-2.3 6 .6 6 1.8 6 1.4 6-.1 6-1.5 6-1.7 6 .3 6 4.5 6 10.8 6 18.2 6 24.8 6 29.2 6 31.1 6 30.3 6 27.5 6 23.8 6 20.5 6 18.9 6 18.9 6 19.1 6 19 6 17.4 6 15 6 12.5 6 10.6 6 9.6 6 9.4 6 9.8 6 10.7 6 11.8 6 13 6 13.7 6 14 6 13.7 6 12.8 6 11.6 6 10 6 8.5 6 6.9 6 5.3 6 3.6 6 2.3 6 1.2 6 .6 6 .4 6 .3 6 .3 6 .4 6 .5 6 .9 6 1.1 6 1.2 6 1.4 6 1.3 6 1.2 6 .9 6 .7 6 .4 6 .2 6 .1 2.3 0"/>
<path d="M182.5 809.8l6-.6 6-.9 6-1.2 6-1.9 6-2.6 6-3.3 6-3.7 6-3.7 6-3.5 6-3.3 6-3.3 6-3.6 6-4.6 6-5.8 6-7.2 6-8.8 6-10.5 6-12.2 6-14.1 6-16.4 6-19.5 6-22.7 6-25.1 6-27 6-29.1 6-30.5 6-30.7 6-29.1 6-25.9 6-21.5 6-16.7 6-12.6 6-9.5 6-8.3 6-9 6-11.2 6-13.3 6-14 6-12.9 6-10.1 6-6.7 6-3.4 6-1.2 6-.2 6-.8 6-3 6-5.8 6-7.8 6-8.2 6-7 6-4.3 6-1.4 6 1.7 6 4.5 6 7.2 6 9.9 6 12.7 6 15 6 16.1 6 15.6 6 13.9 6 11.7 6 10 6 9.5 6 10.8 6 13.3 6 16.5 6 19.5 6 21.4 6 22.4 6 22.6 6 22.4 6 21.6 6 20.3 6 18.8 6 16.8 6 14.5 6 12.2 6 10.1 6 8.6 6 7.6 6 7.5 6 7.8 6 8.5 6 8.9 6 9.1 6 8.9 6 8.5 6 7.9 6 7.5 6 7.2 6 6.9 6 6.8 6 6.4 6 5.7 6 4.8 6 3.9 6 3.1 6 2.4 6 1.9 6 1.7 6 1.5 6 1.4 6 1.2 6 1.1 6 .9 6 .7 6 .4 6 .1 6 0 6-.2 2.3-.1"/>
<path d="M182.5 809.3l6-.4 6-.6 6-.9 6-1.2 6-1.3 6-1.4 6-1.6 6-1.9 6-2.8 6-3.8 6-5.1 6-6.6 6-7.9 6-9 6-9.9 6-10.4 6-10.8 6-11.5 6-12.5 6-14.2 6-15.8 6-16.4 6-16.2 6-16.1 6-16.5 6-17.3 6-18.7 6-20.5 6-22.7 6-25.3 6-28 6-30 6-31 6-30.7 6-28.5 6-24.3 6-17.8 6-10.9 6-4.6 6-.8 6 .2 6-.9 6-3 6-4.5 6-5.4 6-5.4 6-5.2 6-4.8 6-3.8 6-2.3 6 .6 6 4.2 6 7.9 6 10.9 6 12.4 6 12.5 6 11.5 6 10.5 6 10 6 10.5 6 12 6 14.2 6 16 6 17 6 16.9 6 16.2 6 14.9 6 13.7 6 12.6 6 12.3 6 12.8 6 13.9 6 15.1 6 16.1 6 16.4 6 16 6 15.1 6 14.2 6 13.3 6 12.9 6 13 6 13.4 6 14.1 6 14.5 6 14.3 6 13.4 6 11.8 6 9.7 6 7.5 6 5.8 6 4.5 6 3.6 6 3.1 6 2.9 6 2.7 6 2.8 6 2.7 6 2.7 6 2.6 6 2.2 6 2 6 1.7 6 1.4 6 1.4 6 1.2 6 1.2 6 1.1 6 .8 6 .6 6 .4 6 .3 2.3 .1"/>
<path d="M182.5 808.8l6-.3 6-.5 6-.8 6-1.3 6-2 6-2.4 6-2.6 6-2.9 6-3.1 6-3.4 6-4.1 6-5.1 6-6.4 6-7.6 6-9 6-10.2 6-11.6 6-13.2 6-15.1 6-17.7 6-20.3 6-21.8 6-21.7 6-21.2 6-20.3 6-19.2 6-18.2 6-17.6 6-18 6-19.4 6-21.6 6-23.4 6-23.9 6-22.6 6-19.8 6-16.2 6-12.8 6-10.5 6-9.9 6-10.6 6-11.3 6-11.2 6-9.5 6-6.3 6-2.3 6 1.3 6 4.2 6 6.2 6 7.3 6 7.7 6 7 6 5.2 6 2.3 6-1.2 6-4.3 6-5.4 6-3.9 6 .2 6 5.8 6 11.2 6 15.2 6 17.2 6 17.3 6 16.7 6 16.9 6 18.3 6 20.2 6 21.6 6 21.4 6 19.6 6 16.9 6 14 6 11.7 6 10.5 6 10.2 6 10.9 6 12.2 6 14.1 6 16.1 6 17.6 6 18.6 6 18.7 6 17.9 6 16.4 6 14.2 6 11.8 6 9.2 6 7 6 5.1 6 4.1 6 3.6 6 3.5 6 3.6 6 3.5 6 3.3 6 3 6 2.6 6 2.3 6 2.1 6 2.1 6 2 6 2 6 1.8 6 1.7 6 1.5 6 1.4 6 1.1 6 1 6 .8 6 .8 6 .6 2.3 .2"/>
<path d="M182.5 809.3l6 .2 6 0 6-.4 6-.8 6-1.2 6-1.6 6-2 6-2.4 6-2.9 6-3.3 6-3.9 6-4.3 6-4.6 6-4.9 6-5.4 6-6.2 6-7.9 6-10.8 6-14.1 6-17.5 6-21.2 6-24.7 6-26.6 6-27.2 6-27.3 6-27.3 6-26.9 6-25.7 6-23.8 6-21.2 6-18.2 6-15.3 6-12.5 6-10.2 6-9.7 6-10.7 6-12.6 6-14.3 6-14.9 6-13.9 6-11.4 6-7.7 6-3.2 6 1.3 6 4.7 6 5.7 6 3.8 6 .1 6-4.3 6-7.8 6-9.5 6-9.2 6-7.3 6-4.6 6-1.9 6 .7 6 2.9 6 5.4 6 8 6 11.4 6 15 6 18.5 6 21.3 6 22.9 6 23.3 6 22.8 6 21.3 6 18.9 6 16.3 6 14.1 6 13.5 6 13.8 6 14.5 6 15.2 6 15.2 6 14.6 6 13.9 6 13.8 6 13.7 6 14 6 14.3 6 14.2 6 14.2 6 13.8 6 13.4 6 13 6 12.1 6 10.8 6 8.9 6 7.1 6 5.3 6 4.4 6 4 6 4 6 4 6 3.8 6 3.3 6 2.6 6 2 6 1.5 6 1.4 6 1.1 6 1 6 .8 6 .8 6 .6 6 .6 6 .6 6 .5 6 .4 6 .3 2.3 .1"/>
<path d="M182.5 807.5l6-.3 6-.4 6-.6 6-.8 6-1 6-1.4 6-1.5 6-2 6-2.6 6-3.7 6-5.2 6-6.9 6-8.4 6-9.6 6-10 6-10.1 6-10 6-10.1 6-10.9 6-12.4 6-14.9 6-17.6 6-19.7 6-21.3 6-23.2 6-25.2 6-26.4 6-26.5 6-25.9 6-24.2 6-22.3 6-20.1 6-17.6 6-15.5 6-14.3 6-14 6-13.9 6-13.4 6-12.1 6-9.7 6-6.9 6-4.6 6-3.2 6-2.8 6-3.8 6-5.5 6-7.5 6-8.4 6-7.7 6-5.4 6-2.3 6 .7 6 3.3 6 5 6 6.2 6 7.2 6 8.5 6 10.4 6 13.1 6 16.2 6 19.1 6 21.6 6 22.9 6 22.8 6 21.9 6 20 6 17.4 6 14.2 6 10.8 6 8.1 6 7 6 7.1 6 8 6 9.3 6 10.3 6 11 6 11.5 6 12.1 6 12.9 6 13.9 6 15.2 6 16.3 6 16.9 6 16.9 6 16.1 6 14.7 6 13.1 6 11.4 6 9.9 6 8.3 6 7.1 6 6 6 5.3 6 4.6 6 4.1 6 3.6 6 3.5 6 3.2 6 3.2 6 3.1 6 2.8 6 2.4 6 1.9 6 1.3 6 .7 6 .4 6 .1 6 0 6 0 6 0 6 0 2.3 0"/>
<path d="M182.5 808.5l6-.7 6-.7 6-.7 6-.7 6-.6 6-.6 6-.9 6-1.3 6-2.1 6-3.2 6-4.6 6-6.1 6-7.6 6-9.3 6-11 6-12.8 6-14.6 6-16.1 6-17.3 6-19 6-20.9 6-22 6-22.2 6-21.9 6-21.2 6-20 6-18.5 6-17.5 6-17.3 6-17.5 6-17.6 6-16.9 6-15.4 6-14 6-13.7 6-14.9 6-17 6-19 6-19.9 6-19.3 6-16.8 6-13 6-8.5 6-3.7 6 .4 6 3.3 6 5.3 6 6.1 6 6.4 6 5.7 6 4.5 6 2.8 6 .9 6-.3 6-.4 6 1.6 6 5.3 6 10.5 6 16.4 6 21.5 6 25.4 6 27.3 6 27.2 6 24.9 6 21.4 6 17.1 6 12.9 6 9.1 6 6.3 6 4.7 6 4.5 6 5.8 6 7.6 6 9.7 6 11.7 6 13.1 6 14 6 14.4 6 14.2 6 13.4 6 11.9 6 10.2 6 8.8 6 8 6 8.1 6 8.7 6 9.5 6 9.9 6 10.2 6 9.6 6 8.6 6 7.6 6 6.7 6 6 6 5.5 6 5.1 6 4.7 6 4.3 6 4 6 3.7 6 3.4 6 2.9 6 2.3 6 1.7 6 1 6 .7 6 .5 6 .5 6 .5 6 .6 6 .5 2.3 .2"/>
<path d="M182.5 807.4l6-.3 6-.5 6-.5 6-.7 6-.9 6-1.5 6-2 6-2.6 6-3 6-3.3 6-3.4 6-3.6 6-3.9 6-4.7 6-6.1 6-7.5 6-9.2 6-11.1 6-12.8 6-14.8 6-17.2 6-20.4 6-23.4 6-24.6 6-24.7 6-24.5 6-24 6-23.8 6-24.1 6-24.9 6-25.6 6-25.7 6-24.3 6-21.6 6-18.5 6-16.2 6-14.9 6-13.9 6-13 6-11.5 6-9.3 6-6.8 6-4 6-.7 6 2.8 6 5.9 6 7.7 6 7.6 6 5.4 6 1.8 6-2.5 6-5.9 6-7.3 6-6.2 6-2.7 6 2.3 6 7.6 6 12.5 6 16.7 6 19.9 6 21.7 6 22.2 6 21.4 6 19.5 6 17.8 6 16.6 6 16.1 6 15.6 6 14.5 6 13.1 6 12.3 6 12.2 6 12.7 6 13.3 6 13.7 6 13.6 6 13 6 12.7 6 12.6 6 12.5 6 12.5 6 12.5 6 12.3 6 12.1 6 11.6 6 10.9 6 9.5 6 7.9 6 6.3 6 4.8 6 3.9 6 3.7 6 4.2 6 4.8 6 5.3 6 5.6 6 5.5 6 5 6 4.5 6 3.7 6 3 6 2.4 6 1.8 6 1.4 6 1.2 6 1 6 .9 6 .9 6 .8 6 .9 6 .6 2.3 0"/>
</g>
<path d="M182.5 812l2-.1 2 0 2-.1 2-.1 2-.1 2-.1 2-.1 2-.2 2-.1 2-.2 2-.3 2-.2 2-.3 2-.3 2-.4 2-.4 2-.4 2-.5 2-.6 2-.6 2-.6 2-.7 2-.8 2-.8 2-.8 2-.9 2-1 2-1 2-1.1 2-1.2 2-1.3 2-1.4 2-1.5 2-1.7 2-1.7 2-1.8 2-1.9 2-2 2-2.1 2-2.3 2-2.5 2-2.6 2-2.7 2-2.9 2-3 2-3 2-3.2 2-3.4 2-3.4 2-3.7 2-3.8 2-4 2-4.2 2-4.5 2-4.6 2-4.8 2-5 2-5.3 2-5.4 2-5.7 2-5.8 2-6.1 2-6.4 2-6.7 2-7 2-7.3 2-7.4 2-7.6 2-7.5 2-7.5 2-7.6 2-7.5 2-7.7 2-7.9 2-7.9 2-8.2 2-8.3 2-8.4 2-8.4 2-8.5 2-8.6 2-8.5 2-8.5 2-8.4 2-8.3 2-8 2-7.7 2-7.7 2-7.5 2-7.5 2-7.4 2-7.4 2-7.3 2-7.1 2-6.9 2-6.7 2-6.5 2-6.3 2-6.1 2-6 2-5.8 2-5.6 2-5.4 2-5.2 2-5 2-4.8 2-4.8 2-4.6 2-4.5 2-4.5 2-4.5 2-4.3 2-4.1 2-3.9 2-3.6 2-3.2 2-2.9 2-2.7 2-2.4 2-2.3 2-2 2-1.9 2-1.7 2-1.5 2-1.4 2-1.3 2-1.1 2-1.1 2-.9 2-.8 2-.7 2-.7 2-.5 2-.4 2-.3 2-.3 2-.2 2-.2 2-.1 2-.1 2-.1 2 0 2-.1 2 0 2 0 2 0 2 0 2 0 2 0 2 0 2-.1 2-.1 2-.1 2-.2 2-.2 2-.3 2-.3 2-.2 2-.3 2-.3 2-.2 2-.2 2-.1 2-.1 2 0 2 .2 2 .4 2 .6 2 .7 2 1 2 1.2 2 1.4 2 1.7 2 1.9 2 2.3 2 2.5 2 3 2 3.4 2 3.9 2 4.3 2 4.6 2 4.8 2 5.1 2 5.3 2 5.4 2 5.7 2 5.9 2 6 2 6.2 2 6.2 2 6.3 2 6.3 2 6.3 2 6.3 2 6.3 2 6.3 2 6.2 2 6.3 2 6.2 2 6.3 2 6.3 2 6.2 2 6.2 2 6.1 2 5.9 2 5.7 2 5.5 2 5.4 2 5.2 2 5.3 2 5.2 2 5.1 2 5.2 2 5.2 2 5.2 2 5.2 2 5.2 2 5.2 2 5.2 2 5.3 2 5.2 2 5.2 2 5.2 2 5.1 2 5 2 5 2 4.9 2 4.8 2 4.8 2 4.8 2 4.7 2 4.8 2 4.8 2 4.8 2 4.8 2 4.8 2 4.8 2 4.8 2 4.7 2 4.7 2 4.8 2 4.6 2 4.6 2 4.6 2 4.5 2 4.4 2 4.3 2 4.3 2 4.2 2 4.2 2 4 2 3.9 2 3.8 2 3.7 2 3.7 2 3.5 2 3.4 2 3.3 2 3.2 2 3.1 2 2.9 2 2.9 2 2.7 2 2.6 2 2.5 2 2.5 2 2.3 2 2.2 2 2.1 2 2 2 2 2 1.9 2 1.9 2 1.9 2 1.8 2 1.7 2 1.7 2 1.7 2 1.7 2 1.6 2 1.6 2 1.6 2 1.5 2 1.4 2 1.4 2 1.4 2 1.3 2 1.3 2 1.3 2 1.2 2 1.2 2 1.1 2 1.2 2 1 2 1 2 1 2 1 2 .9 2 .9 2 .8 2 .9 2 .8 2 .7 2 .7 2 .6 2 .6 2 .6 2 .5 2 .5 2 .5 2 .4 2 .4 2 .4 2 .3 2 .4 2 .2 2 .3 2 .2 2 .2 2 .2 2 .1 2 .1 2 .2 2 .1 2 .1 2 .1 2 0 2 .1 2 .1 2 0 2 .1 2 0 2 .1 2 0 .3 0" stroke="#3aaf85" stroke-width="4" fill="none" stroke-linejoin="round" stroke-linecap="butt"/>
</g>
<g fill="#333333" shape-rendering="crispEdges">
<rect x="148" y="143" width="738" height="2"/>
<rect x="148" y="843" width="738" height="2"/>
<rect x="148" y="143" width="2" height="702"/>
<rect x="884" y="143" width="2" height="702"/>
<rect x="276" y="845" width="3" height="9"/>
<rect x="495" y="845" width="3" height="9"/>
<rect x="713" y="845" width="3" height="9"/>
<rect x="138" y="301" width="10" height="3"/>
<rect x="138" y="471" width="10" height="3"/>
<rect x="138" y="641" width="10" height="3"/>
<rect x="138" y="811" width="10" height="3"/>
</g>
<g font-family="Liberation Sans, sans-serif" font-size="32" fill="#4d4d4d">
<text x="277.7" y="886.6" text-anchor="middle">15</text>
<text x="496.1" y="886.6" text-anchor="middle">20</text>
<text x="714.4" y="886.6" text-anchor="middle">25</text>
<text x="130.2" y="825.0" text-anchor="end">0.00</text>
<text x="130.2" y="655.0" text-anchor="end">0.05</text>
<text x="130.2" y="485.0" text-anchor="end">0.10</text>
<text x="130.2" y="315.0" text-anchor="end">0.15</text>
</g>
<g font-family="Liberation Sans, sans-serif" fill="#000000">
<text x="148.3" y="55.8" font-size="48.1">Posterior Predictive Check</text>
<text x="148.3" y="114.9" font-size="39.1">Model-predicted lines should resemble observed data line</text>
<text x="516.5" y="932.9" font-size="40" text-anchor="middle">jobsat</text>
<text transform="translate(49.8 493.3) rotate(-90)" font-size="40" text-anchor="middle">Density</text>
<text x="1011" y="511.6" font-size="31.1">Observed data</text>
<text x="1011" y="557.6" font-size="31.1">Model-predicted data</text>
</g>
<rect x="949" y="498" width="37" height="2" fill="#3aaf85" shape-rendering="crispEdges"/>
<rect x="949" y="544" width="37" height="2" fill="#0077b5" shape-rendering="crispEdges"/>
</svg>
</body>
</html>
